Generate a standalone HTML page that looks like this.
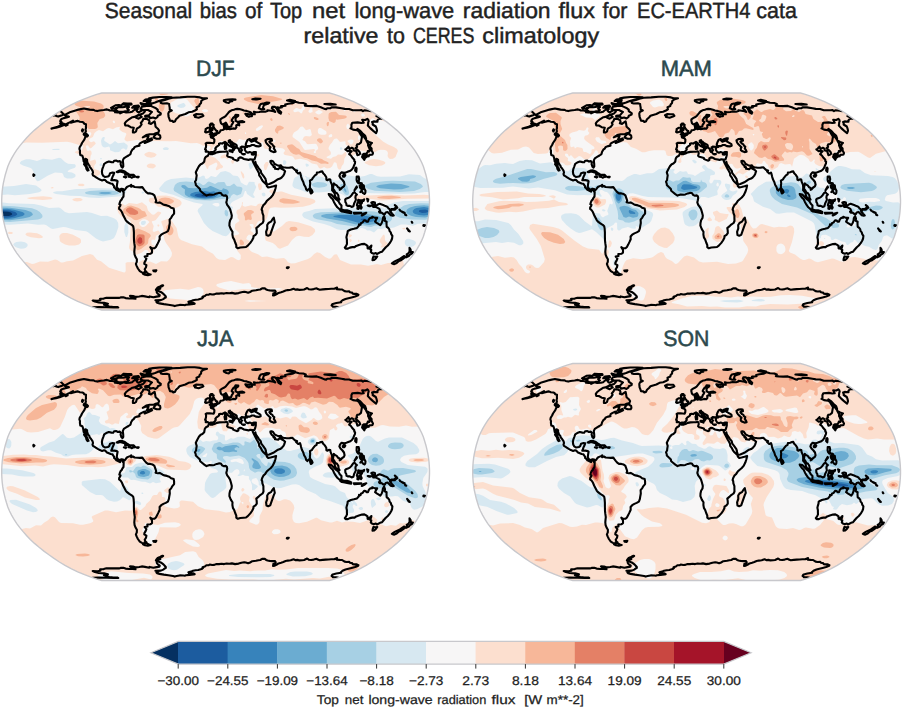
<!DOCTYPE html>
<html><head><meta charset="utf-8"><title>Seasonal bias</title>
<style>
html,body{margin:0;padding:0;background:#fff;}
body{width:902px;height:707px;overflow:hidden;position:relative;font-family:"Liberation Sans",sans-serif;}
svg{position:absolute;left:0;top:0;}
.t{font-family:"Liberation Sans",sans-serif;text-rendering:geometricPrecision;}
</style></head><body>
<svg width="902" height="707" viewBox="0 0 902 707">
<rect width="902" height="707" fill="#fff"/>
<defs>
<clipPath id="c0"><path d="M329.5,310L334.4,308.6L340.2,306.6L346.7,304.2L353.5,301.3L360.2,298.2L366.2,294.9L371.8,291.5L377.2,287.9L382.3,284.3L387.3,280.6L392.1,276.8L396.7,272.9L400.9,269L404.7,265L408.3,260.9L411.6,256.9L414.6,252.8L417.3,248.7L419.6,244.6L421.7,240.5L423.4,236.4L424.7,232.3L425.9,228.2L426.9,224.1L427.8,220L428.5,215.9L429,211.8L429.3,207.7L429.5,203.6L429.5,199.4L429.3,195.3L429,191.2L428.5,187.1L427.8,183L426.9,178.9L425.9,174.8L424.7,170.7L423.4,166.6L421.7,162.5L419.6,158.4L417.3,154.3L414.6,150.2L411.6,146.1L408.3,142.1L404.7,138L400.9,134L396.7,130.1L392.1,126.2L387.3,122.4L382.3,118.7L377.2,115.1L371.8,111.5L366.2,108.1L360.2,104.8L353.5,101.7L346.7,98.8L340.2,96.4L334.4,94.4L329.5,93L101.7,93L96.8,94.4L91,96.4L84.5,98.8L77.7,101.7L71,104.8L65,108.1L59.4,111.5L54,115.1L48.9,118.7L43.9,122.4L39.1,126.2L34.5,130.1L30.3,134L26.5,138L22.9,142.1L19.6,146.1L16.6,150.2L13.9,154.3L11.6,158.4L9.5,162.5L7.8,166.6L6.5,170.7L5.3,174.8L4.3,178.9L3.4,183L2.7,187.1L2.2,191.2L1.9,195.3L1.7,199.4L1.7,203.6L1.9,207.7L2.2,211.8L2.7,215.9L3.4,220L4.3,224.1L5.3,228.2L6.5,232.3L7.8,236.4L9.5,240.5L11.6,244.6L13.9,248.7L16.6,252.8L19.6,256.9L22.9,260.9L26.5,265L30.3,269L34.5,272.9L39.1,276.8L43.9,280.6L48.9,284.3L54,287.9L59.4,291.5L65,294.9L71,298.2L77.7,301.3L84.5,304.2L91,306.6L96.8,308.6L101.7,310Z"/></clipPath>
<clipPath id="c1"><path d="M800.5,310L805.4,308.6L811.2,306.6L817.7,304.2L824.5,301.3L831.2,298.2L837.2,294.9L842.8,291.5L848.2,287.9L853.3,284.3L858.3,280.6L863.1,276.8L867.7,272.9L871.9,269L875.7,265L879.3,260.9L882.6,256.9L885.6,252.8L888.3,248.7L890.6,244.6L892.7,240.5L894.4,236.4L895.7,232.3L896.9,228.2L897.9,224.1L898.8,220L899.5,215.9L900,211.8L900.3,207.7L900.5,203.6L900.5,199.4L900.3,195.3L900,191.2L899.5,187.1L898.8,183L897.9,178.9L896.9,174.8L895.7,170.7L894.4,166.6L892.7,162.5L890.6,158.4L888.3,154.3L885.6,150.2L882.6,146.1L879.3,142.1L875.7,138L871.9,134L867.7,130.1L863.1,126.2L858.3,122.4L853.3,118.7L848.2,115.1L842.8,111.5L837.2,108.1L831.2,104.8L824.5,101.7L817.7,98.8L811.2,96.4L805.4,94.4L800.5,93L572.7,93L567.8,94.4L562,96.4L555.5,98.8L548.7,101.7L542,104.8L536,108.1L530.4,111.5L525,115.1L519.9,118.7L514.9,122.4L510.1,126.2L505.5,130.1L501.3,134L497.5,138L493.9,142.1L490.6,146.1L487.6,150.2L484.9,154.3L482.6,158.4L480.5,162.5L478.8,166.6L477.5,170.7L476.3,174.8L475.3,178.9L474.4,183L473.7,187.1L473.2,191.2L472.9,195.3L472.7,199.4L472.7,203.6L472.9,207.7L473.2,211.8L473.7,215.9L474.4,220L475.3,224.1L476.3,228.2L477.5,232.3L478.8,236.4L480.5,240.5L482.6,244.6L484.9,248.7L487.6,252.8L490.6,256.9L493.9,260.9L497.5,265L501.3,269L505.5,272.9L510.1,276.8L514.9,280.6L519.9,284.3L525,287.9L530.4,291.5L536,294.9L542,298.2L548.7,301.3L555.5,304.2L562,306.6L567.8,308.6L572.7,310Z"/></clipPath>
<clipPath id="c2"><path d="M329.5,580.5L334.4,579.1L340.2,577.1L346.7,574.7L353.5,571.8L360.2,568.7L366.2,565.4L371.8,562L377.2,558.4L382.3,554.8L387.3,551.1L392.1,547.3L396.7,543.4L400.9,539.5L404.7,535.5L408.3,531.4L411.6,527.4L414.6,523.3L417.3,519.2L419.6,515.1L421.7,511L423.4,506.9L424.7,502.8L425.9,498.7L426.9,494.6L427.8,490.5L428.5,486.4L429,482.3L429.3,478.2L429.5,474.1L429.5,469.9L429.3,465.8L429,461.7L428.5,457.6L427.8,453.5L426.9,449.4L425.9,445.3L424.7,441.2L423.4,437.1L421.7,433L419.6,428.9L417.3,424.8L414.6,420.7L411.6,416.6L408.3,412.6L404.7,408.5L400.9,404.5L396.7,400.6L392.1,396.7L387.3,392.9L382.3,389.2L377.2,385.6L371.8,382L366.2,378.6L360.2,375.3L353.5,372.2L346.7,369.3L340.2,366.9L334.4,364.9L329.5,363.5L101.7,363.5L96.8,364.9L91,366.9L84.5,369.3L77.7,372.2L71,375.3L65,378.6L59.4,382L54,385.6L48.9,389.2L43.9,392.9L39.1,396.7L34.5,400.6L30.3,404.5L26.5,408.5L22.9,412.6L19.6,416.6L16.6,420.7L13.9,424.8L11.6,428.9L9.5,433L7.8,437.1L6.5,441.2L5.3,445.3L4.3,449.4L3.4,453.5L2.7,457.6L2.2,461.7L1.9,465.8L1.7,469.9L1.7,474.1L1.9,478.2L2.2,482.3L2.7,486.4L3.4,490.5L4.3,494.6L5.3,498.7L6.5,502.8L7.8,506.9L9.5,511L11.6,515.1L13.9,519.2L16.6,523.3L19.6,527.4L22.9,531.4L26.5,535.5L30.3,539.5L34.5,543.4L39.1,547.3L43.9,551.1L48.9,554.8L54,558.4L59.4,562L65,565.4L71,568.7L77.7,571.8L84.5,574.7L91,577.1L96.8,579.1L101.7,580.5Z"/></clipPath>
<clipPath id="c3"><path d="M800.5,580.5L805.4,579.1L811.2,577.1L817.7,574.7L824.5,571.8L831.2,568.7L837.2,565.4L842.8,562L848.2,558.4L853.3,554.8L858.3,551.1L863.1,547.3L867.7,543.4L871.9,539.5L875.7,535.5L879.3,531.4L882.6,527.4L885.6,523.3L888.3,519.2L890.6,515.1L892.7,511L894.4,506.9L895.7,502.8L896.9,498.7L897.9,494.6L898.8,490.5L899.5,486.4L900,482.3L900.3,478.2L900.5,474.1L900.5,469.9L900.3,465.8L900,461.7L899.5,457.6L898.8,453.5L897.9,449.4L896.9,445.3L895.7,441.2L894.4,437.1L892.7,433L890.6,428.9L888.3,424.8L885.6,420.7L882.6,416.6L879.3,412.6L875.7,408.5L871.9,404.5L867.7,400.6L863.1,396.7L858.3,392.9L853.3,389.2L848.2,385.6L842.8,382L837.2,378.6L831.2,375.3L824.5,372.2L817.7,369.3L811.2,366.9L805.4,364.9L800.5,363.5L572.7,363.5L567.8,364.9L562,366.9L555.5,369.3L548.7,372.2L542,375.3L536,378.6L530.4,382L525,385.6L519.9,389.2L514.9,392.9L510.1,396.7L505.5,400.6L501.3,404.5L497.5,408.5L493.9,412.6L490.6,416.6L487.6,420.7L484.9,424.8L482.6,428.9L480.5,433L478.8,437.1L477.5,441.2L476.3,445.3L475.3,449.4L474.4,453.5L473.7,457.6L473.2,461.7L472.9,465.8L472.7,469.9L472.7,474.1L472.9,478.2L473.2,482.3L473.7,486.4L474.4,490.5L475.3,494.6L476.3,498.7L477.5,502.8L478.8,506.9L480.5,511L482.6,515.1L484.9,519.2L487.6,523.3L490.6,527.4L493.9,531.4L497.5,535.5L501.3,539.5L505.5,543.4L510.1,547.3L514.9,551.1L519.9,554.8L525,558.4L530.4,562L536,565.4L542,568.7L548.7,571.8L555.5,574.7L562,577.1L567.8,579.1L572.7,580.5Z"/></clipPath>
</defs>
<g clip-path="url(#c0)">
<path d="M329.5,310L334.4,308.6L340.2,306.6L346.7,304.2L353.5,301.3L360.2,298.2L366.2,294.9L371.8,291.5L377.2,287.9L382.3,284.3L387.3,280.6L392.1,276.8L396.7,272.9L400.9,269L404.7,265L408.3,260.9L411.6,256.9L414.6,252.8L417.3,248.7L419.6,244.6L421.7,240.5L423.4,236.4L424.7,232.3L425.9,228.2L426.9,224.1L427.8,220L428.5,215.9L429,211.8L429.3,207.7L429.5,203.6L429.5,199.4L429.3,195.3L429,191.2L428.5,187.1L427.8,183L426.9,178.9L425.9,174.8L424.7,170.7L423.4,166.6L421.7,162.5L419.6,158.4L417.3,154.3L414.6,150.2L411.6,146.1L408.3,142.1L404.7,138L400.9,134L396.7,130.1L392.1,126.2L387.3,122.4L382.3,118.7L377.2,115.1L371.8,111.5L366.2,108.1L360.2,104.8L353.5,101.7L346.7,98.8L340.2,96.4L334.4,94.4L329.5,93L101.7,93L96.8,94.4L91,96.4L84.5,98.8L77.7,101.7L71,104.8L65,108.1L59.4,111.5L54,115.1L48.9,118.7L43.9,122.4L39.1,126.2L34.5,130.1L30.3,134L26.5,138L22.9,142.1L19.6,146.1L16.6,150.2L13.9,154.3L11.6,158.4L9.5,162.5L7.8,166.6L6.5,170.7L5.3,174.8L4.3,178.9L3.4,183L2.7,187.1L2.2,191.2L1.9,195.3L1.7,199.4L1.7,203.6L1.9,207.7L2.2,211.8L2.7,215.9L3.4,220L4.3,224.1L5.3,228.2L6.5,232.3L7.8,236.4L9.5,240.5L11.6,244.6L13.9,248.7L16.6,252.8L19.6,256.9L22.9,260.9L26.5,265L30.3,269L34.5,272.9L39.1,276.8L43.9,280.6L48.9,284.3L54,287.9L59.4,291.5L65,294.9L71,298.2L77.7,301.3L84.5,304.2L91,306.6L96.8,308.6L101.7,310Z" fill="#fcdfcf"/>
<path d="M382.9,92.0L387.5,92.0L387.0,95.0L386.0,95.7L385.0,95.4ZM179.3,97.0L181.0,96.9L187.0,99.6L194.0,107.7L194.1,109.0L193.0,112.0L190.0,114.9L187.0,116.6L185.0,116.6L181.0,114.2L176.0,113.3L170.0,110.2L169.2,109.0L169.4,106.0L171.0,102.6L177.0,99.3ZM302.7,105.0L304.0,105.2L305.1,109.0L303.0,110.4L302.0,113.1L301.0,113.6L299.0,111.7L298.0,111.5L295.0,112.2L294.0,112.0L293.3,111.0L293.6,110.0L296.0,108.0L297.0,107.9L299.0,109.1L301.0,108.9L302.3,107.0ZM310.0,109.0L311.0,106.6L312.2,107.0L312.6,112.0L310.0,113.0L308.6,112.0L308.4,111.0ZM202.2,110.0L204.0,109.2L206.0,109.2L207.8,110.0L208.1,111.0L207.0,112.0L204.0,112.3L201.8,111.0ZM318.5,110.0L320.0,110.2L323.0,112.0L320.0,114.2L318.0,114.4L315.6,113.0L315.2,112.0ZM343.6,110.0L344.0,109.1L345.0,109.2L345.6,110.0L345.2,111.0L344.0,111.2ZM353.4,110.0L355.1,110.0L355.5,111.0L355.0,112.0L354.0,112.3L353.3,111.0ZM361.5,114.0L363.0,113.3L364.1,114.0L365.1,116.0L363.0,116.8L362.0,116.5L361.1,115.0ZM371.1,119.0L373.0,118.1L376.0,120.2L379.0,119.0L380.3,120.0L385.0,121.4L401.0,125.2L407.0,128.9L411.0,132.8L415.0,133.6L418.2,135.0L423.9,141.0L428.2,144.0L429.9,146.0L429.9,147.0L429.0,148.3L422.4,153.0L420.6,155.0L421.9,157.0L426.0,161.0L429.0,162.2L432.0,162.4L432.0,195.4L424.0,194.8L405.0,195.4L389.0,194.6L368.0,195.6L358.0,195.3L355.0,194.7L354.0,195.1L353.3,197.0L354.0,199.0L355.0,199.5L371.0,199.0L382.0,200.4L407.0,198.8L432.0,198.4L432.0,251.0L425.9,253.0L423.0,254.7L420.0,258.7L416.3,262.0L415.0,267.2L413.2,269.0L408.0,268.5L405.0,267.1L404.0,265.3L403.1,261.0L402.0,259.9L401.0,260.0L399.0,262.5L396.0,263.7L393.0,262.7L388.0,263.0L381.0,265.1L377.0,264.1L368.0,265.7L361.0,264.6L351.0,264.6L340.0,260.1L337.0,254.6L336.0,254.2L334.0,254.8L331.0,258.3L329.0,258.7L325.1,257.0L320.0,253.0L317.0,252.3L314.1,254.0L311.0,257.3L308.0,258.9L295.0,263.3L291.0,263.4L288.0,262.2L286.0,259.4L284.0,258.1L276.0,258.8L267.0,256.5L262.0,257.1L258.0,254.3L252.0,251.9L249.7,250.0L248.6,248.0L249.6,243.0L249.4,241.0L246.2,239.0L247.0,236.4L249.0,234.6L252.0,235.8L253.0,235.6L253.7,234.0L253.0,232.6L250.7,231.0L250.4,230.0L251.7,228.0L251.4,227.0L249.6,225.0L249.9,224.0L252.5,224.0L253.7,225.0L253.4,228.0L255.0,228.5L255.9,228.0L256.5,224.0L258.0,221.4L263.0,220.0L265.0,220.4L266.0,219.8L267.4,217.0L269.0,209.7L270.0,208.2L271.0,207.7L275.0,207.3L281.0,207.8L291.0,207.6L303.0,206.7L310.0,205.0L314.3,203.0L315.3,202.0L315.4,201.0L314.6,200.0L312.0,198.7L291.0,194.7L282.0,191.5L280.0,191.4L276.0,192.3L275.0,191.8L274.0,189.4L273.0,189.2L270.4,190.0L269.4,191.0L269.4,192.0L272.5,194.0L272.6,195.0L267.0,199.9L266.4,203.0L265.0,204.6L264.0,204.8L260.0,203.4L258.0,204.1L256.0,206.3L251.0,205.2L245.0,206.7L243.1,206.0L242.4,205.0L243.0,202.4L242.0,202.0L241.8,205.0L240.0,208.4L239.0,209.6L238.0,209.4L237.0,210.2L236.6,211.0L236.4,213.0L237.6,215.0L237.5,218.0L239.2,220.0L239.4,221.0L235.2,224.0L234.7,229.0L239.2,233.0L239.1,234.0L237.0,235.1L234.0,235.5L232.9,237.0L232.5,239.0L235.1,246.0L237.9,248.0L237.1,250.0L237.4,251.0L240.8,255.0L240.7,259.0L239.0,260.2L237.0,259.8L233.0,257.3L231.0,256.9L225.0,260.1L219.0,259.5L216.4,258.0L213.0,253.7L207.0,250.4L202.0,246.6L192.0,244.2L181.0,240.0L179.0,238.0L178.2,236.0L176.6,228.0L171.2,220.0L169.0,218.6L161.5,221.0L161.3,222.0L163.7,229.0L163.1,233.0L164.5,240.0L166.0,243.0L170.3,249.0L172.0,253.0L171.6,256.0L169.0,259.7L167.0,261.5L161.0,261.3L156.0,264.1L150.0,261.4L147.0,262.1L144.0,259.9L143.0,259.9L139.1,262.0L138.4,263.0L138.9,265.0L138.0,266.5L136.0,266.0L135.4,263.0L134.0,262.0L127.0,262.2L125.6,263.0L125.7,271.0L125.0,272.2L124.0,272.5L109.0,267.7L101.0,261.3L97.0,259.8L93.1,255.0L90.0,254.1L82.0,256.1L73.0,260.6L67.0,261.2L63.0,262.6L61.0,262.5L57.2,260.0L55.0,259.6L48.0,261.8L40.0,261.4L34.0,263.8L32.0,264.0L27.0,262.1L19.0,262.4L14.0,261.6L12.1,260.0L10.0,254.5L8.0,253.3L0.0,256.4L0.0,155.3L5.0,153.7L10.5,153.0L10.4,152.0L6.0,151.3L0.0,149.3L0.0,145.4L1.0,145.0L6.0,144.0L16.0,144.4L26.0,142.6L42.0,142.8L67.0,141.8L71.0,142.5L79.0,145.0L82.0,144.8L83.5,146.0L82.0,150.2L81.0,150.8L78.0,150.6L74.6,152.0L75.7,153.0L82.0,155.7L85.6,159.0L87.0,162.6L89.0,164.0L93.5,170.0L91.6,174.0L93.0,176.8L95.0,177.1L99.0,175.0L100.0,174.0L100.1,172.0L99.0,170.5L94.2,169.0L94.1,166.0L96.1,163.0L96.0,160.9L95.0,159.5L90.1,161.0L90.6,156.0L91.6,154.0L91.5,152.0L91.0,150.9L90.0,150.3L88.0,150.9L87.0,150.4L85.7,146.0L87.0,145.2L88.0,145.6L90.0,148.2L91.0,148.2L95.5,144.0L95.7,143.0L94.0,141.2L91.0,142.3L89.2,141.0L89.1,140.0L90.0,138.4L92.9,137.0L94.5,133.0L96.9,131.0L99.0,130.0L103.0,131.3L107.0,128.4L109.0,128.1L113.0,129.2L116.0,127.6L120.0,126.7L119.3,129.0L119.8,130.0L122.5,132.0L125.7,133.0L126.4,134.0L124.4,139.0L125.0,140.3L127.0,141.5L138.0,139.8L143.0,142.3L153.0,141.1L170.0,141.3L176.0,140.9L191.0,143.3L197.0,142.9L200.0,143.9L203.0,145.8L207.0,145.4L209.6,146.0L210.6,147.0L210.7,148.0L209.0,150.0L210.0,150.8L212.0,150.3L212.6,148.0L214.0,146.2L217.0,145.9L218.0,145.2L218.6,142.0L220.0,141.0L222.0,141.1L225.0,142.6L228.0,141.9L230.4,144.0L232.0,144.8L234.0,144.2L237.0,141.8L239.0,139.1L240.0,138.9L243.0,139.9L248.0,139.5L251.0,140.6L252.0,140.5L254.0,138.5L255.0,138.6L259.0,143.3L260.0,143.6L262.0,142.1L263.0,142.8L263.9,148.0L265.0,148.8L269.0,149.3L273.0,147.6L277.0,147.5L283.0,148.4L284.9,150.0L284.9,151.0L283.5,153.0L283.8,154.0L285.0,155.1L292.0,156.2L293.2,157.0L295.0,159.8L300.0,158.7L307.0,160.2L312.0,163.4L317.0,164.4L319.0,167.9L320.0,168.6L321.0,168.6L324.0,167.0L327.0,168.5L330.0,168.0L332.0,166.5L334.0,162.4L335.0,162.2L336.5,163.0L337.6,168.0L339.0,169.7L340.9,169.0L341.8,166.0L343.4,164.0L344.1,162.0L344.2,159.0L346.5,155.0L346.1,152.0L345.0,152.1L342.0,154.7L338.0,154.6L336.0,156.3L333.0,157.1L331.0,158.8L327.0,158.0L326.5,157.0L330.2,155.0L330.9,154.0L330.8,152.0L328.6,149.0L328.5,148.0L329.8,145.0L332.0,142.6L334.0,139.2L335.0,138.7L337.0,138.6L340.0,142.0L345.0,141.3L345.6,142.0L345.4,144.0L349.1,148.0L349.9,151.0L349.1,153.0L349.2,154.0L351.0,156.2L352.0,156.4L353.3,155.0L357.0,153.5L360.0,150.6L366.0,151.5L367.5,154.0L369.0,154.4L369.9,154.0L370.1,152.0L371.0,151.1L375.0,152.3L378.0,150.2L381.0,149.7L385.0,149.9L387.0,150.9L388.0,153.0L387.5,156.0L388.6,158.0L390.0,158.9L393.0,158.7L395.5,157.0L397.9,151.0L397.0,149.0L393.9,147.0L388.0,144.6L383.0,141.5L373.2,133.0L374.2,130.0L371.3,126.0L369.8,121.0ZM358.0,239.7L358.0,241.9L359.0,241.8L359.6,241.0L359.3,240.0ZM384.0,234.6L383.0,235.1L379.7,240.0L379.9,242.0L381.6,244.0L381.9,245.0L380.7,247.0L381.0,247.6L385.5,247.0L386.9,246.0L387.9,244.0L387.8,243.0L386.0,241.8L385.0,240.3L384.8,236.0ZM405.0,227.7L402.4,228.0L402.5,229.0L404.0,229.4L405.3,229.0L405.5,228.0ZM260.0,222.4L259.7,224.0L261.0,224.0L261.0,222.6ZM289.0,220.9L286.1,222.0L282.0,225.9L274.0,231.4L273.0,231.4L271.0,229.9L268.0,229.7L267.0,230.1L266.0,231.4L264.9,236.0L265.1,239.0L266.0,240.8L272.8,243.0L275.4,245.0L278.0,248.1L280.0,248.7L288.0,245.5L292.0,240.0L296.0,236.5L299.0,235.7L304.0,236.7L309.0,236.9L312.5,235.0L314.9,232.0L315.2,231.0L314.7,229.0L311.0,226.2L298.0,222.2ZM9.0,231.8L7.6,233.0L9.0,234.1L11.9,234.0L13.0,233.0L12.0,231.9ZM32.0,197.0L26.8,198.0L29.2,199.0L43.0,199.9L51.0,199.2L52.9,198.0L50.1,197.0L43.0,196.3ZM52.0,186.9L50.5,188.0L52.0,188.5L53.7,188.0L53.0,187.1ZM61.0,233.7L59.3,236.0L59.9,241.0L61.0,242.3L65.0,244.5L69.0,245.6L75.0,245.6L79.0,244.4L81.0,242.5L81.0,240.0L80.0,238.6L73.0,234.8L67.0,233.1L63.0,233.1ZM76.0,197.9L72.6,199.0L72.5,200.0L74.3,201.0L77.0,201.4L80.9,201.0L82.6,200.0L82.2,199.0L80.1,198.0ZM79.0,183.8L77.6,185.0L79.2,186.0L83.0,186.2L84.8,185.0L83.0,183.8ZM129.0,152.9L130.0,153.9L130.6,153.0L130.0,152.3ZM142.0,202.3L137.0,204.0L129.0,203.1L125.0,205.4L122.0,203.4L120.0,204.6L118.0,205.0L117.0,207.0L117.3,210.0L118.5,213.0L121.0,216.0L123.0,217.4L129.0,219.5L131.0,222.0L129.9,242.0L129.0,247.0L129.4,249.0L131.0,250.6L134.0,251.9L136.0,254.9L142.0,252.5L145.0,250.0L147.0,250.0L148.1,251.0L149.6,255.0L150.0,255.1L153.0,253.6L154.6,248.0L154.0,245.4L152.0,244.7L151.6,244.0L151.3,241.0L151.7,240.0L153.0,239.5L155.0,240.0L156.0,235.8L159.7,234.0L160.3,233.0L159.0,231.0L158.0,230.6L154.0,232.1L152.6,231.0L153.7,226.0L151.8,222.0L152.0,221.2L155.0,220.6L156.0,219.7L161.3,213.0L160.4,212.0L158.0,211.5L154.0,214.7L152.0,214.5L148.0,210.6L146.7,206.0ZM149.0,151.8L145.7,153.0L144.5,154.0L144.3,155.0L147.0,157.0L151.0,157.8L154.5,157.0L156.6,155.0L156.3,154.0L154.0,152.7ZM158.0,195.8L153.0,197.7L150.0,198.0L149.0,199.0L148.8,201.0L150.7,203.0L155.0,204.1L158.0,206.7L160.0,206.9L163.0,206.4L168.0,208.4L174.0,208.3L177.0,207.4L180.0,205.9L181.5,204.0L181.5,202.0L179.8,200.0L173.2,197.0L166.0,195.4ZM204.0,156.8L203.8,158.0L204.4,160.0L203.0,163.0L205.3,165.0L207.0,169.1L208.0,168.8L208.9,166.0L216.0,162.6L217.0,163.0L217.5,165.0L215.6,169.0L216.2,170.0L217.0,170.2L220.0,168.6L222.0,168.2L223.0,167.0L222.9,166.0L220.6,164.0L219.6,162.0L215.0,157.8L210.0,156.1L205.0,156.2ZM225.0,154.0L221.0,155.9L220.5,157.0L220.7,158.0L222.0,158.5L225.0,157.7L228.0,159.6L228.6,159.0L228.1,158.0L226.0,154.4ZM233.0,158.9L231.1,161.0L231.6,163.0L233.0,164.0L235.2,160.0L234.0,159.0ZM241.0,171.0L240.7,172.0L242.3,177.0L243.0,178.3L244.0,178.4L244.4,177.0L243.8,174.0ZM257.0,154.6L257.0,156.0L258.0,156.7L259.5,155.0L258.0,154.1ZM266.0,161.9L263.8,165.0L264.2,169.0L265.0,170.2L266.2,170.0L268.7,164.0L268.0,162.1ZM349.0,234.5L348.4,236.0L349.0,237.3L350.0,237.5L351.6,236.0L352.0,235.0L350.0,234.2ZM370.0,159.7L364.9,162.0L364.7,163.0L369.0,165.2L376.0,166.2L382.0,165.5L384.7,164.0L385.4,163.0L385.0,162.0L383.2,161.0L378.0,159.4L374.0,159.1ZM27.0,232.8L25.4,234.0L25.8,235.0L27.2,236.0L31.0,237.3L39.0,238.3L41.8,238.0L43.2,237.0L40.8,235.0L37.0,233.3L30.0,232.6ZM158.0,224.2L157.4,225.0L157.5,226.0L158.0,226.6L159.0,226.5L159.4,225.0ZM149.0,163.8L147.1,165.0L146.7,166.0L147.2,167.0L148.8,168.0L153.0,168.4L155.4,167.0L155.8,166.0L155.4,165.0L154.0,164.1L151.0,163.6ZM259.0,183.3L258.2,184.0L258.0,186.0L259.0,189.7L260.0,190.2L261.5,189.0L262.2,186.0L261.0,183.5ZM350.0,238.7L349.3,240.0L350.0,241.9L351.0,242.1L351.9,240.0ZM112.7,121.0L114.0,120.4L115.1,122.0L114.7,123.0L114.0,123.3L113.0,122.6ZM346.5,125.0L348.0,123.6L349.9,126.0L349.3,128.0L348.0,129.2L347.0,128.9L346.3,127.0ZM259.8,126.0L262.0,125.2L263.2,126.0L261.1,129.0L258.0,130.8L256.7,131.0L255.8,130.0L256.0,128.8ZM300.3,127.0L302.0,126.4L303.0,126.7L306.0,130.2L310.0,129.0L310.8,130.0L311.9,135.0L310.0,136.4L306.0,136.1L304.0,136.7L302.3,140.0L305.0,141.2L307.0,143.9L308.0,144.3L315.0,143.7L316.3,144.0L318.0,147.0L318.2,149.0L315.6,151.0L316.0,152.0L315.6,153.0L314.2,153.0L313.6,152.0L315.2,150.0L314.0,148.9L305.0,149.9L304.0,149.3L299.4,142.0L292.6,137.0L292.6,135.0L294.0,132.5L298.0,130.0ZM319.3,128.0L321.0,128.1L325.8,131.0L326.5,132.0L326.4,134.0L325.0,134.8L321.0,134.7L319.0,134.0L318.1,133.0L317.7,131.0L318.2,129.0ZM88.6,132.0L90.0,132.1L91.2,133.0L91.3,134.0L90.0,136.2L88.0,135.9L87.0,134.3L87.0,133.0ZM212.4,132.0L213.0,131.2L214.0,131.8L214.0,133.2L213.0,133.3ZM245.0,134.0L245.0,132.3L246.0,132.4L246.2,134.0ZM329.2,135.0L331.0,134.1L332.0,134.6L332.3,136.0L331.6,137.0L329.0,137.6L328.5,136.0ZM358.0,139.2L358.0,135.6L361.1,136.0L361.8,137.0L361.0,138.9L359.0,140.1ZM273.9,140.0L275.0,139.7L275.7,141.0L275.0,142.2L274.0,142.5L273.2,142.0L273.2,141.0ZM348.8,140.0L351.0,139.5L353.4,140.0L353.4,142.0L352.2,144.0L351.0,144.6L350.0,144.0L347.3,141.0ZM141.4,220.0L143.0,219.2L145.0,219.2L147.2,220.0L149.5,222.0L145.8,226.0L144.0,226.9L142.0,227.0L139.8,225.0L139.1,223.0L139.3,222.0ZM143.8,264.0L145.0,264.0L145.8,265.0L145.1,266.0L144.0,265.9L143.0,265.0ZM224.3,282.0L231.0,281.1L243.0,283.8L249.0,283.1L251.0,284.7L251.2,287.0L255.0,287.8L269.0,288.6L279.0,288.0L282.9,289.0L278.0,289.9L269.0,289.3L254.0,289.6L243.0,288.9L230.0,290.8L219.0,287.4L216.6,286.0L216.3,285.0L217.2,284.0ZM189.0,289.7L198.0,287.1L201.0,287.6L203.0,289.0L203.8,292.0L202.9,295.0L201.1,297.0L193.0,300.6L170.0,298.4L164.8,296.0L163.7,295.0L162.7,293.0L163.7,291.0L166.0,290.0L180.0,288.7ZM0.0,294.0L2.0,294.5L3.0,296.0L2.2,298.0L0.0,299.1ZM244.3,301.0L249.0,300.3L266.6,301.0L250.0,301.7ZM170.4,312.0L172.1,311.0L173.2,312.0Z" fill="#f7f6f6" fill-rule="evenodd"/>
<path d="M183.0,103.0L184.0,103.1L185.5,105.0L185.6,106.0L184.0,107.5L180.7,108.0L178.0,107.0L177.2,106.0L177.9,105.0ZM103.3,137.0L104.5,137.0L104.8,138.0L104.1,140.0L104.6,141.0L110.0,144.5L112.0,143.6L115.0,141.1L118.0,143.3L124.0,142.6L127.4,145.0L127.8,146.0L127.1,149.0L126.0,150.0L124.0,148.4L123.0,148.4L121.6,149.0L120.3,151.0L119.0,151.9L115.0,152.3L110.0,150.2L110.0,148.0L109.0,146.4L105.0,147.4L103.0,146.9L101.6,145.0L101.0,141.0L101.9,138.0ZM163.4,148.0L165.0,147.2L167.0,147.2L168.5,148.0L168.9,149.0L167.8,150.0L164.0,150.0L162.7,149.0ZM339.8,148.0L341.0,147.1L342.2,148.0L342.4,149.0L341.0,150.1L340.0,149.3ZM53.0,149.0L58.0,148.7L60.1,149.0L58.8,150.0L51.9,150.0ZM52.0,159.8L59.0,157.7L61.0,158.3L65.0,161.9L68.0,163.7L75.0,164.3L75.9,166.0L75.0,167.7L70.0,169.4L67.7,171.0L67.9,172.0L72.0,172.6L74.8,174.0L75.6,175.0L75.3,177.0L72.0,178.6L67.0,178.6L64.0,177.0L63.0,174.0L62.0,173.1L55.0,172.6L48.0,175.4L39.0,180.9L37.0,181.2L35.0,178.3L33.6,172.0L32.0,169.0L30.6,168.0L23.0,165.6L20.3,164.0L19.7,163.0L21.3,161.0L26.0,159.2L30.0,159.3L37.0,160.9L43.0,158.8ZM100.3,158.0L101.9,158.0L101.6,159.0L101.0,159.5L100.1,159.0ZM283.1,161.0L284.0,160.1L286.1,161.0L286.4,163.0L285.0,165.1L284.0,165.1L283.0,164.0ZM249.3,163.0L252.0,162.4L254.5,164.0L254.4,165.0L252.0,168.2L250.0,169.6L248.6,165.0L248.5,164.0ZM99.8,164.0L101.0,163.1L101.8,164.0L102.1,165.0L101.5,166.0L100.0,166.0L99.5,165.0ZM305.5,164.0L306.0,163.4L308.0,164.0L308.8,165.0L308.7,166.0L307.0,166.8L306.0,166.4ZM296.7,168.0L298.0,168.1L299.0,172.6L301.0,173.3L303.8,176.0L303.2,177.0L303.3,178.0L306.0,180.1L306.3,178.0L304.5,176.0L306.0,175.9L307.3,177.0L311.0,178.1L315.0,175.8L322.0,177.1L327.0,179.1L331.0,178.7L334.0,180.5L337.0,180.5L339.0,180.2L342.0,177.1L346.0,175.6L349.0,175.5L358.4,177.0L364.8,176.0L370.0,173.9L372.0,174.1L377.0,176.3L381.0,176.7L400.0,176.6L409.0,174.2L420.0,174.9L424.0,178.1L426.0,178.8L432.0,176.9L432.0,191.9L425.0,192.1L414.0,193.6L403.0,193.8L372.0,193.3L354.0,192.0L352.5,193.0L350.0,197.6L348.0,199.5L346.2,197.0L343.0,194.8L337.0,192.3L333.0,192.7L329.0,191.4L319.0,192.4L306.0,192.2L300.0,189.7L294.2,188.0L292.5,186.0L292.5,184.0L293.9,179.0L295.0,177.5L297.7,176.0L298.4,175.0L297.9,173.0L296.0,171.5L295.4,170.0L295.5,169.0ZM225.5,171.0L230.0,172.7L233.0,175.6L237.5,176.0L239.3,178.0L241.0,182.6L245.0,185.1L247.0,185.4L249.0,181.7L254.5,182.0L254.7,184.0L256.3,187.0L253.2,194.0L253.3,195.0L254.9,197.0L254.0,197.9L252.0,197.4L247.0,194.1L246.0,191.0L245.0,191.1L243.0,196.5L233.0,201.4L231.1,203.0L230.2,205.0L230.7,206.0L233.0,207.0L231.9,210.0L232.0,219.0L231.6,221.0L228.8,224.0L228.6,225.0L230.9,229.0L231.2,231.0L228.0,235.0L226.0,236.2L223.0,235.7L212.5,231.0L208.0,227.5L203.9,223.0L197.5,211.0L198.2,209.0L202.6,205.0L202.4,204.0L194.0,202.5L185.0,199.6L173.0,194.7L162.4,192.0L160.4,191.0L159.1,189.0L159.4,188.0L164.6,182.0L167.0,180.5L171.0,179.1L186.0,177.4L195.0,178.4L200.0,177.0L203.0,175.5L204.6,176.0L205.0,178.0L206.0,179.1L208.0,178.4L211.0,176.1L215.0,177.1L216.0,176.9L220.6,172.0ZM215.0,202.9L212.3,204.0L213.1,205.0L216.0,206.6L218.0,206.6L219.0,205.9L219.5,205.0L219.0,203.5L218.0,202.9ZM14.0,185.9L26.0,184.0L36.0,185.6L40.8,189.0L41.5,190.0L41.3,191.0L39.0,192.3L30.0,194.0L15.0,195.3L8.0,194.5L0.0,195.1L0.0,186.7ZM90.5,188.0L113.0,188.4L123.0,191.0L125.0,190.2L126.0,190.8L126.4,192.0L126.0,193.1L124.0,193.9L121.0,196.3L99.0,198.1L89.0,197.5L80.0,195.9L70.0,195.8L56.0,193.9L53.3,193.0L53.4,192.0L57.0,191.3L62.0,191.2L76.0,189.1L83.0,189.0ZM141.5,192.0L143.0,191.4L144.6,192.0L144.1,193.0L143.0,193.5L142.0,193.5ZM148.1,193.0L149.0,191.1L150.0,191.4L150.6,193.0L149.0,193.8ZM262.2,193.0L264.0,192.5L265.0,193.2L265.6,195.0L265.1,196.0L264.0,196.6L262.5,196.0L261.6,194.0ZM402.9,201.0L432.0,201.1L432.0,222.0L425.0,223.4L418.0,223.7L413.0,225.7L406.0,224.4L401.0,224.6L394.0,227.5L387.0,228.5L385.0,228.0L381.0,229.1L378.0,228.8L374.0,232.4L370.0,230.5L367.0,230.6L365.3,229.0L362.0,227.9L360.0,228.2L357.0,230.4L355.0,229.3L353.0,229.1L350.2,231.0L349.0,231.1L346.0,229.7L341.0,229.9L337.0,229.3L330.1,226.0L324.0,224.0L313.0,221.6L304.4,218.0L303.2,217.0L302.1,215.0L302.9,213.0L304.4,212.0L310.0,210.8L315.0,208.9L335.0,208.2L339.0,209.5L343.0,208.4L353.0,207.7L358.0,207.9L373.0,201.7L377.4,203.0L378.3,204.0L379.0,206.4L383.0,207.8L385.0,209.2L385.6,208.0L385.6,206.0L386.6,205.0L389.0,204.6L394.0,202.4ZM0.0,203.0L3.0,202.5L9.0,203.3L34.0,204.1L41.0,205.4L49.0,208.1L59.0,207.5L61.0,208.4L65.0,212.0L69.0,213.3L87.0,212.0L92.0,213.0L101.0,215.9L107.0,215.8L114.0,218.2L116.5,220.0L118.2,223.0L118.4,227.0L116.0,234.3L114.0,238.1L111.0,239.8L103.0,241.4L100.0,240.5L96.0,238.4L88.0,232.3L86.0,231.3L75.4,230.0L66.0,227.2L63.0,227.1L53.0,229.0L51.0,228.6L46.0,225.0L44.0,224.4L38.0,224.8L28.0,223.6L10.0,224.8L0.0,224.5ZM142.1,221.0L145.0,220.8L146.1,222.0L145.2,224.0L144.0,225.0L142.0,225.1L141.0,224.0L141.1,222.0ZM271.9,221.0L273.0,221.3L273.0,222.7L272.0,223.0L271.3,222.0ZM124.4,226.0L126.0,222.3L127.0,222.7L128.3,227.0L128.3,233.0L127.0,237.0L126.0,236.9L125.5,236.0L124.3,232.0ZM406.6,239.0L409.0,238.7L414.0,240.4L415.9,242.0L415.8,244.0L413.8,246.0L411.0,247.3L407.0,246.3L405.5,245.0L404.7,243.0L405.0,240.7ZM16.4,242.0L21.0,241.4L25.0,242.2L27.5,244.0L27.6,246.0L26.0,247.7L24.0,248.5L21.0,248.7L18.0,248.1L15.5,247.0L13.3,245.0L13.5,244.0L14.4,243.0Z" fill="#d7e8f1" fill-rule="evenodd"/>
<path d="M386.0,181.0L393.0,180.8L415.0,181.5L420.8,184.0L422.8,186.0L422.7,187.0L419.8,189.0L414.0,190.9L400.0,191.9L375.0,190.7L368.4,189.0L364.8,187.0L364.7,186.0L365.6,185.0L371.0,182.7ZM179.9,182.0L186.0,181.5L192.0,182.1L196.0,183.2L199.0,182.4L203.0,185.3L205.0,184.6L207.6,182.0L209.0,181.4L215.0,184.1L218.0,182.2L224.0,182.0L225.0,182.7L225.9,185.0L227.0,186.0L230.0,185.9L234.0,183.5L237.0,186.5L240.0,186.7L242.0,187.6L242.5,189.0L241.0,194.0L237.0,195.5L234.0,194.1L233.0,194.3L231.0,196.0L230.3,198.0L229.0,198.7L224.0,198.7L210.0,200.4L197.0,200.1L185.0,197.5L174.1,191.0L173.5,189.0L174.9,185.0L177.2,183.0ZM317.5,182.0L324.0,182.5L327.0,184.0L327.4,185.0L326.7,186.0L324.5,187.0L319.0,187.8L314.0,187.0L311.5,185.0L312.1,184.0L313.7,183.0ZM341.0,184.0L345.0,184.3L347.4,186.0L349.0,192.0L348.8,194.0L348.0,195.1L347.0,195.2L345.0,194.2L341.5,190.0L340.0,186.0L340.1,185.0ZM89.7,191.0L102.0,190.3L111.0,190.4L115.1,191.0L118.0,192.0L119.1,193.0L118.1,194.0L114.0,194.9L101.0,195.8L89.0,194.6L86.3,194.0L84.9,193.0L85.6,192.0ZM409.4,204.0L421.0,203.2L432.0,203.7L432.0,218.5L425.0,219.7L412.0,219.4L400.0,217.8L395.8,216.0L395.1,215.0L395.0,213.0L397.2,210.0L404.0,205.4ZM0.0,206.0L3.0,205.7L14.0,206.3L32.0,208.3L36.8,210.0L39.8,212.0L42.3,215.0L42.5,217.0L41.0,218.5L38.0,219.5L10.0,221.9L0.0,221.7ZM225.5,210.0L227.0,210.3L228.0,212.0L228.2,215.0L227.0,216.5L225.8,216.0L224.6,214.0L224.7,211.0ZM364.0,211.0L374.0,211.4L380.0,212.7L392.0,216.7L392.1,219.0L390.8,221.0L389.3,222.0L385.0,224.2L381.0,225.5L375.0,225.6L371.0,226.9L367.0,226.6L363.0,225.6L355.0,226.4L337.0,223.9L331.0,221.8L317.0,219.2L313.9,218.0L312.7,216.0L313.1,215.0L315.0,213.6L321.0,212.2Z" fill="#a7d0e4" fill-rule="evenodd"/>
<path d="M379.0,185.1L391.0,183.6L401.0,184.1L408.6,186.0L409.8,187.0L402.0,189.2L394.0,189.5L380.0,188.3L376.4,187.0L376.7,186.0ZM182.5,185.0L185.0,185.2L188.0,187.7L189.0,187.9L195.0,188.2L199.0,187.7L201.0,188.4L207.0,187.7L210.0,185.9L211.0,186.0L220.0,190.0L222.0,190.0L223.0,188.2L227.0,189.4L228.5,191.0L228.9,193.0L227.0,195.6L224.0,195.9L214.0,198.7L205.0,199.4L195.0,198.6L188.6,197.0L185.3,195.0L184.7,193.0L185.0,189.5L182.0,187.6L181.1,186.0ZM344.0,188.0L345.0,188.2L346.2,190.0L346.5,192.0L346.0,192.4L343.8,190.0ZM101.6,192.0L109.0,191.9L112.0,193.0L109.0,194.0L105.0,194.2L101.2,194.0L98.5,193.0ZM415.2,206.0L424.0,205.2L432.0,206.1L432.0,216.2L425.0,217.4L416.0,216.9L411.0,215.8L407.6,214.0L406.3,212.0L406.7,210.0L407.5,209.0L410.0,207.5ZM0.0,220.1L0.0,207.4L1.0,207.4L10.0,207.7L25.5,210.0L31.1,212.0L32.8,214.0L32.7,215.0L29.6,217.0L23.0,218.6L10.0,220.2ZM326.3,214.0L343.0,213.2L367.0,213.9L378.2,216.0L380.2,217.0L381.1,218.0L381.2,219.0L379.6,222.0L377.0,223.7L369.0,225.0L363.0,224.1L356.0,224.4L342.0,221.0L327.0,218.5L322.0,217.0L320.9,216.0L322.0,215.0Z" fill="#6bacd1" fill-rule="evenodd"/>
<path d="M195.1,192.0L205.0,191.1L210.0,192.0L214.0,191.2L216.9,193.0L217.8,194.0L217.8,195.0L215.4,197.0L213.0,197.8L205.0,198.5L195.0,197.5L190.8,196.0L190.0,195.0L191.0,193.5ZM416.5,208.0L424.0,207.0L431.0,208.2L432.0,208.6L432.0,213.8L428.0,215.0L424.0,215.5L418.9,215.0L415.1,214.0L413.4,213.0L412.6,211.0L414.3,209.0ZM0.0,209.0L7.0,208.8L14.0,209.7L22.4,212.0L24.0,213.0L24.6,214.0L24.1,215.0L22.5,216.0L14.0,218.2L8.0,219.0L0.0,218.8ZM338.9,215.0L352.0,215.1L366.7,216.0L370.6,217.0L375.8,220.0L375.0,221.0L368.0,222.4L359.0,222.9L346.0,219.2L333.9,217.0L333.3,216.0Z" fill="#3783bb" fill-rule="evenodd"/>
<path d="M196.5,194.0L200.0,193.4L207.0,193.5L212.0,194.2L213.3,195.0L213.0,196.0L211.0,197.0L203.0,197.6L197.7,197.0L195.0,196.0L194.7,195.0ZM419.8,210.0L425.0,209.5L427.2,210.0L428.2,211.0L427.7,212.0L426.0,212.8L422.2,213.0L419.3,212.0L418.8,211.0ZM0.0,217.4L0.0,210.2L1.0,210.1L10.0,210.4L15.3,212.0L17.4,214.0L16.8,215.0L15.2,216.0L11.0,217.3L6.0,217.7ZM360.6,219.0L364.0,218.5L366.4,219.0L366.3,220.0L364.0,220.5L361.1,220.0Z" fill="#1c5c9f" fill-rule="evenodd"/>
<path d="M201.0,196.0L203.0,195.1L207.4,196.0L204.0,196.3ZM0.0,212.0L3.0,211.5L8.0,211.7L11.0,212.6L12.3,214.0L11.6,215.0L9.0,216.0L0.7,216.0L0.0,215.8Z" fill="#053061" fill-rule="evenodd"/>
<path d="M158.5,92.0L159.0,92.0L168.8,92.0L168.1,94.0L167.0,94.6L162.0,95.2L160.0,94.8ZM428.6,92.0L432.0,92.0L432.0,95.6L430.0,94.6ZM246.0,97.4L261.0,95.1L273.0,96.3L282.4,99.0L281.4,100.0L276.7,101.0L258.0,104.0L248.0,101.7L244.5,100.0L243.7,99.0L244.4,98.0ZM155.3,98.0L157.0,97.8L158.0,99.0L157.9,100.0L157.0,100.8L156.0,100.9L155.2,100.0L154.9,99.0ZM196.9,98.0L198.0,98.1L198.7,99.0L199.8,103.0L199.7,105.0L199.0,106.0L198.0,106.4L196.3,105.0L194.2,101.0L195.1,99.0ZM78.7,101.0L83.0,100.7L94.0,101.5L101.0,103.6L103.1,105.0L103.6,106.0L103.4,111.0L105.0,114.1L105.2,116.0L103.4,118.0L99.9,119.0L99.1,120.0L97.3,123.0L97.8,127.0L97.0,128.2L95.0,128.9L88.8,129.0L84.0,124.2L80.0,122.0L79.4,120.0L79.6,117.0L75.8,111.0L80.5,108.0L79.9,107.0L76.0,105.7L74.2,104.0L74.2,103.0L75.3,102.0ZM86.0,105.9L82.8,107.0L87.1,108.0L89.8,107.0L90.1,106.0ZM159.3,103.0L160.0,102.3L163.0,102.6L164.5,104.0L164.7,106.0L164.2,109.0L163.0,111.2L162.0,111.7L160.3,111.0L159.1,109.0L158.7,106.0ZM291.0,103.0L293.0,102.2L293.5,104.0L293.0,105.2L291.4,105.0L290.5,104.0ZM133.8,111.0L135.3,113.0L135.0,113.6L133.0,112.3ZM331.4,112.0L336.0,111.8L339.0,115.1L345.0,115.5L346.4,116.0L346.8,117.0L346.1,118.0L344.0,118.7L337.0,119.7L336.0,119.3L335.5,122.0L334.0,122.9L333.0,122.7L329.3,121.0L328.4,118.0L328.6,114.0L329.2,113.0ZM242.6,113.0L244.0,112.2L244.5,113.0L243.0,113.8ZM288.6,113.0L289.9,114.0L290.0,115.0L288.0,114.0ZM228.9,117.0L229.0,116.2L230.0,116.2L232.6,120.0L232.0,122.0L231.0,123.2L229.4,123.0L228.9,122.0L230.0,119.0ZM313.8,118.0L314.0,117.1L315.0,117.0L317.8,118.0L318.8,119.0L318.0,120.0L316.4,120.0L314.3,119.0ZM269.8,119.0L271.0,118.2L272.0,118.3L272.7,120.0L272.0,120.9L271.0,120.7ZM327.6,122.0L329.0,122.1L328.7,125.0L328.0,126.3L327.0,125.9L326.6,124.0L326.7,123.0ZM277.2,126.0L280.0,125.4L283.4,127.0L283.9,128.0L283.0,129.1L278.5,131.0L278.0,133.8L276.2,133.0L274.9,131.0L275.0,129.4ZM317.5,139.0L319.0,138.2L321.0,138.6L322.9,141.0L322.8,142.0L321.0,143.4L320.0,143.2L317.2,141.0L316.9,140.0ZM279.9,143.0L281.0,142.5L281.6,143.0L281.0,143.9ZM288.0,145.1L292.0,144.3L293.0,144.7L297.0,148.0L299.2,149.0L301.0,151.8L302.0,152.3L315.4,156.0L318.0,158.0L321.9,159.0L324.0,160.6L327.7,162.0L328.9,163.0L328.0,164.0L325.0,163.4L321.0,163.7L317.0,161.5L312.0,160.6L307.0,158.3L304.0,157.8L299.0,154.3L296.0,154.7L293.3,154.0L290.6,152.0L287.2,147.0L287.0,146.0ZM383.4,196.0L392.0,195.8L401.1,197.0L400.0,198.0L389.0,199.0L380.0,198.5L377.8,198.0L377.1,197.0ZM161.6,198.0L165.0,197.6L169.0,198.0L173.1,200.0L173.9,201.0L173.7,202.0L172.0,203.2L168.0,204.7L162.0,203.8L159.4,202.0L158.5,200.0L159.4,199.0ZM280.4,199.0L283.0,198.3L287.0,198.7L294.8,200.0L300.4,202.0L297.7,203.0L293.0,203.7L284.0,203.4L279.9,202.0L279.3,201.0L279.5,200.0ZM127.9,206.0L131.0,205.6L138.0,207.8L140.2,209.0L142.0,210.8L145.0,211.6L147.0,216.0L138.0,219.7L136.0,220.2L134.0,219.8L131.0,217.4L127.6,216.0L126.0,214.2L123.5,213.0L122.8,212.0L123.5,209.0ZM247.9,210.0L251.0,210.1L253.2,211.0L254.0,212.0L253.4,213.0L251.6,214.0L251.1,215.0L251.9,219.0L251.0,220.0L248.0,219.6L246.0,220.5L244.9,220.0L244.9,217.0L243.6,214.0L244.1,213.0ZM167.3,225.0L169.0,224.4L170.0,224.8L172.2,227.0L173.3,229.0L173.5,231.0L173.0,233.0L172.0,234.4L170.0,235.5L168.0,234.6L166.7,232.0L166.0,227.0ZM291.0,227.0L295.0,226.7L297.0,227.7L297.5,229.0L297.0,230.0L295.3,231.0L292.0,231.3L290.0,230.2L289.5,229.0L289.8,228.0ZM136.5,229.0L138.0,228.6L145.0,231.2L150.0,234.0L150.9,236.0L148.5,239.0L148.1,243.0L147.5,244.0L141.0,249.1L138.0,250.3L136.9,250.0L134.1,245.0L133.2,240.0L133.8,231.0ZM239.8,240.0L241.0,239.6L242.0,240.0L243.8,242.0L244.0,244.0L243.0,245.0L241.0,245.2L239.7,244.0Z" fill="#f7b799" fill-rule="evenodd"/>
<path d="M78.9,111.0L82.0,110.1L84.1,111.0L83.9,112.0L82.0,112.5L80.0,112.3ZM127.6,208.0L130.0,207.2L132.0,207.8L137.6,211.0L138.3,213.0L137.6,214.0L135.0,215.0L130.0,214.5L126.0,211.0L126.0,209.6ZM137.3,235.0L139.0,234.3L143.0,234.5L144.2,235.0L144.6,236.0L144.6,243.0L143.0,245.0L140.0,246.2L139.0,246.4L137.0,245.1L135.3,242.0L135.3,240.0Z" fill="#e48066" fill-rule="evenodd"/>
<path d="M138.6,238.0L140.0,237.1L142.0,238.2L142.4,242.0L141.0,243.8L139.0,243.7L137.4,242.0L137.3,240.0Z" fill="#c94741" fill-rule="evenodd"/>
<path d="M64.8,115.0L70.5,111.9L75.5,110.5L78.5,109.6L83.9,108.5L87.0,109.1L89.6,109.6L93.6,109.9L94.6,110.4L97.2,111.1L99.6,110.5L103.7,110.0L106.9,109.4L108.8,110.0L109.9,110.5L112.5,110.5L115.3,111.1L115.1,112.3L117.5,112.5L120.3,112.3L120.1,113.4L123.4,111.7L126.2,112.5L129.9,112.3L132.1,111.7L133.5,110.5L136.7,108.3L137.9,108.9L136.5,110.5L137.4,111.7L138.7,112.3L141.7,110.5L142.8,110.2L145.3,110.3L144.7,111.7L143.1,113.4L140.7,114.3L138.7,114.6L137.0,115.8L134.4,116.9L132.4,117.2L129.0,119.3L125.9,121.8L124.8,123.4L125.3,125.5L127.8,125.5L130.7,127.2L133.8,127.8L132.9,130.6L132.9,132.5L134.5,132.5L136.1,131.3L136.8,128.7L139.8,126.8L141.6,124.3L140.8,123.0L142.7,120.6L143.3,118.7L146.9,119.0L149.0,120.2L149.6,121.8L148.9,123.3L151.0,123.9L153.1,122.4L154.6,121.3L155.2,124.3L155.6,126.8L157.8,128.7L159.1,130.6L158.4,132.5L155.7,133.2L153.8,134.2L149.7,134.2L146.2,135.1L142.8,137.4L145.9,136.1L148.6,135.8L147.9,137.8L146.8,139.7L148.3,139.7L151.4,138.4L152.1,139.7L148.4,141.5L144.7,143.0L145.3,141.1L144.1,141.3L141.6,142.4L139.6,143.7L139.2,145.0L139.5,145.6L137.2,146.1L134.8,146.9L133.7,148.6L132.3,149.7L131.1,151.7L130.5,154.1L128.5,155.5L126.5,156.7L123.8,158.4L122.8,160.5L123.2,163.8L123.3,166.5L122.5,167.6L121.5,166.8L120.6,164.1L120.9,162.2L119.7,161.1L117.9,161.5L116.4,160.6L114.1,160.7L113.2,162.2L111.5,162.1L108.8,161.5L106.9,162.2L104.2,163.8L103.3,166.5L102.3,169.2L101.9,171.5L102.2,173.9L103.3,175.9L104.9,177.0L107.9,176.5L109.2,175.7L110.1,173.2L112.5,172.6L114.2,172.8L113.3,175.3L112.5,176.9L111.7,179.3L111.3,180.2L114.5,180.1L116.8,180.6L117.6,181.3L117.1,184.0L116.8,186.7L117.9,188.7L119.7,189.7L121.5,188.7L123.2,189.0L124.0,190.1L124.4,190.1L125.6,188.7L126.9,187.0L128.1,186.4L130.6,185.4L131.2,184.8L131.1,186.7L132.9,186.0L134.6,187.0L137.5,187.2L139.9,187.4L142.3,187.1L143.4,188.7L144.5,190.1L146.2,192.1L148.0,193.4L150.3,193.4L152.7,194.1L154.4,195.4L155.6,198.8L156.2,200.8L155.6,202.2L157.9,202.8L159.7,202.4L162.7,204.2L164.5,204.9L166.9,205.4L169.3,206.2L171.1,207.8L173.7,208.6L174.1,210.9L174.1,213.6L172.4,215.6L171.3,217.6L169.6,219.7L169.8,223.0L169.3,225.7L168.9,228.4L167.9,231.1L165.7,232.4L163.4,233.4L161.2,234.7L159.6,236.5L159.7,239.2L158.5,241.9L157.2,244.6L155.9,247.0L154.5,248.3L152.2,248.3L150.3,247.2L152.0,249.9L152.0,252.6L150.6,253.7L147.3,254.0L147.5,256.0L144.7,256.6L146.4,258.6L145.6,260.6L144.4,262.6L144.3,263.9L146.4,265.2L146.0,267.2L144.7,269.2L145.4,271.1L146.3,271.6L144.4,272.1L144.2,273.4L141.9,272.4L139.8,271.1L137.9,268.5L136.6,265.9L135.9,263.9L136.8,261.9L136.9,259.3L135.7,257.3L134.6,254.6L134.3,251.9L134.5,249.3L134.8,246.6L134.3,243.2L134.0,240.5L133.9,236.5L133.9,232.4L133.6,228.4L133.2,226.3L131.7,224.8L129.3,223.4L126.7,221.4L125.7,220.1L124.4,217.6L123.1,215.0L122.0,212.3L120.7,210.2L119.1,208.9L119.2,207.3L120.2,205.9L120.5,204.9L119.3,204.2L119.9,202.2L120.5,200.8L121.7,199.5L122.3,198.1L123.5,196.5L123.6,194.1L123.7,192.1L122.8,191.4L122.6,190.1L121.4,189.7L120.4,190.5L120.1,191.7L119.0,191.1L117.5,190.3L116.4,189.8L115.2,188.3L114.1,187.4L114.2,186.4L112.9,184.7L112.4,183.7L110.6,183.5L108.9,182.8L107.0,182.0L105.1,180.0L104.0,179.8L102.1,180.4L99.9,179.6L98.2,178.6L96.1,177.3L94.3,176.2L92.9,175.3L92.5,173.9L93.0,172.6L92.5,170.6L91.1,168.5L89.7,166.9L89.4,165.6L88.6,164.5L87.8,163.2L87.1,161.5L87.1,159.8L86.2,159.0L85.3,158.9L84.8,160.9L85.5,162.9L86.3,164.5L86.9,166.5L87.6,168.5L88.5,170.3L87.6,170.6L86.4,168.8L86.0,166.8L84.9,165.4L84.0,164.2L84.7,162.9L83.7,161.5L83.4,159.8L83.1,157.8L82.4,155.8L80.3,155.1L79.9,152.4L80.0,150.7L79.4,149.0L79.7,147.2L81.1,145.0L82.0,143.0L84.3,139.7L85.5,136.7L87.4,136.4L88.0,135.5L86.8,134.2L85.0,133.2L85.9,131.3L85.5,129.3L86.0,128.1L85.9,126.5L86.0,124.3L84.2,123.7L83.7,122.7L82.4,122.0L79.8,121.8L77.9,120.9L75.5,121.4L73.4,122.0L70.8,122.7L73.1,120.6L69.6,122.4L66.9,123.7L63.3,125.2L59.6,126.8L56.0,127.8L53.0,128.3L51.5,128.6L55.0,127.4L57.6,126.8L61.2,125.3L64.0,123.7L62.8,123.4L60.1,123.4L61.5,122.0L60.2,121.2L60.7,120.0L61.5,119.0L63.7,118.1L66.5,117.5L69.0,116.7L67.8,116.3L65.8,116.3L65.2,115.8L64.8,115.0ZM160.0,101.3L164.9,100.0L168.4,98.7L172.7,97.8L180.2,97.4L187.7,96.7L194.7,96.7L200.0,97.4L202.6,98.3L207.0,98.3L203.0,99.6L201.2,101.0L201.1,103.0L199.6,104.5L199.3,106.1L196.5,107.2L196.9,109.4L195.0,110.5L192.1,111.7L188.5,112.3L185.4,114.0L182.0,114.9L179.5,115.8L178.0,117.5L176.0,119.3L174.9,121.5L173.3,121.9L172.2,120.9L170.0,120.6L169.3,118.7L168.6,116.9L168.4,115.2L168.3,113.4L169.1,111.7L171.8,110.5L169.7,109.4L169.7,107.8L169.3,105.6L169.1,104.0L166.9,103.3L162.8,103.5L160.8,103.0L160.9,102.0L160.0,101.3ZM194.0,115.2L196.0,114.1L199.5,114.3L202.2,114.2L203.4,115.8L202.0,116.6L198.6,117.7L196.4,117.2L194.9,116.9L195.7,116.1L194.0,115.2ZM150.4,105.9L152.9,106.9L156.0,108.3L157.7,109.6L157.7,111.1L160.8,113.4L160.6,114.6L157.8,115.8L157.6,116.9L155.5,118.5L153.2,117.5L150.1,118.1L149.2,116.6L145.1,116.6L145.2,115.8L149.1,115.2L150.6,113.4L152.0,111.9L149.9,111.1L148.1,110.0L143.0,110.0L140.5,108.9L141.9,106.7L146.3,105.9L150.4,105.9ZM115.6,110.0L118.2,111.7L123.7,111.5L127.4,111.1L128.9,110.0L127.2,108.6L129.0,106.9L127.0,106.5L122.8,107.2L118.6,106.9L116.6,108.3L115.6,110.0ZM111.0,107.8L112.0,108.6L115.1,108.2L119.7,106.7L121.4,105.6L118.9,105.1L115.4,105.3L111.0,107.8ZM146.8,103.0L152.8,103.2L155.1,102.5L158.8,101.0L163.9,99.6L168.8,98.3L171.7,97.4L166.4,97.0L159.4,97.0L153.0,97.6L149.1,98.4L150.6,99.6L150.5,101.0L146.8,103.0ZM140.5,103.0L144.1,104.0L150.5,104.0L151.3,104.9L144.7,105.1L141.8,104.8L140.5,103.0ZM135.8,117.5L138.7,118.7L141.7,116.9L139.5,114.8L136.6,116.3L135.8,117.5ZM122.2,104.3L126.9,105.1L131.6,104.5L131.2,103.5L127.3,103.5L123.8,103.2L122.2,104.3ZM143.6,101.0L147.1,101.3L150.8,100.0L149.7,99.1L145.4,99.6L143.6,101.0ZM132.2,107.8L135.6,107.8L139.1,106.7L138.5,105.6L133.9,106.1L132.2,107.8ZM153.5,137.5L156.6,138.7L159.7,138.8L160.4,137.5L160.1,135.4L158.3,134.5L158.4,132.5L156.5,133.8L154.1,136.4L153.5,137.5ZM116.7,171.9L119.2,170.6L122.1,170.4L124.9,171.5L127.6,173.5L129.0,174.3L128.0,174.7L125.1,174.7L125.8,173.7L123.6,172.4L120.2,171.4L117.8,172.2L116.7,171.9ZM128.5,176.6L130.3,174.7L133.8,174.9L135.4,176.6L133.0,177.0L131.6,177.7L130.7,177.0L128.5,176.6ZM123.9,176.9L126.2,177.1L125.4,177.6L123.9,176.9ZM136.9,176.7L138.7,176.9L138.3,177.4L136.9,177.3L136.9,176.7ZM83.9,133.6L86.6,134.5L86.9,136.4L85.5,136.2L83.7,134.5L83.9,133.6ZM82.5,129.3L83.1,130.0L82.4,131.5L81.9,130.6L82.5,129.3ZM66.4,124.5L67.6,124.9L65.7,125.7L65.2,125.2L66.4,124.5ZM33.5,174.3L34.5,175.0L33.6,175.9L33.3,175.1L33.5,174.3ZM153.3,270.5L156.4,270.3L155.7,271.4L153.6,271.1L153.3,270.5ZM146.2,272.0L147.0,272.8L149.3,274.3L150.7,274.6L147.8,275.3L145.0,274.7L143.0,273.7L144.9,273.3L145.0,272.4L146.2,272.0ZM237.3,108.9L239.3,109.1L242.0,109.8L244.0,110.5L246.6,110.9L250.6,112.3L251.9,113.6L249.5,114.3L245.3,113.8L246.8,115.8L248.9,116.9L250.1,116.3L251.9,116.2L251.9,114.8L253.4,114.1L254.8,114.3L253.9,111.7L255.8,112.3L259.2,112.0L261.6,111.5L265.2,111.7L267.5,111.1L267.4,110.2L270.7,110.8L273.6,111.3L275.3,111.9L273.7,110.0L271.8,108.3L272.4,106.7L275.0,106.9L276.8,108.9L278.5,112.3L280.7,113.6L281.2,112.3L278.8,110.0L277.3,107.2L279.8,107.8L282.3,107.2L281.0,106.1L285.6,105.8L285.2,104.5L288.4,103.7L292.5,103.2L295.4,101.8L299.0,102.8L303.2,103.0L305.8,104.0L304.9,105.6L307.7,105.9L312.1,106.1L316.7,105.9L320.8,107.2L324.5,108.9L326.4,109.1L327.2,108.3L330.5,108.3L331.6,107.2L336.0,107.4L341.4,108.3L344.8,108.9L349.1,109.0L352.8,110.3L355.4,110.3L359.5,110.2L361.3,110.0L363.0,111.1L364.6,110.2L368.9,110.8L371.2,111.1M378.0,115.6L377.7,116.3L376.4,116.1L380.6,118.1L381.9,118.7L379.6,118.7L378.0,119.6L377.4,120.6L377.5,121.8L373.7,121.4L372.1,122.0L372.8,123.7L372.6,124.5L375.8,126.5L376.4,128.1L377.0,130.6L376.6,131.9L376.1,133.2L373.0,130.6L370.2,128.1L367.8,125.5L368.1,124.0L368.2,122.4L368.7,121.2L368.3,119.7L367.3,118.9L365.3,120.0L362.2,119.7L363.7,122.7L361.3,123.0L357.7,122.4L352.3,122.7L351.4,124.7L351.5,127.4L350.5,128.4L353.0,129.6L357.0,130.2L358.9,131.5L360.6,134.5L362.0,136.7L361.5,139.3L361.0,142.4L359.1,144.0L357.2,144.4L356.6,145.7L357.1,147.0L355.5,148.1L357.4,149.7L359.4,151.7L360.2,153.7L358.9,154.8L357.4,155.1L356.8,153.1L356.1,151.1L353.9,150.4L353.1,148.4L351.8,147.7L349.5,149.2L348.5,146.6L346.5,148.8L345.4,149.4L347.7,151.3L349.4,150.7L351.7,151.3L350.4,152.4L349.2,154.1L350.9,155.5L352.5,157.8L354.3,159.8L354.3,161.1L355.1,161.8L355.0,163.4L353.9,165.8L353.2,167.6L351.9,169.5L350.4,170.7L348.2,171.5L345.5,172.6L344.1,172.8L344.0,174.2L343.1,172.6L341.4,172.4L340.1,173.9L339.4,175.9L340.5,178.0L342.5,180.0L344.0,182.0L344.6,184.7L343.9,186.4L342.2,187.5L340.6,189.4L339.7,189.8L339.6,188.0L338.0,187.2L336.7,185.4L334.8,184.4L333.9,183.3L333.7,184.7L333.2,186.7L333.0,188.7L334.5,190.7L335.4,192.4L337.0,193.2L338.3,195.2L338.6,197.9L339.5,199.6L338.5,199.6L336.0,197.7L334.9,195.4L334.6,193.4L333.0,191.1L332.1,190.3L332.2,187.4L332.0,184.7L330.6,181.6L330.3,179.6L328.9,179.3L327.6,180.2L326.4,179.7L326.3,177.3L324.8,174.9L323.2,173.2L322.3,171.4L320.9,171.6L319.2,172.2L316.9,172.6L316.6,174.3L314.9,175.3L312.9,177.8L312.1,179.3L309.9,180.6L310.2,183.3L309.9,186.0L310.0,187.6L309.1,189.0L308.2,189.5L307.4,190.6L306.2,189.4L305.5,187.0L304.1,184.7L303.3,182.0L301.9,179.3L301.1,176.6L300.5,173.9L300.0,172.6L298.2,173.5L296.1,171.5L297.1,170.6L295.1,169.9L293.5,168.5L292.5,167.3L289.6,167.6L286.7,167.7L283.2,167.2L281.6,166.5L280.9,165.2L278.6,165.7L276.6,164.9L274.7,164.0L273.1,161.5L271.5,160.7L270.4,161.1L270.5,162.2L271.7,164.2L273.2,165.6L273.6,167.1L274.5,166.5L275.3,167.9L275.0,168.8L278.2,169.1L280.3,167.2L280.6,166.1L281.1,168.5L283.5,169.7L285.1,171.2L284.2,173.9L283.1,175.9L281.8,177.3L280.1,178.6L277.3,179.6L273.3,182.3L269.3,184.0L266.9,184.4L266.3,182.7L265.8,180.6L265.5,178.9L263.6,176.2L261.3,173.2L260.7,170.6L258.8,168.3L257.7,166.5L255.8,163.8L255.4,161.9L254.9,164.1L254.0,163.4L252.8,161.3L252.3,159.5L254.5,159.4L255.2,157.4L255.8,155.1L255.8,153.1L255.9,152.0L254.0,152.1L251.9,152.9L249.7,152.0L247.9,152.7L246.2,152.0L244.8,149.7L245.0,148.4L244.3,147.4L245.7,147.2L247.3,147.0L247.4,146.1L249.9,146.1L251.9,145.0L253.8,145.0L255.9,146.1L258.7,146.4L260.7,145.7L260.4,144.1L258.3,142.9L256.2,141.7L255.3,140.7L256.4,139.7L256.8,138.2L255.1,138.4L252.8,139.3L254.4,140.7L253.2,141.1L251.4,141.7L250.1,140.5L251.1,139.7L249.2,139.1L247.6,140.0L247.1,141.1L246.3,142.6L245.7,144.4L246.3,145.7L247.2,146.1L245.6,146.4L244.8,147.0L244.0,146.8L241.8,146.6L241.7,147.7L240.5,147.3L240.7,148.6L242.1,150.1L241.3,150.7L241.2,152.4L240.1,152.0L239.2,150.8L238.7,149.0L236.9,147.3L236.7,145.3L235.6,144.4L232.8,143.0L231.6,141.7L230.3,141.1L230.0,140.1L228.7,140.7L228.9,142.1L230.3,143.0L231.1,144.6L233.0,145.3L235.8,147.4L235.8,148.0L234.2,147.0L233.8,148.1L234.4,149.0L233.8,150.0L233.0,150.5L233.2,149.3L232.8,147.7L231.4,146.8L229.2,145.7L227.5,144.4L226.7,143.0L225.0,141.8L223.6,142.6L222.1,143.6L220.4,143.2L219.0,143.7L219.1,145.0L217.8,146.0L216.4,146.8L215.3,148.4L215.8,149.3L214.8,150.8L213.4,152.0L210.6,152.1L209.6,152.9L208.6,152.1L207.5,151.5L205.7,151.7L205.9,149.7L205.1,149.3L206.0,147.0L206.1,145.0L205.7,143.4L207.0,142.8L209.7,142.9L211.8,143.0L213.7,143.2L214.3,141.6L214.4,139.7L213.3,138.2L211.0,137.4L210.7,136.4L212.5,136.1L213.9,136.2L213.7,134.9L214.6,135.3L215.8,134.9L217.2,133.5L219.2,132.7L220.2,131.3L220.6,130.2L222.6,130.0L224.1,129.3L224.1,127.4L223.6,125.5L225.8,124.7L225.7,126.2L226.3,127.4L225.3,128.3L226.6,129.3L228.1,128.8L229.8,129.3L232.0,128.7L234.1,128.4L235.3,128.7L236.4,127.4L236.2,125.5L237.5,124.7L239.3,125.3L239.1,123.9L238.1,122.8L240.4,122.3L242.3,122.3L244.3,121.9L242.5,121.1L240.2,121.3L237.5,121.9L235.7,120.8L235.5,118.7L236.2,117.3L238.2,115.8L238.3,115.0L235.6,114.8L234.9,116.3L233.1,117.9L231.8,120.0L231.8,120.9L233.4,121.8L232.7,123.3L231.6,124.9L231.3,126.5L229.7,126.8L229.6,127.5L228.4,127.5L227.9,126.4L226.5,123.7L225.8,122.7L224.7,123.3L223.3,124.2L221.9,124.2L220.9,123.0L220.3,120.6L220.4,119.3L222.1,118.1L223.8,117.3L225.6,116.1L226.8,114.6L228.3,112.8L229.5,111.5L231.5,110.3L233.9,109.8L235.5,109.1L237.3,108.9M60.0,111.1L61.4,111.9L62.7,113.4L64.0,114.3L62.0,115.2L58.2,116.6L56.3,116.0L55.7,115.2L53.2,115.6M265.8,141.7L265.5,140.4L267.3,139.1L269.9,138.7L271.6,139.1L272.0,140.7L270.3,141.1L270.2,142.0L269.4,141.7L271.1,143.7L272.4,144.4L272.9,145.7L274.3,146.6L273.8,148.4L275.1,150.4L275.6,151.7L273.5,152.1L271.4,151.3L269.8,150.1L269.8,148.4L270.5,147.2L268.9,145.7L267.2,144.1L266.4,143.0L265.8,141.7ZM252.3,159.5L250.2,159.3L248.6,159.9L244.0,159.0L241.6,157.6L239.9,157.4L238.3,158.4L238.4,160.1L237.3,160.7L235.5,160.1L233.2,159.1L232.8,157.9L230.3,157.2L228.2,156.8L227.1,155.8L227.7,153.7L227.5,152.0L226.7,151.3L225.0,151.7L222.8,151.7L219.5,151.9L216.7,152.4L214.5,153.5L212.8,154.1L210.6,154.1L209.6,153.2L208.9,153.5L207.9,155.8L206.0,156.7L204.8,158.4L204.4,160.5L204.2,161.8L202.4,163.6L200.7,164.2L198.9,166.3L197.3,169.2L195.8,172.2L196.0,173.2L196.7,175.3L196.2,178.6L196.1,180.0L195.0,181.7L195.8,184.0L195.8,185.0L197.3,186.4L198.4,187.6L199.9,189.1L200.2,190.7L202.0,192.2L204.3,194.1L206.5,195.6L209.7,194.5L212.6,194.8L214.4,194.4L216.8,193.4L218.8,192.9L220.9,193.0L222.1,194.8L223.6,195.7L225.7,195.4L226.9,196.4L227.2,198.1L226.8,200.2L226.3,202.4L227.2,204.9L228.7,206.9L229.8,208.6L230.2,209.6L231.0,212.3L231.8,215.6L231.5,218.0L230.1,220.3L229.5,223.0L229.4,225.7L230.8,229.1L232.5,231.8L232.4,234.5L232.9,237.4L234.3,239.8L235.2,242.5L236.3,245.2L236.3,247.2L237.8,248.3L240.3,247.5L243.7,247.2L246.0,247.0L247.8,245.6L250.3,242.9L252.0,240.5L253.4,237.8L253.5,236.2L255.5,234.9L256.8,233.1L256.7,230.4L256.3,228.1L258.3,226.4L260.2,224.6L262.6,223.0L263.5,221.0L263.4,218.3L263.4,215.6L262.4,212.9L262.2,210.6L261.6,209.6L262.1,207.8L263.4,205.1L264.9,203.8L266.7,201.1L268.7,199.2L270.8,197.5L272.6,195.4L274.3,192.1L275.4,188.7L276.1,185.6L273.5,186.3L270.6,187.0L268.2,187.5L266.8,186.0L266.6,184.7L264.5,182.7L262.7,180.9L261.8,179.6L260.7,177.3L259.2,175.3L259.0,173.2L258.0,171.2L256.8,169.2L255.4,166.5L254.1,164.1L252.8,161.3L252.3,159.5ZM273.8,217.6L274.8,222.4L273.9,224.4L272.9,227.1L271.5,231.1L270.2,234.9L268.2,235.8L266.5,235.1L266.1,231.8L267.3,228.4L267.2,225.0L268.5,223.0L270.9,221.7L272.2,219.7L273.8,217.6ZM209.7,134.4L212.0,134.1L214.6,133.6L216.9,132.9L217.3,131.0L215.8,130.6L215.6,129.7L214.4,128.6L213.9,127.2L213.1,126.5L213.7,124.9L211.7,124.7L212.5,123.5L210.8,123.5L209.8,124.9L210.2,126.8L210.8,127.7L210.7,128.4L212.3,128.3L212.6,130.0L211.1,130.4L211.2,131.5L210.3,132.2L212.0,132.7L211.2,133.2L209.7,134.4ZM209.3,131.6L209.6,130.0L210.0,128.6L209.2,127.8L207.5,127.8L205.6,129.1L205.7,130.2L205.1,131.9L205.9,132.5L208.0,131.9L209.3,131.6ZM223.9,101.0L226.5,102.5L228.9,102.9L230.1,101.5L232.3,101.3L231.2,100.0L235.5,99.6L232.5,99.2L228.2,99.6L226.0,99.8L223.8,100.3L223.9,101.0ZM258.8,108.3L259.3,106.9L259.9,105.1L260.9,104.0L264.3,103.2L266.8,102.5L269.3,102.7L267.9,103.8L264.0,105.1L263.3,106.7L263.0,108.3L264.3,109.2L261.3,109.2L258.8,108.3ZM287.0,100.5L289.8,99.9L295.1,101.0L292.0,101.5L287.0,100.5ZM324.4,104.0L330.4,103.8L335.7,104.5L330.4,104.8L324.4,104.0ZM252.3,99.3L256.8,99.4L260.6,98.7L255.4,98.5L252.3,99.3ZM357.4,128.9L359.9,130.6L362.4,133.2L365.2,135.8L366.1,138.4L366.0,139.7L364.1,137.1L361.9,134.5L359.8,131.9L357.4,128.9ZM368.1,145.7L368.1,143.7L366.3,140.5L369.1,142.0L372.0,143.0L370.9,143.8L370.6,145.0L368.2,144.6L368.1,145.7ZM369.4,146.0L371.6,148.4L371.6,150.4L373.0,153.1L372.5,154.4L371.4,154.8L369.4,154.9L368.7,156.4L367.2,155.1L365.1,155.5L363.0,155.8L362.6,154.8L363.8,153.7L366.5,153.5L367.8,152.0L367.8,151.1L369.4,151.5L369.7,149.3L369.0,147.7L368.4,146.1L369.4,146.0ZM362.2,156.4L364.0,156.2L364.9,158.4L364.3,159.8L363.2,158.4L362.1,157.1L362.2,156.4ZM364.7,155.8L366.8,155.5L367.0,156.7L365.9,157.4L364.9,156.7L364.7,155.8ZM356.1,167.6L356.6,168.5L356.3,171.9L355.1,170.6L355.4,168.3L356.1,167.6ZM342.7,175.7L344.6,174.6L345.3,175.3L344.4,176.7L343.0,176.6L342.7,175.7ZM310.3,188.3L311.8,190.1L312.6,192.1L311.7,193.2L310.8,193.4L310.1,191.4L310.1,189.7L310.3,188.3ZM356.7,176.6L358.7,176.6L359.2,179.3L358.6,181.3L359.4,182.7L361.8,183.3L362.0,184.4L360.1,183.3L358.3,183.1L357.1,181.6L356.6,180.0L356.7,176.6ZM360.3,192.1L361.9,190.1L364.1,188.3L365.5,190.7L365.3,193.0L364.4,194.0L362.7,192.8L362.0,191.4L360.3,192.1ZM362.3,184.7L363.8,185.4L364.1,187.6L363.3,187.8L362.5,186.0L362.3,184.7ZM359.7,185.6L361.2,186.0L361.6,189.0L360.5,188.3L359.9,187.2L359.7,185.6ZM354.5,190.2L357.0,187.4L356.6,186.4L355.3,188.7L354.5,190.2ZM345.2,199.5L345.9,198.8L347.9,198.1L349.8,197.1L351.6,195.2L353.2,192.8L354.4,192.1L355.3,193.2L356.9,194.5L355.7,195.7L355.4,197.5L355.9,199.9L355.3,201.1L354.1,203.5L353.4,206.2L351.6,206.9L349.8,205.8L348.1,205.9L346.5,205.3L346.3,203.5L345.4,202.2L345.2,199.5ZM328.7,194.0L331.3,194.5L333.2,196.5L335.0,198.4L336.8,199.8L338.6,201.5L339.8,203.8L341.5,205.5L341.3,209.3L339.6,209.3L337.3,207.3L335.6,204.9L333.9,201.9L332.7,199.2L330.8,197.5L329.0,195.0L328.7,194.0ZM340.4,210.6L342.0,209.6L344.3,210.4L347.0,210.2L349.3,210.9L351.3,212.0L351.2,213.2L348.3,212.7L344.8,212.0L341.9,211.5L340.4,210.6ZM358.2,199.9L360.0,200.2L362.4,200.3L364.2,199.3L363.6,201.0L361.8,201.0L359.4,201.0L358.5,202.6L359.7,203.1L362.1,202.6L361.2,203.9L360.4,204.2L361.1,206.2L361.7,207.6L361.0,208.6L360.0,207.8L359.4,205.5L358.6,205.8L358.5,208.9L357.4,208.8L357.6,206.2L356.8,205.1L357.4,203.2L358.0,201.2L358.2,199.9ZM353.9,212.8L356.6,212.7L358.4,212.7L361.4,212.7L361.1,213.3L357.7,213.5L354.2,213.6L353.9,212.8ZM361.7,215.4L363.6,213.6L366.3,212.8L364.8,214.0L362.3,215.4L361.7,215.4ZM367.1,198.8L368.3,199.5L367.8,201.5L367.5,200.2L367.1,198.8ZM367.7,205.5L371.0,205.9L369.4,206.2L367.7,205.5ZM371.3,202.6L373.1,202.0L374.9,202.6L375.1,204.9L376.0,205.9L377.8,204.5L379.6,203.8L383.1,205.0L385.5,206.1L387.2,206.7L388.7,208.6L390.6,209.6L390.9,210.9L389.9,210.9L391.0,212.3L392.1,213.6L393.7,215.4L392.7,215.6L390.7,215.2L389.1,213.6L387.5,212.0L385.7,212.5L384.9,213.9L383.2,213.9L381.5,212.5L379.7,212.7L379.0,211.6L380.2,210.9L379.4,208.9L377.1,207.6L374.8,206.6L373.3,206.9L372.4,205.3L374.2,204.6L372.5,204.2L371.3,202.6ZM391.9,209.0L394.2,208.9L396.1,207.2L396.4,208.2L394.8,209.6L392.4,209.8L391.9,209.0ZM394.8,205.0L396.7,206.6L397.3,207.8L396.1,206.6L394.8,205.0ZM399.5,209.6L400.6,210.9L400.0,210.6L399.5,209.6ZM401.7,211.6L404.6,212.7L403.4,212.7L401.7,211.6ZM405.0,214.1L406.3,215.2L405.3,215.0L405.0,214.1ZM407.1,228.4L409.8,231.5L408.8,231.1L407.1,228.4ZM423.5,225.0L425.0,225.2L424.3,226.0L423.3,225.7L423.5,225.0ZM411.7,221.7L412.3,222.8L412.0,222.6L411.7,221.7ZM347.7,231.1L348.3,230.8L350.9,229.5L353.9,228.8L357.0,227.9L358.9,225.7L359.0,224.4L360.5,224.8L360.9,223.3L362.6,222.4L364.1,220.3L365.8,220.6L366.5,221.7L368.0,221.7L368.7,219.7L369.7,218.3L370.3,217.9L372.1,217.8L372.2,216.7L375.0,217.9L377.2,217.9L376.0,219.7L375.1,221.7L376.7,222.8L378.8,224.1L380.3,225.2L381.7,223.0L382.6,220.3L382.8,218.3L384.1,216.0L385.0,218.7L384.7,220.7L386.6,221.7L386.5,223.7L386.7,226.8L388.0,227.7L389.2,229.1L389.6,231.1L390.8,232.4L391.2,234.1L392.4,235.8L392.1,238.5L391.3,240.5L389.7,243.2L387.8,245.5L385.8,247.2L383.8,249.5L382.1,251.7L380.0,252.3L376.9,254.0L375.8,253.0L373.8,253.7L371.9,253.0L370.8,251.9L371.3,249.9L370.2,249.3L371.2,246.6L371.4,245.5L369.8,247.2L368.0,248.6L367.6,248.2L367.5,245.9L365.8,244.6L364.4,243.9L362.0,244.1L358.9,245.0L356.2,245.9L354.6,247.1L352.4,247.1L349.9,247.6L347.9,248.6L345.6,248.6L344.8,247.6L346.1,245.9L347.0,243.9L346.9,241.9L346.9,239.8L346.4,237.2L346.9,235.1L347.5,233.1L347.7,231.1ZM373.5,256.4L375.2,256.8L377.3,256.5L376.1,258.2L374.2,260.0L372.5,260.1L372.7,258.6L373.5,256.4ZM409.5,247.9L410.5,249.3L410.8,251.0L410.7,252.1L412.9,252.1L412.4,253.3L410.0,254.6L408.8,256.0L406.1,257.4L405.8,257.0L407.1,255.6L406.7,254.4L408.3,253.3L409.5,251.7L409.6,250.3L409.5,247.9ZM404.3,256.0L405.0,257.3L402.9,259.0L401.1,260.2L398.9,261.0L396.7,263.0L394.4,264.1L393.0,263.9L391.9,263.3L394.3,261.7L396.2,260.6L399.4,259.3L401.7,257.7L404.3,256.0ZM287.1,267.2L288.8,267.3L288.0,268.1L286.8,267.9L287.1,267.2ZM224.5,146.4L226.2,146.4L226.2,148.8L225.0,149.0L224.5,146.4ZM224.9,144.4L225.8,143.7L225.8,145.7L225.2,145.6L224.9,144.4ZM229.4,150.4L232.8,150.1L232.5,152.1L230.0,151.3L229.4,150.4ZM242.0,153.7L244.9,154.1L243.1,154.4L242.0,153.7ZM251.8,154.4L254.2,153.6L253.5,154.7L251.8,154.4ZM92.6,307.2L99.0,307.1L106.4,307.3L113.6,307.4L118.3,307.4L117.5,307.1L112.4,306.9L109.0,306.5L107.2,305.6L103.9,304.7L106.8,304.6L107.9,303.7L104.1,302.9L98.8,302.5L94.9,301.5L92.7,300.5L97.4,300.8L100.4,300.3L100.5,299.5L100.1,298.8L103.7,298.6L106.5,297.7L110.8,297.9L114.8,297.9L118.9,297.9L120.6,297.4L123.2,297.2L125.6,298.1L129.2,298.5L132.4,298.5L135.5,298.8L134.6,297.9L131.6,297.1L130.0,295.9L133.1,296.1L135.9,296.9L139.3,296.5L141.8,295.9L144.9,296.4L149.3,297.2L149.6,296.4L153.4,297.3L156.6,296.6L159.5,296.1L159.7,295.2L157.5,293.5L156.7,292.2L156.8,291.0L155.9,289.9L156.7,288.7L157.7,287.5L159.4,286.8L161.4,285.7L162.5,285.2L163.1,285.5L162.2,286.3L161.1,286.5L160.5,287.2L159.7,288.3L160.3,288.7L158.9,289.0L158.0,290.2L158.8,291.2L160.7,291.9L162.5,293.2L163.7,294.1L164.7,295.2L165.8,296.5L165.8,297.5L164.6,298.0L163.3,299.1L160.9,300.1L155.4,300.2L158.6,301.0L156.4,301.9L157.2,302.7L159.5,303.4L163.9,304.1L168.3,304.7L173.0,305.5L174.8,306.1L176.6,305.6L179.7,304.9L183.3,305.0L185.1,305.2L186.0,304.7L189.5,304.4L193.7,304.0L194.7,303.7L193.4,302.8L189.1,303.0L188.4,301.8L191.0,301.1L193.0,300.2L195.6,299.8L198.3,299.5L201.6,298.6L203.0,297.4L202.5,296.8L204.9,296.0L206.4,294.7L208.5,294.8L209.7,294.0L212.2,294.5L214.3,294.4L216.5,293.5L219.0,293.6L221.6,293.2L224.1,293.6L226.7,293.0L229.2,293.2L231.9,292.9L235.1,293.6L238.6,293.1L241.4,292.2L244.2,291.7L245.8,292.1L248.1,292.8L250.1,292.0L252.3,290.7L256.0,290.3L258.4,289.7L260.3,289.5L262.1,288.4L264.8,288.4L266.1,289.4L267.6,289.9L269.9,290.5L272.5,290.6L275.1,290.6L275.7,291.8L275.3,292.8L273.3,293.4L273.3,294.4L273.0,295.5L274.8,295.2L276.8,294.1L278.5,292.9L281.1,292.2L283.3,291.5L285.6,290.6L287.8,290.1L290.7,289.7L293.6,288.7L295.2,289.6L298.0,289.4L299.3,289.9L302.0,289.8L304.1,289.5L307.1,288.0L308.7,289.2L311.2,289.5L313.7,289.1L316.7,288.3L317.7,289.1L319.7,289.8L322.8,289.4L325.7,289.1L328.5,289.0L331.4,288.8L334.2,288.7L337.1,287.6L336.7,289.2L339.6,289.4L342.2,289.5L343.4,290.3L344.6,291.1L346.6,291.5L349.3,291.4L350.0,292.2L352.1,292.6L352.8,293.6L354.4,293.9L356.9,293.9L358.4,294.6L358.2,295.2L355.1,296.5L351.6,297.4L348.4,298.2L345.5,299.0L342.5,300.3L340.8,301.7L341.1,302.3L336.3,303.0L332.8,303.9L332.0,304.6L331.6,305.5L332.6,306.0L332.8,306.6L334.3,306.8L336.2,306.9L337.7,307.1L338.6,307.2" fill="none" stroke="#000" stroke-width="2.1" stroke-linejoin="round" stroke-linecap="round"/>
</g>
<path d="M329.5,310L334.4,308.6L340.2,306.6L346.7,304.2L353.5,301.3L360.2,298.2L366.2,294.9L371.8,291.5L377.2,287.9L382.3,284.3L387.3,280.6L392.1,276.8L396.7,272.9L400.9,269L404.7,265L408.3,260.9L411.6,256.9L414.6,252.8L417.3,248.7L419.6,244.6L421.7,240.5L423.4,236.4L424.7,232.3L425.9,228.2L426.9,224.1L427.8,220L428.5,215.9L429,211.8L429.3,207.7L429.5,203.6L429.5,199.4L429.3,195.3L429,191.2L428.5,187.1L427.8,183L426.9,178.9L425.9,174.8L424.7,170.7L423.4,166.6L421.7,162.5L419.6,158.4L417.3,154.3L414.6,150.2L411.6,146.1L408.3,142.1L404.7,138L400.9,134L396.7,130.1L392.1,126.2L387.3,122.4L382.3,118.7L377.2,115.1L371.8,111.5L366.2,108.1L360.2,104.8L353.5,101.7L346.7,98.8L340.2,96.4L334.4,94.4L329.5,93L101.7,93L96.8,94.4L91,96.4L84.5,98.8L77.7,101.7L71,104.8L65,108.1L59.4,111.5L54,115.1L48.9,118.7L43.9,122.4L39.1,126.2L34.5,130.1L30.3,134L26.5,138L22.9,142.1L19.6,146.1L16.6,150.2L13.9,154.3L11.6,158.4L9.5,162.5L7.8,166.6L6.5,170.7L5.3,174.8L4.3,178.9L3.4,183L2.7,187.1L2.2,191.2L1.9,195.3L1.7,199.4L1.7,203.6L1.9,207.7L2.2,211.8L2.7,215.9L3.4,220L4.3,224.1L5.3,228.2L6.5,232.3L7.8,236.4L9.5,240.5L11.6,244.6L13.9,248.7L16.6,252.8L19.6,256.9L22.9,260.9L26.5,265L30.3,269L34.5,272.9L39.1,276.8L43.9,280.6L48.9,284.3L54,287.9L59.4,291.5L65,294.9L71,298.2L77.7,301.3L84.5,304.2L91,306.6L96.8,308.6L101.7,310Z" fill="none" stroke="#c8c8cc" stroke-width="1.4"/>
<g clip-path="url(#c1)">
<path d="M800.5,310L805.4,308.6L811.2,306.6L817.7,304.2L824.5,301.3L831.2,298.2L837.2,294.9L842.8,291.5L848.2,287.9L853.3,284.3L858.3,280.6L863.1,276.8L867.7,272.9L871.9,269L875.7,265L879.3,260.9L882.6,256.9L885.6,252.8L888.3,248.7L890.6,244.6L892.7,240.5L894.4,236.4L895.7,232.3L896.9,228.2L897.9,224.1L898.8,220L899.5,215.9L900,211.8L900.3,207.7L900.5,203.6L900.5,199.4L900.3,195.3L900,191.2L899.5,187.1L898.8,183L897.9,178.9L896.9,174.8L895.7,170.7L894.4,166.6L892.7,162.5L890.6,158.4L888.3,154.3L885.6,150.2L882.6,146.1L879.3,142.1L875.7,138L871.9,134L867.7,130.1L863.1,126.2L858.3,122.4L853.3,118.7L848.2,115.1L842.8,111.5L837.2,108.1L831.2,104.8L824.5,101.7L817.7,98.8L811.2,96.4L805.4,94.4L800.5,93L572.7,93L567.8,94.4L562,96.4L555.5,98.8L548.7,101.7L542,104.8L536,108.1L530.4,111.5L525,115.1L519.9,118.7L514.9,122.4L510.1,126.2L505.5,130.1L501.3,134L497.5,138L493.9,142.1L490.6,146.1L487.6,150.2L484.9,154.3L482.6,158.4L480.5,162.5L478.8,166.6L477.5,170.7L476.3,174.8L475.3,178.9L474.4,183L473.7,187.1L473.2,191.2L472.9,195.3L472.7,199.4L472.7,203.6L472.9,207.7L473.2,211.8L473.7,215.9L474.4,220L475.3,224.1L476.3,228.2L477.5,232.3L478.8,236.4L480.5,240.5L482.6,244.6L484.9,248.7L487.6,252.8L490.6,256.9L493.9,260.9L497.5,265L501.3,269L505.5,272.9L510.1,276.8L514.9,280.6L519.9,284.3L525,287.9L530.4,291.5L536,294.9L542,298.2L548.7,301.3L555.5,304.2L562,306.6L567.8,308.6L572.7,310Z" fill="#fcdfcf"/>
<path d="M471.0,102.3L471.0,93.5L473.0,93.4L475.0,93.8L476.3,95.0L477.0,97.0L476.3,99.0L475.0,100.5ZM653.0,100.5L659.0,99.5L662.0,100.9L663.8,104.0L663.6,106.0L662.0,106.6L659.0,106.3L655.0,107.4L653.0,106.9L649.7,103.0L650.4,102.0ZM593.5,108.0L595.0,107.2L595.8,108.0L594.7,111.0L598.0,112.7L600.3,115.0L600.6,116.0L596.0,119.7L595.0,120.1L592.0,117.8L586.0,117.6L582.0,115.5L579.8,115.0L581.1,114.0L584.0,113.2L590.0,114.2L591.3,113.0ZM585.5,130.0L587.0,127.3L588.6,128.0L587.8,131.0L589.4,133.0L588.0,135.0L585.0,135.8L584.3,137.0L584.2,139.0L586.0,141.1L594.0,146.7L594.5,148.0L594.0,149.1L592.0,149.2L591.5,150.0L591.6,152.0L590.0,154.3L586.0,151.9L584.0,151.9L583.1,151.0L582.9,149.0L582.0,147.9L577.0,147.1L575.0,148.5L574.0,146.6L571.0,147.3L570.3,146.0L570.1,141.0L571.2,138.0L569.2,136.0L569.5,134.0L572.0,132.5L577.0,131.2L579.0,130.0L584.0,130.8ZM753.0,134.0L754.3,134.0L754.0,135.5L752.7,135.0ZM596.0,137.3L599.0,137.2L601.0,140.3L605.3,141.0L606.3,142.0L606.1,143.0L604.0,143.2L602.0,144.3L597.0,141.8L595.3,139.0ZM623.0,142.0L627.0,142.5L630.9,147.0L636.0,148.7L642.0,152.2L645.0,152.2L649.0,150.9L654.0,150.3L664.0,150.3L665.4,151.0L666.5,155.0L668.0,156.1L672.0,156.1L676.0,153.9L679.0,155.0L681.0,157.0L677.6,162.0L679.3,163.0L680.2,163.0L681.4,162.0L681.1,158.0L683.0,156.4L683.4,155.0L683.0,153.4L678.8,149.0L678.4,148.0L683.0,143.7L686.0,143.7L690.0,142.7L690.2,144.0L688.4,147.0L688.0,149.6L689.4,152.0L692.0,154.2L695.0,154.9L698.0,153.9L704.0,154.0L707.7,160.0L716.0,162.4L717.2,161.0L716.6,159.0L717.0,158.3L723.0,157.0L724.0,156.3L724.4,155.0L723.8,154.0L722.0,153.6L718.0,151.5L717.7,150.0L719.0,149.1L723.0,149.2L724.0,149.8L725.2,153.0L727.5,155.0L727.3,159.0L726.0,161.6L723.0,163.0L722.0,166.0L720.0,167.0L719.4,168.0L719.8,169.0L721.0,169.6L722.0,169.5L724.0,168.4L728.0,170.7L729.0,170.4L729.6,169.0L727.7,166.0L728.0,165.1L731.0,163.7L732.3,164.0L734.1,167.0L736.0,168.4L738.0,168.5L741.0,167.5L741.7,168.0L741.0,168.8L734.7,174.0L734.8,175.0L736.0,175.4L738.0,173.3L740.0,173.3L743.0,174.6L750.0,169.7L751.0,169.3L754.0,169.7L755.0,168.4L756.0,164.6L757.0,163.3L761.2,164.0L762.4,163.0L763.0,161.3L764.0,160.8L765.0,161.4L766.0,163.3L768.0,164.9L768.4,167.0L771.0,170.2L773.0,169.9L777.8,167.0L779.2,164.0L781.0,163.1L785.0,164.4L790.0,164.0L791.2,165.0L792.0,167.1L794.0,158.7L799.0,155.3L801.0,154.7L804.0,155.6L808.5,159.0L809.5,161.0L811.0,161.9L812.7,161.0L814.0,159.2L814.9,160.0L814.2,162.0L815.3,164.0L819.0,166.1L823.0,166.4L824.0,166.3L825.0,165.4L828.0,160.8L830.0,159.0L832.0,157.7L837.0,156.0L837.7,155.0L835.3,153.0L835.2,152.0L837.0,150.8L838.0,150.9L839.0,153.7L841.0,154.5L842.0,154.4L844.0,152.2L846.0,153.1L850.0,151.9L858.0,151.8L860.0,152.5L868.0,157.5L870.0,158.0L876.0,153.7L887.0,150.8L903.0,152.3L903.0,262.2L897.0,262.5L891.0,260.4L876.0,260.4L873.0,258.2L869.0,259.0L866.9,260.0L864.0,258.8L855.0,257.1L849.0,257.6L845.5,261.0L843.0,261.7L840.0,261.3L834.0,258.7L832.0,258.4L818.0,262.2L815.0,261.6L811.0,259.1L809.0,258.5L805.0,260.0L803.0,260.1L800.0,258.4L795.0,254.4L790.0,252.5L788.8,251.0L792.0,242.0L794.2,232.0L794.0,228.3L792.4,226.0L790.0,225.5L786.0,227.2L779.0,226.8L774.0,227.6L762.0,224.0L760.0,224.6L756.0,228.2L753.0,228.4L751.0,226.2L747.8,220.0L743.5,217.0L741.4,209.0L739.3,205.0L738.0,204.0L733.0,203.0L731.8,204.0L732.8,206.0L732.5,207.0L727.0,206.9L726.5,208.0L729.0,212.1L731.4,214.0L735.0,221.1L737.0,222.6L739.0,223.1L740.8,225.0L741.3,230.0L742.6,233.0L743.3,241.0L747.5,247.0L748.2,250.0L747.5,253.0L743.0,260.6L742.0,261.5L736.0,263.6L728.0,264.0L717.0,261.7L703.0,262.4L699.0,261.4L694.0,257.6L687.0,255.4L684.0,256.6L678.0,263.0L676.0,264.1L675.0,263.8L671.9,261.0L667.0,258.8L665.4,257.0L663.4,253.0L661.0,252.1L658.0,253.2L653.0,257.0L651.0,257.8L642.0,259.3L633.0,258.3L626.7,260.0L625.0,261.8L623.0,265.9L620.5,274.0L619.0,275.6L617.0,276.0L614.9,275.0L615.0,271.0L610.8,267.0L606.6,258.0L606.4,257.0L608.0,255.0L608.9,252.0L608.0,249.1L606.0,250.9L603.6,252.0L603.0,253.4L602.0,253.8L599.0,249.8L588.0,248.6L583.0,246.4L574.0,240.3L562.0,230.5L559.0,228.8L553.0,227.1L533.0,223.8L530.0,225.0L529.3,228.0L530.2,230.0L536.8,239.0L540.8,246.0L544.8,259.0L544.1,262.0L539.0,267.7L537.0,268.1L535.0,267.5L533.0,265.4L531.0,264.4L528.0,264.6L526.1,266.0L526.0,268.0L527.0,269.4L529.8,271.0L530.0,272.0L529.0,273.3L527.0,273.3L525.0,272.0L521.9,267.0L519.0,263.9L516.6,260.0L514.0,257.6L511.0,257.1L505.0,257.8L498.0,255.9L491.0,257.0L489.0,256.3L486.0,254.2L484.0,254.5L479.0,258.1L474.6,260.0L474.0,264.0L473.0,265.4L471.0,266.2L471.0,210.9L476.1,211.0L478.6,210.0L478.8,209.0L476.0,207.8L471.0,208.7L471.0,148.3L476.0,150.2L483.0,148.9L486.0,149.0L488.0,149.9L491.7,153.0L494.0,153.4L502.0,152.7L511.0,149.7L518.0,149.4L523.0,147.0L526.0,146.4L529.0,147.6L533.7,153.0L538.0,154.0L546.0,153.6L547.8,153.0L550.0,148.4L551.0,147.2L552.0,146.9L553.3,149.0L553.3,154.0L557.0,160.5L559.0,162.4L562.0,162.6L564.0,163.4L565.2,165.0L567.0,165.6L570.3,165.0L571.7,163.0L571.0,161.9L567.8,161.0L568.0,158.0L565.2,156.0L565.0,153.9L566.0,153.6L567.8,154.0L569.0,156.7L571.0,154.9L574.0,158.3L575.0,158.7L579.0,156.1L581.0,156.5L584.0,159.0L587.0,159.5L588.4,159.0L592.4,155.0L594.1,153.0L595.0,150.9L596.0,150.3L597.5,151.0L598.1,153.0L599.0,153.9L601.0,154.2L602.0,153.6L603.4,151.0L603.6,148.0L607.0,144.5L609.0,145.2L616.0,142.3L618.0,142.1L621.0,142.8ZM630.0,196.5L629.0,197.4L629.2,199.0L631.3,201.0L636.0,203.9L647.0,208.3L660.0,210.4L677.0,209.6L684.6,207.0L687.1,205.0L687.0,204.0L685.6,203.0L679.0,201.1L663.0,200.5L651.0,200.8L647.0,200.1L636.0,196.6L632.0,196.1ZM709.0,217.4L707.5,219.0L707.3,220.0L709.0,221.3L711.2,221.0L712.2,220.0L710.0,217.3ZM717.0,210.5L712.9,212.0L713.2,214.0L715.1,217.0L714.6,220.0L717.0,220.9L719.0,222.4L726.6,219.0L728.5,215.0L728.4,214.0L726.0,214.1L720.0,212.9ZM739.0,180.3L737.0,182.0L734.0,182.4L733.0,183.6L732.8,186.0L734.0,187.8L736.0,187.5L737.2,186.0L739.2,182.0ZM746.0,175.6L745.2,176.0L745.3,177.0L746.0,178.0L747.4,178.0L748.2,177.0L747.4,176.0ZM821.0,240.9L816.0,242.9L816.0,244.6L819.0,244.5L822.0,246.4L823.0,245.9L824.0,244.0L823.9,243.0L823.0,241.8ZM876.5,171.0L873.6,171.0L875.0,171.5ZM497.0,192.0L481.2,194.0L479.1,195.0L481.0,196.2L492.0,197.3L503.0,199.4L518.0,198.3L524.0,197.1L542.0,197.1L546.3,196.0L544.5,195.0L539.2,194.0L528.0,193.5L517.0,191.6ZM553.0,195.2L548.5,196.0L554.0,198.8L555.8,197.0L555.3,196.0ZM595.0,196.7L592.9,198.0L591.9,201.0L593.6,205.0L595.0,206.5L597.0,207.5L599.0,207.6L605.0,204.5L606.1,202.0L606.0,199.7L605.0,199.1L601.0,199.3L598.0,197.0ZM609.0,240.8L608.1,246.0L608.1,247.0L609.0,247.9L611.0,246.3L611.9,243.0L611.0,240.9L610.0,240.2ZM661.0,228.0L657.8,230.0L654.2,234.0L652.6,237.0L652.6,239.0L654.2,242.0L659.0,245.7L664.0,247.8L667.0,247.9L673.0,242.9L674.5,240.0L674.6,237.0L672.5,233.0L669.0,229.1L665.0,227.6ZM708.0,227.8L705.2,230.0L705.9,233.0L703.8,238.0L705.0,239.3L707.0,238.9L708.8,237.0L709.1,236.0L708.3,232.0L708.8,228.0ZM716.0,226.8L715.2,228.0L714.2,233.0L712.2,236.0L712.6,239.0L717.0,241.9L723.0,241.0L724.0,240.0L724.7,238.0L724.5,234.0L723.4,231.0L719.0,226.3L718.0,226.0ZM554.0,199.4L549.0,200.7L536.0,201.8L526.0,201.9L518.0,201.1L504.0,200.8L499.0,201.2L487.4,204.0L484.7,208.0L485.0,209.0L487.0,210.4L496.0,212.6L499.0,212.8L509.0,211.8L516.0,212.3L523.0,211.5L536.0,208.8L548.0,207.9L560.0,205.7L566.0,205.3L567.4,205.0L567.9,204.0L566.0,202.9L559.0,201.9ZM748.0,144.7L751.0,142.2L752.0,142.4L753.8,145.0L753.7,148.0L752.0,150.3L751.0,150.4L750.0,149.7L748.6,147.0ZM778.8,244.0L781.0,243.6L783.0,244.3L784.7,246.0L785.3,248.0L785.5,250.0L784.7,252.0L783.0,253.5L781.0,254.3L778.0,253.6L776.4,251.0L776.4,247.0L777.5,245.0ZM637.8,286.0L640.0,286.3L643.6,288.0L645.0,289.2L645.9,291.0L645.9,293.0L644.5,298.0L643.3,300.0L642.0,300.6L640.0,300.4L634.0,297.9L631.7,296.0L630.6,294.0L630.5,292.0L632.1,289.0L635.0,286.7ZM691.7,296.0L708.0,295.7L716.0,296.8L723.0,296.7L731.0,297.6L738.0,296.4L745.0,297.2L752.0,296.6L762.0,297.0L771.0,296.8L781.0,295.3L790.0,295.1L802.0,295.7L819.7,299.0L819.2,300.0L816.1,301.0L804.0,303.4L788.0,304.5L770.0,303.9L761.0,305.0L756.0,306.4L747.0,306.3L739.0,307.5L725.0,307.5L717.0,306.6L710.0,306.8L702.0,306.1L687.0,306.4L679.0,304.2L671.7,303.0L671.8,302.0L674.5,301.0L683.2,298.0ZM471.0,310.0L473.0,310.5L474.4,312.0L471.0,312.0Z" fill="#f7f6f6" fill-rule="evenodd"/>
<path d="M525.5,160.0L532.0,160.2L540.0,163.4L551.0,162.2L552.5,163.0L555.2,166.0L561.0,170.0L563.0,170.9L566.0,170.7L568.0,171.6L570.7,169.0L574.0,167.8L584.0,168.0L586.1,169.0L587.9,171.0L588.2,177.0L590.0,179.5L592.0,180.0L598.0,179.6L610.0,181.1L617.0,180.4L622.0,180.9L624.0,180.0L627.2,177.0L634.0,174.1L636.0,174.0L640.0,174.9L647.0,173.3L652.0,173.2L654.0,172.5L659.0,168.9L665.0,168.6L667.0,167.9L668.0,167.9L671.0,169.6L673.0,168.9L674.4,169.0L674.7,170.0L673.2,172.0L675.0,173.8L676.0,173.9L680.0,171.1L683.0,171.8L686.0,171.3L687.0,171.8L688.0,174.1L693.0,174.7L695.0,175.9L701.0,172.1L704.8,171.0L704.7,170.0L702.4,168.0L702.0,167.0L702.2,166.0L704.0,164.7L705.0,165.1L708.0,168.2L710.6,169.0L714.9,172.0L715.0,174.0L714.0,174.9L711.0,175.3L710.1,176.0L710.3,178.0L709.2,181.0L709.9,183.0L711.0,183.4L712.2,183.0L714.0,179.8L720.0,179.9L721.1,181.0L721.4,183.0L720.0,185.5L719.2,186.0L718.8,188.0L717.2,191.0L717.7,194.0L717.4,195.0L708.4,198.0L705.0,196.9L701.0,197.1L698.7,200.0L698.0,202.6L695.0,200.5L682.0,198.2L673.0,197.4L648.0,196.9L642.7,196.0L633.0,193.3L629.0,193.5L626.6,196.0L626.4,199.0L627.9,201.0L631.0,203.3L632.9,206.0L638.0,206.7L651.4,212.0L652.7,213.0L653.2,215.0L651.2,221.0L649.5,223.0L642.0,227.7L640.0,227.9L636.0,225.9L635.6,226.0L636.0,228.1L635.0,228.8L632.0,228.5L628.0,226.9L622.0,228.4L620.0,230.2L619.0,230.4L618.0,230.2L617.2,229.0L617.1,223.0L616.0,222.5L615.0,222.7L613.3,225.0L607.0,228.3L606.3,230.0L605.9,238.0L605.0,239.5L604.0,239.4L596.0,232.0L592.0,229.2L581.0,232.8L579.0,232.9L576.0,231.9L571.0,228.8L566.5,225.0L561.9,220.0L560.9,217.0L561.7,215.0L565.0,213.4L571.0,213.3L576.0,213.9L579.0,215.6L585.0,221.6L591.0,225.7L592.0,225.7L593.0,214.0L594.0,213.0L600.0,213.6L601.0,216.0L603.0,217.5L605.1,216.0L608.0,215.1L608.5,214.0L607.2,211.0L609.7,204.0L610.0,203.7L612.0,204.6L613.0,203.0L610.9,197.0L609.0,193.9L607.0,192.1L605.0,191.7L602.0,190.0L600.6,190.0L599.5,191.0L599.9,193.0L601.7,196.0L601.0,197.1L598.0,195.1L594.0,194.3L589.0,195.2L584.0,194.9L578.0,195.2L567.0,194.4L555.0,190.3L538.0,187.4L529.0,188.6L513.0,186.4L503.0,187.8L480.0,187.9L475.0,187.1L471.0,185.5L471.0,181.6L475.7,178.0L475.8,177.0L474.3,174.0L475.0,172.0L477.0,169.9L483.0,165.7L485.0,164.9L490.0,165.3L496.0,163.8L505.0,163.0L513.0,164.1L519.6,161.0ZM574.3,175.0L571.0,175.4L570.0,177.0L570.7,179.0L572.0,180.1L576.0,180.3L584.0,183.1L585.2,183.0L586.2,182.0L584.2,179.0L582.0,177.4L580.0,177.3L576.0,178.9L575.1,178.0ZM717.0,183.0L716.2,185.0L717.0,186.2L718.0,186.4L718.8,186.0L718.8,184.0L718.0,182.6ZM692.3,160.0L694.0,159.7L696.2,161.0L696.7,162.0L696.3,163.0L695.0,163.4L694.0,162.9L692.3,161.0ZM838.3,166.0L841.0,166.0L845.9,167.0L852.0,169.3L860.0,169.6L864.8,173.0L871.0,175.3L888.0,175.9L892.6,177.0L895.0,178.3L897.0,181.0L898.8,185.0L899.0,188.0L898.1,191.0L897.0,192.5L895.0,193.8L887.0,195.3L885.5,197.0L884.8,200.0L886.0,201.1L893.0,202.6L898.0,202.3L899.0,202.7L903.0,206.8L903.0,232.8L900.0,234.4L897.0,237.5L895.0,238.6L892.0,238.4L887.0,235.2L884.1,236.0L883.1,237.0L881.8,241.0L878.7,245.0L877.4,249.0L876.0,249.9L873.0,249.2L869.0,246.7L866.0,246.3L862.7,245.0L861.6,244.0L861.0,242.2L860.0,242.0L858.0,243.2L855.0,239.8L854.0,240.0L853.0,242.0L851.0,242.6L848.0,245.1L847.0,245.0L845.2,242.0L842.0,241.4L836.0,238.7L835.0,238.7L833.0,240.1L831.6,240.0L830.9,239.0L830.5,237.0L826.0,234.8L822.0,235.1L821.1,236.0L820.9,238.0L819.0,238.7L817.8,238.0L816.5,236.0L814.6,225.0L813.6,223.0L812.0,221.6L794.0,212.6L787.0,212.6L779.0,213.8L776.0,213.4L770.2,209.0L763.0,206.8L754.8,202.0L753.9,201.0L752.8,197.0L750.7,194.0L758.0,186.4L766.0,181.7L773.0,181.2L776.0,181.8L781.0,178.7L786.0,176.5L793.0,176.3L796.0,175.1L798.0,175.7L801.0,177.7L803.0,176.6L806.0,173.7L807.0,173.6L811.5,176.0L813.0,179.7L816.0,182.0L816.8,185.0L818.0,186.7L820.0,187.8L824.2,188.0L826.4,194.0L823.7,197.0L823.2,198.0L823.7,199.0L825.0,199.8L828.0,198.4L832.0,200.1L835.0,200.6L836.5,202.0L838.0,205.7L840.0,206.1L841.9,204.0L844.0,203.0L844.4,201.0L846.0,199.6L845.9,198.0L844.0,196.9L842.8,199.0L842.0,199.4L840.0,199.8L838.0,199.0L837.3,196.0L835.9,194.0L828.1,188.0L828.4,184.0L828.0,182.8L824.0,181.1L823.0,179.0L824.0,177.2L827.0,175.4L831.0,171.0L836.0,167.0ZM849.0,202.7L846.9,204.0L849.0,205.8L850.0,205.6L850.9,204.0L850.5,203.0ZM854.0,222.2L851.0,224.2L848.0,224.3L847.2,225.0L846.4,227.0L848.0,227.6L849.0,227.4L852.0,225.5L855.0,226.1L855.0,223.0ZM867.0,198.0L860.0,198.8L858.8,200.0L858.8,201.0L860.0,202.1L863.0,202.6L869.0,201.8L874.5,202.0L880.0,201.0L880.0,200.0L878.7,199.0L876.0,198.0ZM843.0,216.0L842.4,217.0L844.0,218.1L844.8,217.0L844.0,215.9ZM815.6,169.0L816.0,168.0L818.9,170.0L817.0,170.5L816.0,170.1ZM724.9,184.0L726.0,183.4L730.0,184.6L730.4,186.0L729.6,189.0L729.7,190.0L731.0,191.1L733.0,191.4L737.0,190.3L737.6,191.0L736.0,193.5L733.0,195.5L731.0,198.4L729.0,199.7L726.0,199.9L724.0,199.3L722.4,198.0L721.1,196.0L722.7,194.0L727.1,191.0L727.1,190.0L725.0,186.1ZM697.8,206.0L699.0,203.3L700.0,203.7L702.2,206.0L702.1,207.0L700.7,209.0L701.5,217.0L699.1,222.0L696.0,225.0L693.0,226.3L689.0,226.5L686.0,225.2L684.7,224.0L684.0,222.0L682.5,214.0L682.9,212.0L685.3,210.0L691.0,207.2L694.0,206.4L697.0,206.4ZM602.9,209.0L605.3,210.0L605.4,211.0L604.0,211.5L602.4,211.0L602.0,210.0ZM478.0,221.3L485.0,219.6L496.0,219.9L508.4,223.0L510.8,225.0L514.0,229.6L518.5,234.0L523.1,241.0L523.4,243.0L523.0,243.9L521.0,245.2L519.0,245.3L514.0,242.8L508.0,241.9L502.0,243.1L496.0,242.1L483.0,243.3L471.0,240.8L471.0,221.1ZM610.8,228.0L612.0,227.4L613.0,228.2L613.4,229.0L613.0,230.4L612.0,231.0L611.0,230.0ZM824.0,238.0L825.0,237.9L825.3,239.0L824.4,239.0ZM837.8,246.0L840.0,243.2L841.0,243.6L841.1,245.0L840.8,246.0L839.0,247.3L838.0,247.0ZM613.9,260.0L616.0,259.7L616.5,261.0L616.2,264.0L615.0,265.9L614.0,265.6L613.3,264.0L613.4,261.0ZM758.6,299.0L762.0,299.1L764.9,300.0L764.4,301.0L761.0,301.6L751.4,301.0L752.6,300.0ZM724.0,300.2L739.0,299.8L743.8,301.0L741.0,302.1L737.0,302.4L725.0,301.9L719.7,301.0Z" fill="#d7e8f1" fill-rule="evenodd"/>
<path d="M527.2,169.0L531.0,169.0L546.0,172.3L554.1,172.0L556.7,173.0L557.3,174.0L557.0,175.0L555.0,176.1L544.0,178.7L534.0,182.2L529.0,183.2L523.0,183.5L513.0,182.9L500.0,183.7L494.9,183.0L493.0,182.0L493.0,181.0L493.9,180.0L496.0,178.8L505.0,176.5ZM683.0,177.0L687.0,177.8L690.0,177.4L690.6,178.0L691.4,181.0L693.0,182.0L700.0,182.2L700.5,182.0L701.0,179.7L701.5,180.0L701.5,181.0L702.8,182.0L705.0,182.5L706.0,183.3L707.0,185.0L706.9,187.0L700.8,192.0L696.0,194.2L692.0,193.8L684.0,194.8L680.0,193.9L677.0,194.0L674.8,193.0L672.0,190.3L669.0,190.3L666.7,189.0L666.0,187.0L666.7,185.0L666.0,182.0L666.1,181.0L667.0,180.0L670.0,180.3L673.0,181.7L674.0,181.6L676.0,180.4L679.0,180.4ZM808.1,181.0L810.0,180.6L810.9,182.0L810.8,183.0L808.0,184.4L806.2,184.0L805.7,183.0L806.0,182.4ZM779.0,183.9L791.0,182.2L795.0,182.7L798.0,184.1L802.5,190.0L806.0,191.5L808.4,194.0L808.5,198.0L806.7,200.0L807.0,200.8L809.0,201.3L809.3,202.0L808.3,206.0L809.0,206.9L812.0,206.8L814.0,210.4L816.3,213.0L820.0,215.4L826.0,218.1L830.3,221.0L832.0,223.0L837.0,222.9L838.0,223.3L839.1,225.0L838.7,227.0L838.0,227.5L833.0,227.9L830.0,225.9L826.0,226.7L813.0,214.4L797.0,207.4L782.0,204.0L775.0,199.7L772.2,197.0L770.9,195.0L769.7,191.0L770.0,189.0L772.0,186.9ZM845.0,183.9L869.0,182.8L872.0,183.4L876.0,186.0L876.8,187.0L876.8,188.0L874.3,190.0L871.9,191.0L861.0,192.2L847.0,190.8L841.9,189.0L840.6,188.0L840.3,187.0L841.8,185.0ZM597.9,185.0L600.2,186.0L599.8,187.0L598.4,188.0L596.0,188.3L593.9,187.0ZM568.3,186.0L572.0,185.7L579.0,186.3L583.0,186.9L585.0,187.8L588.0,185.8L592.7,187.0L593.0,188.0L592.6,189.0L591.0,190.1L586.0,189.9L577.0,190.9L570.0,190.7L567.0,190.1L565.3,189.0L565.1,188.0L565.9,187.0ZM602.9,187.0L604.0,186.3L605.5,187.0L605.0,187.9L604.0,188.0ZM615.9,189.0L619.0,188.3L621.0,189.0L623.0,190.6L624.7,194.0L624.3,200.0L631.5,207.0L633.0,207.9L637.0,208.2L643.4,212.0L644.1,213.0L644.0,214.0L642.0,217.8L634.0,221.5L629.0,222.7L625.0,222.3L623.0,220.4L619.0,219.8L618.0,219.1L618.2,216.0L617.6,211.0L612.4,194.0L613.3,191.0ZM724.6,196.0L726.0,194.3L728.0,194.4L729.3,196.0L729.0,197.0L728.0,197.6L726.0,197.6L724.9,197.0ZM867.0,207.7L876.0,205.4L880.0,205.7L882.7,207.0L882.6,208.0L881.0,209.3L878.0,210.2L870.0,209.7L865.5,212.0L863.0,212.6L858.0,211.5L857.0,210.0L857.4,209.0L859.0,208.0ZM851.6,209.0L853.0,208.5L854.3,209.0L854.9,210.0L854.6,211.0L852.9,212.0L851.0,211.5L850.8,210.0ZM691.3,210.0L693.0,209.5L695.0,209.8L696.6,211.0L697.4,213.0L697.4,215.0L696.4,218.0L694.0,220.3L692.0,220.2L690.4,219.0L688.4,215.0L688.9,212.0ZM596.8,218.0L598.0,217.4L599.0,218.0L601.4,221.0L603.4,228.0L603.0,229.6L602.0,230.6L600.0,229.4L597.9,226.0L596.5,220.0ZM892.6,219.0L894.0,219.3L894.4,220.0L895.3,224.0L894.6,228.0L893.0,229.5L892.0,229.2L891.2,228.0L890.7,226.0L891.4,221.0ZM481.6,228.0L487.0,227.1L494.0,227.9L498.6,230.0L499.5,232.0L497.1,235.0L493.5,237.0L489.0,238.1L485.0,238.0L478.0,235.4L475.3,233.0L475.6,231.0L476.7,230.0ZM824.5,230.0L825.0,229.2L825.8,230.0L825.5,231.0L824.7,231.0ZM854.6,234.0L856.0,233.9L856.8,235.0L856.0,235.5Z" fill="#a7d0e4" fill-rule="evenodd"/>
<path d="M520.7,177.0L533.0,175.2L536.0,176.0L535.7,177.0L534.0,178.0L530.2,179.0L529.4,181.0L527.0,181.7L522.0,181.4L517.9,179.0L518.2,178.0ZM683.3,181.0L686.0,180.7L693.0,184.0L698.0,184.7L700.1,186.0L700.5,188.0L699.0,190.1L696.0,191.2L684.0,192.3L678.0,191.1L677.2,190.0L677.2,185.0ZM783.0,186.0L789.0,185.5L792.0,186.3L794.0,187.6L795.3,190.0L795.6,193.0L796.5,196.0L796.2,198.0L793.0,199.7L788.0,199.9L782.0,198.3L778.0,195.8L775.8,193.0L775.9,190.0L777.3,188.0L778.8,187.0ZM848.1,187.0L853.0,186.9L855.2,188.0L852.7,189.0L849.0,189.1L846.6,188.0ZM617.9,191.0L621.0,191.8L622.3,193.0L623.1,195.0L621.6,201.0L619.0,203.5L618.0,203.2L616.0,201.0L614.2,195.0L615.0,192.4ZM620.0,206.7L624.0,205.7L628.0,206.4L632.0,209.0L636.0,210.1L638.5,213.0L638.1,216.0L637.0,217.1L633.0,217.7L629.0,216.6L626.0,217.7L623.5,217.0L619.3,208.0Z" fill="#6bacd1" fill-rule="evenodd"/>
<path d="M682.4,185.0L684.0,184.2L690.0,184.6L697.0,186.8L697.2,188.0L694.0,189.1L684.0,190.1L681.7,189.0L681.0,188.0ZM782.6,190.0L787.0,189.1L789.0,190.0L789.3,191.0L788.0,193.3L787.0,193.7L782.7,192.0L782.1,191.0ZM616.9,193.0L619.5,193.0L621.2,195.0L621.0,198.0L620.1,200.0L619.0,200.9L617.0,200.2L616.0,198.0L615.8,195.0ZM787.2,195.0L788.0,194.3L790.7,196.0L790.0,196.9L788.9,197.0L787.1,196.0ZM629.7,210.0L634.3,212.0L635.3,213.0L635.1,214.0L630.0,213.8L628.7,212.0L629.0,210.3Z" fill="#3783bb" fill-rule="evenodd"/>
<path d="M634.3,92.0L641.6,92.0L641.3,95.0L639.0,95.7L638.0,95.3L635.0,93.3ZM664.3,98.0L665.0,97.3L666.8,98.0L667.4,99.0L667.0,100.7L666.0,101.1L665.0,100.3ZM724.9,99.0L732.0,98.4L742.0,100.1L745.0,101.1L745.8,102.0L745.0,103.3L740.0,105.3L732.7,107.0L732.8,108.0L734.0,108.9L735.1,112.0L736.0,112.9L738.0,112.5L740.0,115.5L744.0,119.0L746.2,124.0L753.1,128.0L753.6,129.0L753.2,130.0L746.0,128.3L744.0,128.4L742.0,130.5L739.0,131.1L737.3,134.0L736.0,135.2L735.0,134.9L734.4,131.0L732.0,128.8L731.0,129.2L729.0,132.4L725.0,133.7L723.0,137.2L721.0,137.8L719.0,136.7L715.0,130.9L711.0,132.5L708.0,133.1L706.0,131.8L702.9,131.0L699.7,126.0L699.5,122.0L697.4,119.0L698.6,116.0L700.0,115.0L701.0,115.3L701.4,116.0L700.6,118.0L701.0,118.7L702.0,118.9L705.0,115.0L707.0,114.4L707.9,115.0L707.4,118.0L707.8,119.0L709.0,119.1L712.3,115.0L712.2,114.0L710.8,112.0L711.0,109.7L712.0,109.2L715.0,110.0L718.3,110.0L717.6,108.0L718.1,106.0L716.7,103.0L716.9,102.0L720.0,100.1ZM724.0,105.9L723.3,107.0L726.0,108.5L730.2,108.0L731.3,107.0L728.0,105.9ZM775.6,105.0L776.0,104.5L777.0,105.0L781.0,107.5L783.0,107.5L783.7,108.0L782.8,109.0L786.0,111.3L791.0,111.0L793.0,108.9L794.0,108.8L795.0,110.6L799.0,112.1L802.0,110.1L804.0,110.4L805.6,114.0L812.0,115.5L813.4,119.0L818.0,121.9L823.0,121.8L824.0,121.2L823.6,119.0L821.6,117.0L823.5,116.0L825.0,116.1L828.6,122.0L830.1,129.0L829.6,131.0L827.0,133.7L827.1,135.0L830.0,136.6L831.0,133.2L832.0,132.9L833.0,133.5L836.0,136.4L836.3,139.0L835.6,141.0L834.5,142.0L832.0,142.9L826.0,141.8L821.0,143.2L820.0,144.0L819.0,146.6L818.0,147.2L817.0,146.8L816.0,144.0L812.6,142.0L810.0,138.8L809.0,138.8L808.7,140.0L809.4,142.0L809.5,149.0L812.5,154.0L809.0,155.7L807.0,155.4L804.0,152.2L802.0,151.3L797.0,152.2L793.0,151.4L792.0,152.4L790.0,152.0L787.0,152.8L785.0,151.3L781.8,155.0L781.7,156.0L784.1,159.0L784.0,160.4L783.0,160.8L775.0,161.8L771.0,159.4L768.0,159.0L765.0,156.4L762.0,158.1L759.0,157.5L753.9,153.0L755.0,150.0L756.7,148.0L758.4,143.0L761.0,140.9L764.0,142.3L768.9,142.0L770.6,139.0L770.7,138.0L770.0,137.3L769.0,137.4L767.0,138.9L766.0,138.9L763.0,137.6L761.8,134.0L763.2,132.0L761.0,131.7L760.0,130.9L759.0,126.4L758.0,126.0L755.0,127.0L754.0,126.7L754.2,124.0L756.4,121.0L752.3,119.0L753.8,115.0L752.5,113.0L757.0,109.3L761.0,112.0L762.0,112.1L764.0,110.6L770.0,109.1L773.0,110.0L774.0,109.8L775.6,108.0ZM787.0,142.9L785.3,144.0L784.9,145.0L786.0,147.7L787.0,149.0L791.0,150.3L792.0,150.0L793.2,147.0L792.7,145.0L791.0,143.3ZM794.0,114.8L792.1,116.0L792.0,117.0L794.0,116.9L794.6,116.0ZM803.0,145.8L802.0,146.8L802.0,147.5L803.0,147.2ZM763.0,114.4L762.0,115.2L761.0,118.7L759.2,120.0L759.2,121.0L762.0,122.7L765.0,120.8L766.4,117.0L766.0,115.7ZM689.7,112.0L691.0,111.0L693.0,111.3L697.0,113.4L697.7,115.0L696.0,116.7L693.0,116.6L690.0,114.9L689.3,113.0ZM749.0,112.0L751.6,113.0L750.5,118.0L748.0,120.2L746.0,116.0L743.6,114.0L743.7,113.0L745.0,112.3ZM550.0,113.0L556.0,112.7L561.5,117.0L561.8,118.0L560.5,121.0L560.5,124.0L562.2,129.0L559.4,134.0L560.4,136.0L565.0,139.9L566.1,143.0L567.4,145.0L567.5,149.0L566.0,150.8L564.0,150.7L563.1,150.0L563.0,146.5L562.0,145.7L560.0,145.4L558.4,146.0L557.9,147.0L558.9,150.0L558.4,152.0L557.0,152.5L555.6,151.0L554.7,142.0L556.3,138.0L555.4,135.0L556.0,132.0L555.0,127.0L553.1,123.0L553.9,121.0L546.3,117.0L546.1,116.0L548.0,114.0ZM614.0,127.3L626.1,126.0L628.8,128.0L629.3,129.0L628.0,130.1L626.0,133.4L620.0,134.5L615.0,133.0L614.6,136.0L611.0,136.7L610.8,139.0L610.0,140.1L606.4,138.0L604.5,135.0L605.0,133.0L608.0,131.7L610.0,129.8ZM870.7,135.0L872.0,134.7L872.9,136.0L872.0,136.9L871.0,136.5ZM733.0,152.5L739.0,151.7L741.0,153.0L741.2,156.0L740.0,157.5L739.0,157.8L736.0,156.8L732.0,156.7L730.7,156.0L731.4,154.0ZM819.9,155.0L821.0,155.0L822.0,155.9L823.7,159.0L823.0,160.4L821.0,161.6L820.0,161.0L819.8,160.0L819.5,156.0ZM772.7,164.0L774.0,165.0L774.0,166.0L773.1,168.0L772.0,168.4L770.9,168.0L770.3,166.0L771.0,164.8ZM595.2,198.0L597.0,197.8L598.0,198.3L601.1,202.0L601.2,203.0L599.3,205.0L598.0,205.4L596.0,205.1L593.9,203.0L593.4,200.0ZM632.3,198.0L635.0,197.7L638.0,198.4L649.0,202.7L672.2,203.0L678.0,203.9L679.3,205.0L678.3,206.0L675.0,207.0L665.0,208.0L658.0,208.2L651.0,207.6L648.0,207.0L643.0,204.5L635.0,201.5L632.6,200.0L631.8,199.0ZM509.5,204.0L519.0,203.4L523.1,204.0L524.0,205.0L519.0,206.5L512.0,206.4L509.0,208.0L502.0,209.1L498.0,209.2L493.3,208.0L493.6,207.0L496.0,206.2L506.0,205.0ZM734.9,211.0L737.0,208.7L738.6,210.0L739.7,214.0L739.0,217.0L738.0,218.0L737.0,218.1L735.0,216.3L734.5,214.0ZM765.6,231.0L767.0,231.3L767.6,232.0L767.0,232.9L766.0,233.3L765.0,232.9L764.5,232.0ZM542.4,232.0L550.0,232.3L558.0,234.8L563.8,239.0L565.3,242.0L564.0,243.4L560.0,244.1L554.0,242.8L548.0,240.6L544.1,238.0L541.6,235.0L541.1,233.0ZM753.0,233.6L756.0,233.0L757.9,234.0L758.7,236.0L758.0,237.2L757.0,237.9L755.0,238.1L752.8,237.0L752.1,235.0ZM714.8,236.0L718.0,233.2L720.0,233.5L721.8,236.0L721.8,238.0L721.0,238.6L718.0,239.3L715.8,239.0L714.7,238.0L714.5,237.0ZM528.9,267.0L530.0,266.4L531.1,267.0L530.0,267.7ZM509.7,269.0L512.0,268.3L513.6,269.0L514.1,270.0L513.0,271.5L511.0,271.7L509.6,271.0L509.2,270.0ZM799.8,306.0L808.0,305.6L811.0,306.0L812.5,307.0L811.8,308.0L810.0,308.7L801.0,308.9L799.0,308.3L797.9,307.0Z" fill="#f7b799" fill-rule="evenodd"/>
<path d="M774.7,117.0L776.0,117.0L777.6,119.0L776.0,119.6L775.0,119.3L774.4,118.0ZM714.7,118.0L716.5,118.0L717.6,120.0L716.8,124.0L716.0,125.2L714.7,125.0L714.6,122.0L713.3,120.0ZM777.3,126.0L778.0,125.0L779.0,125.7L779.0,127.5L778.0,127.4ZM785.6,131.0L787.0,130.4L787.9,131.0L787.0,135.9L786.0,135.3L785.2,133.0ZM781.1,137.0L786.0,137.6L786.4,139.0L785.7,140.0L784.0,140.3L781.1,138.0ZM562.0,142.0L563.0,141.8L563.7,143.0L563.0,143.4L562.0,143.0ZM763.1,145.0L766.0,144.4L767.8,146.0L767.6,148.0L765.0,150.5L764.0,150.6L762.3,148.0L762.1,146.0ZM771.4,156.0L774.0,154.2L775.0,154.4L779.0,157.7L779.4,159.0L779.0,159.7L776.0,160.3L773.1,159.0L771.3,157.0ZM595.8,199.0L597.1,199.0L598.6,201.0L598.4,203.0L597.0,203.8L596.0,203.7L594.5,202.0L594.6,200.0ZM651.8,205.0L660.0,204.5L663.3,205.0L663.4,206.0L656.0,206.7L651.6,206.0ZM754.3,234.0L756.0,233.9L757.0,234.6L757.0,236.4L756.0,237.0L754.0,236.5L753.4,235.0ZM717.2,236.0L719.0,235.6L719.4,237.0L718.0,237.5L717.0,237.1Z" fill="#e48066" fill-rule="evenodd"/>
<path d="M764.0,147.0L765.0,146.0L766.1,147.0L765.0,148.1ZM773.6,157.0L775.0,156.6L776.7,158.0L776.0,158.8L775.0,158.5L774.0,158.0ZM754.7,235.0L756.0,234.9L756.0,236.0L754.9,236.0Z" fill="#c94741" fill-rule="evenodd"/>
<path d="M535.8,115.0L541.5,111.9L546.5,110.5L549.5,109.6L554.9,108.5L558.0,109.1L560.6,109.6L564.6,109.9L565.6,110.4L568.2,111.1L570.6,110.5L574.7,110.0L577.9,109.4L579.8,110.0L580.9,110.5L583.5,110.5L586.3,111.1L586.1,112.3L588.5,112.5L591.3,112.3L591.1,113.4L594.4,111.7L597.2,112.5L600.9,112.3L603.1,111.7L604.5,110.5L607.7,108.3L608.9,108.9L607.5,110.5L608.4,111.7L609.7,112.3L612.7,110.5L613.8,110.2L616.3,110.3L615.7,111.7L614.1,113.4L611.7,114.3L609.7,114.6L608.0,115.8L605.4,116.9L603.4,117.2L600.0,119.3L596.9,121.8L595.8,123.4L596.3,125.5L598.8,125.5L601.7,127.2L604.8,127.8L603.9,130.6L603.9,132.5L605.5,132.5L607.1,131.3L607.8,128.7L610.8,126.8L612.6,124.3L611.8,123.0L613.7,120.6L614.3,118.7L617.9,119.0L620.0,120.2L620.6,121.8L619.9,123.3L622.0,123.9L624.1,122.4L625.6,121.3L626.2,124.3L626.6,126.8L628.8,128.7L630.1,130.6L629.4,132.5L626.7,133.2L624.8,134.2L620.7,134.2L617.2,135.1L613.8,137.4L616.9,136.1L619.6,135.8L618.9,137.8L617.8,139.7L619.3,139.7L622.4,138.4L623.1,139.7L619.4,141.5L615.7,143.0L616.3,141.1L615.1,141.3L612.6,142.4L610.6,143.7L610.2,145.0L610.5,145.6L608.2,146.1L605.8,146.9L604.7,148.6L603.3,149.7L602.1,151.7L601.5,154.1L599.5,155.5L597.5,156.7L594.8,158.4L593.8,160.5L594.2,163.8L594.3,166.5L593.5,167.6L592.5,166.8L591.6,164.1L591.9,162.2L590.7,161.1L588.9,161.5L587.4,160.6L585.1,160.7L584.2,162.2L582.5,162.1L579.8,161.5L577.9,162.2L575.2,163.8L574.3,166.5L573.3,169.2L572.9,171.5L573.2,173.9L574.3,175.9L575.9,177.0L578.9,176.5L580.2,175.7L581.1,173.2L583.5,172.6L585.2,172.8L584.3,175.3L583.5,176.9L582.7,179.3L582.3,180.2L585.5,180.1L587.8,180.6L588.6,181.3L588.1,184.0L587.8,186.7L588.9,188.7L590.7,189.7L592.5,188.7L594.2,189.0L595.0,190.1L595.4,190.1L596.6,188.7L597.9,187.0L599.1,186.4L601.6,185.4L602.2,184.8L602.1,186.7L603.9,186.0L605.6,187.0L608.5,187.2L610.9,187.4L613.3,187.1L614.4,188.7L615.5,190.1L617.2,192.1L619.0,193.4L621.3,193.4L623.7,194.1L625.4,195.4L626.6,198.8L627.2,200.8L626.6,202.2L628.9,202.8L630.7,202.4L633.7,204.2L635.5,204.9L637.9,205.4L640.3,206.2L642.1,207.8L644.7,208.6L645.1,210.9L645.1,213.6L643.4,215.6L642.3,217.6L640.6,219.7L640.8,223.0L640.3,225.7L639.9,228.4L638.9,231.1L636.7,232.4L634.4,233.4L632.2,234.7L630.6,236.5L630.7,239.2L629.5,241.9L628.2,244.6L626.9,247.0L625.5,248.3L623.2,248.3L621.3,247.2L623.0,249.9L623.0,252.6L621.6,253.7L618.3,254.0L618.5,256.0L615.7,256.6L617.4,258.6L616.6,260.6L615.4,262.6L615.3,263.9L617.4,265.2L617.0,267.2L615.7,269.2L616.4,271.1L617.3,271.6L615.4,272.1L615.2,273.4L612.9,272.4L610.8,271.1L608.9,268.5L607.6,265.9L606.9,263.9L607.8,261.9L607.9,259.3L606.7,257.3L605.6,254.6L605.3,251.9L605.5,249.3L605.8,246.6L605.3,243.2L605.0,240.5L604.9,236.5L604.9,232.4L604.6,228.4L604.2,226.3L602.7,224.8L600.3,223.4L597.7,221.4L596.7,220.1L595.4,217.6L594.1,215.0L593.0,212.3L591.7,210.2L590.1,208.9L590.2,207.3L591.2,205.9L591.5,204.9L590.3,204.2L590.9,202.2L591.5,200.8L592.7,199.5L593.3,198.1L594.5,196.5L594.6,194.1L594.7,192.1L593.8,191.4L593.6,190.1L592.4,189.7L591.4,190.5L591.1,191.7L590.0,191.1L588.5,190.3L587.4,189.8L586.2,188.3L585.1,187.4L585.2,186.4L583.9,184.7L583.4,183.7L581.6,183.5L579.9,182.8L578.0,182.0L576.1,180.0L575.0,179.8L573.1,180.4L570.9,179.6L569.2,178.6L567.1,177.3L565.3,176.2L563.9,175.3L563.5,173.9L564.0,172.6L563.5,170.6L562.1,168.5L560.7,166.9L560.4,165.6L559.6,164.5L558.8,163.2L558.1,161.5L558.1,159.8L557.2,159.0L556.3,158.9L555.8,160.9L556.5,162.9L557.3,164.5L557.9,166.5L558.6,168.5L559.5,170.3L558.6,170.6L557.4,168.8L557.0,166.8L555.9,165.4L555.0,164.2L555.7,162.9L554.7,161.5L554.4,159.8L554.1,157.8L553.4,155.8L551.3,155.1L550.9,152.4L551.0,150.7L550.4,149.0L550.7,147.2L552.1,145.0L553.0,143.0L555.3,139.7L556.5,136.7L558.4,136.4L559.0,135.5L557.8,134.2L556.0,133.2L556.9,131.3L556.5,129.3L557.0,128.1L556.9,126.5L557.0,124.3L555.2,123.7L554.7,122.7L553.4,122.0L550.8,121.8L548.9,120.9L546.5,121.4L544.4,122.0L541.8,122.7L544.1,120.6L540.6,122.4L537.9,123.7L534.3,125.2L530.6,126.8L527.0,127.8L524.0,128.3L522.5,128.6L526.0,127.4L528.6,126.8L532.2,125.3L535.0,123.7L533.8,123.4L531.1,123.4L532.5,122.0L531.2,121.2L531.7,120.0L532.5,119.0L534.7,118.1L537.5,117.5L540.0,116.7L538.8,116.3L536.8,116.3L536.2,115.8L535.8,115.0ZM631.0,101.3L635.9,100.0L639.4,98.7L643.7,97.8L651.2,97.4L658.7,96.7L665.7,96.7L671.0,97.4L673.6,98.3L678.0,98.3L674.0,99.6L672.2,101.0L672.1,103.0L670.6,104.5L670.3,106.1L667.5,107.2L667.9,109.4L666.0,110.5L663.1,111.7L659.5,112.3L656.4,114.0L653.0,114.9L650.5,115.8L649.0,117.5L647.0,119.3L645.9,121.5L644.3,121.9L643.2,120.9L641.0,120.6L640.3,118.7L639.6,116.9L639.4,115.2L639.3,113.4L640.1,111.7L642.8,110.5L640.7,109.4L640.7,107.8L640.3,105.6L640.1,104.0L637.9,103.3L633.8,103.5L631.8,103.0L631.9,102.0L631.0,101.3ZM665.0,115.2L667.0,114.1L670.5,114.3L673.2,114.2L674.4,115.8L673.0,116.6L669.6,117.7L667.4,117.2L665.9,116.9L666.7,116.1L665.0,115.2ZM621.4,105.9L623.9,106.9L627.0,108.3L628.7,109.6L628.7,111.1L631.8,113.4L631.6,114.6L628.8,115.8L628.6,116.9L626.5,118.5L624.2,117.5L621.1,118.1L620.2,116.6L616.1,116.6L616.2,115.8L620.1,115.2L621.6,113.4L623.0,111.9L620.9,111.1L619.1,110.0L614.0,110.0L611.5,108.9L612.9,106.7L617.3,105.9L621.4,105.9ZM586.6,110.0L589.2,111.7L594.7,111.5L598.4,111.1L599.9,110.0L598.2,108.6L600.0,106.9L598.0,106.5L593.8,107.2L589.6,106.9L587.6,108.3L586.6,110.0ZM582.0,107.8L583.0,108.6L586.1,108.2L590.7,106.7L592.4,105.6L589.9,105.1L586.4,105.3L582.0,107.8ZM617.8,103.0L623.8,103.2L626.1,102.5L629.8,101.0L634.9,99.6L639.8,98.3L642.7,97.4L637.4,97.0L630.4,97.0L624.0,97.6L620.1,98.4L621.6,99.6L621.5,101.0L617.8,103.0ZM611.5,103.0L615.1,104.0L621.5,104.0L622.3,104.9L615.7,105.1L612.8,104.8L611.5,103.0ZM606.8,117.5L609.7,118.7L612.7,116.9L610.5,114.8L607.6,116.3L606.8,117.5ZM593.2,104.3L597.9,105.1L602.6,104.5L602.2,103.5L598.3,103.5L594.8,103.2L593.2,104.3ZM614.6,101.0L618.1,101.3L621.8,100.0L620.7,99.1L616.4,99.6L614.6,101.0ZM603.2,107.8L606.6,107.8L610.1,106.7L609.5,105.6L604.9,106.1L603.2,107.8ZM624.5,137.5L627.6,138.7L630.7,138.8L631.4,137.5L631.1,135.4L629.3,134.5L629.4,132.5L627.5,133.8L625.1,136.4L624.5,137.5ZM587.7,171.9L590.2,170.6L593.1,170.4L595.9,171.5L598.6,173.5L600.0,174.3L599.0,174.7L596.1,174.7L596.8,173.7L594.6,172.4L591.2,171.4L588.8,172.2L587.7,171.9ZM599.5,176.6L601.3,174.7L604.8,174.9L606.4,176.6L604.0,177.0L602.6,177.7L601.7,177.0L599.5,176.6ZM594.9,176.9L597.2,177.1L596.4,177.6L594.9,176.9ZM607.9,176.7L609.7,176.9L609.3,177.4L607.9,177.3L607.9,176.7ZM554.9,133.6L557.6,134.5L557.9,136.4L556.5,136.2L554.7,134.5L554.9,133.6ZM553.5,129.3L554.1,130.0L553.4,131.5L552.9,130.6L553.5,129.3ZM537.4,124.5L538.6,124.9L536.7,125.7L536.2,125.2L537.4,124.5ZM504.5,174.3L505.5,175.0L504.6,175.9L504.3,175.1L504.5,174.3ZM624.3,270.5L627.4,270.3L626.7,271.4L624.6,271.1L624.3,270.5ZM617.2,272.0L618.0,272.8L620.3,274.3L621.7,274.6L618.8,275.3L616.0,274.7L614.0,273.7L615.9,273.3L616.0,272.4L617.2,272.0ZM708.3,108.9L710.3,109.1L713.0,109.8L715.0,110.5L717.6,110.9L721.6,112.3L722.9,113.6L720.5,114.3L716.3,113.8L717.8,115.8L719.9,116.9L721.1,116.3L722.9,116.2L722.9,114.8L724.4,114.1L725.8,114.3L724.9,111.7L726.8,112.3L730.2,112.0L732.6,111.5L736.2,111.7L738.5,111.1L738.4,110.2L741.7,110.8L744.6,111.3L746.3,111.9L744.7,110.0L742.8,108.3L743.4,106.7L746.0,106.9L747.8,108.9L749.5,112.3L751.7,113.6L752.2,112.3L749.8,110.0L748.3,107.2L750.8,107.8L753.3,107.2L752.0,106.1L756.6,105.8L756.2,104.5L759.4,103.7L763.5,103.2L766.4,101.8L770.0,102.8L774.2,103.0L776.8,104.0L775.9,105.6L778.7,105.9L783.1,106.1L787.7,105.9L791.8,107.2L795.5,108.9L797.4,109.1L798.2,108.3L801.5,108.3L802.6,107.2L807.0,107.4L812.4,108.3L815.8,108.9L820.1,109.0L823.8,110.3L826.4,110.3L830.5,110.2L832.3,110.0L834.0,111.1L835.6,110.2L839.9,110.8L842.2,111.1M849.0,115.6L848.7,116.3L847.4,116.1L851.6,118.1L852.9,118.7L850.6,118.7L849.0,119.6L848.4,120.6L848.5,121.8L844.7,121.4L843.1,122.0L843.8,123.7L843.6,124.5L846.8,126.5L847.4,128.1L848.0,130.6L847.6,131.9L847.1,133.2L844.0,130.6L841.2,128.1L838.8,125.5L839.1,124.0L839.2,122.4L839.7,121.2L839.3,119.7L838.3,118.9L836.3,120.0L833.2,119.7L834.7,122.7L832.3,123.0L828.7,122.4L823.3,122.7L822.4,124.7L822.5,127.4L821.5,128.4L824.0,129.6L828.0,130.2L829.9,131.5L831.6,134.5L833.0,136.7L832.5,139.3L832.0,142.4L830.1,144.0L828.2,144.4L827.6,145.7L828.1,147.0L826.5,148.1L828.4,149.7L830.4,151.7L831.2,153.7L829.9,154.8L828.4,155.1L827.8,153.1L827.1,151.1L824.9,150.4L824.1,148.4L822.8,147.7L820.5,149.2L819.5,146.6L817.5,148.8L816.4,149.4L818.7,151.3L820.4,150.7L822.7,151.3L821.4,152.4L820.2,154.1L821.9,155.5L823.5,157.8L825.3,159.8L825.3,161.1L826.1,161.8L826.0,163.4L824.9,165.8L824.2,167.6L822.9,169.5L821.4,170.7L819.2,171.5L816.5,172.6L815.1,172.8L815.0,174.2L814.1,172.6L812.4,172.4L811.1,173.9L810.4,175.9L811.5,178.0L813.5,180.0L815.0,182.0L815.6,184.7L814.9,186.4L813.2,187.5L811.6,189.4L810.7,189.8L810.6,188.0L809.0,187.2L807.7,185.4L805.8,184.4L804.9,183.3L804.7,184.7L804.2,186.7L804.0,188.7L805.5,190.7L806.4,192.4L808.0,193.2L809.3,195.2L809.6,197.9L810.5,199.6L809.5,199.6L807.0,197.7L805.9,195.4L805.6,193.4L804.0,191.1L803.1,190.3L803.2,187.4L803.0,184.7L801.6,181.6L801.3,179.6L799.9,179.3L798.6,180.2L797.4,179.7L797.3,177.3L795.8,174.9L794.2,173.2L793.3,171.4L791.9,171.6L790.2,172.2L787.9,172.6L787.6,174.3L785.9,175.3L783.9,177.8L783.1,179.3L780.9,180.6L781.2,183.3L780.9,186.0L781.0,187.6L780.1,189.0L779.2,189.5L778.4,190.6L777.2,189.4L776.5,187.0L775.1,184.7L774.3,182.0L772.9,179.3L772.1,176.6L771.5,173.9L771.0,172.6L769.2,173.5L767.1,171.5L768.1,170.6L766.1,169.9L764.5,168.5L763.5,167.3L760.6,167.6L757.7,167.7L754.2,167.2L752.6,166.5L751.9,165.2L749.6,165.7L747.6,164.9L745.7,164.0L744.1,161.5L742.5,160.7L741.4,161.1L741.5,162.2L742.7,164.2L744.2,165.6L744.6,167.1L745.5,166.5L746.3,167.9L746.0,168.8L749.2,169.1L751.3,167.2L751.6,166.1L752.1,168.5L754.5,169.7L756.1,171.2L755.2,173.9L754.1,175.9L752.8,177.3L751.1,178.6L748.3,179.6L744.3,182.3L740.3,184.0L737.9,184.4L737.3,182.7L736.8,180.6L736.5,178.9L734.6,176.2L732.3,173.2L731.7,170.6L729.8,168.3L728.7,166.5L726.8,163.8L726.4,161.9L725.9,164.1L725.0,163.4L723.8,161.3L723.3,159.5L725.5,159.4L726.2,157.4L726.8,155.1L726.8,153.1L726.9,152.0L725.0,152.1L722.9,152.9L720.7,152.0L718.9,152.7L717.2,152.0L715.8,149.7L716.0,148.4L715.3,147.4L716.7,147.2L718.3,147.0L718.4,146.1L720.9,146.1L722.9,145.0L724.8,145.0L726.9,146.1L729.7,146.4L731.7,145.7L731.4,144.1L729.3,142.9L727.2,141.7L726.3,140.7L727.4,139.7L727.8,138.2L726.1,138.4L723.8,139.3L725.4,140.7L724.2,141.1L722.4,141.7L721.1,140.5L722.1,139.7L720.2,139.1L718.6,140.0L718.1,141.1L717.3,142.6L716.7,144.4L717.3,145.7L718.2,146.1L716.6,146.4L715.8,147.0L715.0,146.8L712.8,146.6L712.7,147.7L711.5,147.3L711.7,148.6L713.1,150.1L712.3,150.7L712.2,152.4L711.1,152.0L710.2,150.8L709.7,149.0L707.9,147.3L707.7,145.3L706.6,144.4L703.8,143.0L702.6,141.7L701.3,141.1L701.0,140.1L699.7,140.7L699.9,142.1L701.3,143.0L702.1,144.6L704.0,145.3L706.8,147.4L706.8,148.0L705.2,147.0L704.8,148.1L705.4,149.0L704.8,150.0L704.0,150.5L704.2,149.3L703.8,147.7L702.4,146.8L700.2,145.7L698.5,144.4L697.7,143.0L696.0,141.8L694.6,142.6L693.1,143.6L691.4,143.2L690.0,143.7L690.1,145.0L688.8,146.0L687.4,146.8L686.3,148.4L686.8,149.3L685.8,150.8L684.4,152.0L681.6,152.1L680.6,152.9L679.6,152.1L678.5,151.5L676.7,151.7L676.9,149.7L676.1,149.3L677.0,147.0L677.1,145.0L676.7,143.4L678.0,142.8L680.7,142.9L682.8,143.0L684.7,143.2L685.3,141.6L685.4,139.7L684.3,138.2L682.0,137.4L681.7,136.4L683.5,136.1L684.9,136.2L684.7,134.9L685.6,135.3L686.8,134.9L688.2,133.5L690.2,132.7L691.2,131.3L691.6,130.2L693.6,130.0L695.1,129.3L695.1,127.4L694.6,125.5L696.8,124.7L696.7,126.2L697.3,127.4L696.3,128.3L697.6,129.3L699.1,128.8L700.8,129.3L703.0,128.7L705.1,128.4L706.3,128.7L707.4,127.4L707.2,125.5L708.5,124.7L710.3,125.3L710.1,123.9L709.1,122.8L711.4,122.3L713.3,122.3L715.3,121.9L713.5,121.1L711.2,121.3L708.5,121.9L706.7,120.8L706.5,118.7L707.2,117.3L709.2,115.8L709.3,115.0L706.6,114.8L705.9,116.3L704.1,117.9L702.8,120.0L702.8,120.9L704.4,121.8L703.7,123.3L702.6,124.9L702.3,126.5L700.7,126.8L700.6,127.5L699.4,127.5L698.9,126.4L697.5,123.7L696.8,122.7L695.7,123.3L694.3,124.2L692.9,124.2L691.9,123.0L691.3,120.6L691.4,119.3L693.1,118.1L694.8,117.3L696.6,116.1L697.8,114.6L699.3,112.8L700.5,111.5L702.5,110.3L704.9,109.8L706.5,109.1L708.3,108.9M531.0,111.1L532.4,111.9L533.7,113.4L535.0,114.3L533.0,115.2L529.2,116.6L527.3,116.0L526.7,115.2L524.2,115.6M736.8,141.7L736.5,140.4L738.3,139.1L740.9,138.7L742.6,139.1L743.0,140.7L741.3,141.1L741.2,142.0L740.4,141.7L742.1,143.7L743.4,144.4L743.9,145.7L745.3,146.6L744.8,148.4L746.1,150.4L746.6,151.7L744.5,152.1L742.4,151.3L740.8,150.1L740.8,148.4L741.5,147.2L739.9,145.7L738.2,144.1L737.4,143.0L736.8,141.7ZM723.3,159.5L721.2,159.3L719.6,159.9L715.0,159.0L712.6,157.6L710.9,157.4L709.3,158.4L709.4,160.1L708.3,160.7L706.5,160.1L704.2,159.1L703.8,157.9L701.3,157.2L699.2,156.8L698.1,155.8L698.7,153.7L698.5,152.0L697.7,151.3L696.0,151.7L693.8,151.7L690.5,151.9L687.7,152.4L685.5,153.5L683.8,154.1L681.6,154.1L680.6,153.2L679.9,153.5L678.9,155.8L677.0,156.7L675.8,158.4L675.4,160.5L675.2,161.8L673.4,163.6L671.7,164.2L669.9,166.3L668.3,169.2L666.8,172.2L667.0,173.2L667.7,175.3L667.2,178.6L667.1,180.0L666.0,181.7L666.8,184.0L666.8,185.0L668.3,186.4L669.4,187.6L670.9,189.1L671.2,190.7L673.0,192.2L675.3,194.1L677.5,195.6L680.7,194.5L683.6,194.8L685.4,194.4L687.8,193.4L689.8,192.9L691.9,193.0L693.1,194.8L694.6,195.7L696.7,195.4L697.9,196.4L698.2,198.1L697.8,200.2L697.3,202.4L698.2,204.9L699.7,206.9L700.8,208.6L701.2,209.6L702.0,212.3L702.8,215.6L702.5,218.0L701.1,220.3L700.5,223.0L700.4,225.7L701.8,229.1L703.5,231.8L703.4,234.5L703.9,237.4L705.3,239.8L706.2,242.5L707.3,245.2L707.3,247.2L708.8,248.3L711.3,247.5L714.7,247.2L717.0,247.0L718.8,245.6L721.3,242.9L723.0,240.5L724.4,237.8L724.5,236.2L726.5,234.9L727.8,233.1L727.7,230.4L727.3,228.1L729.3,226.4L731.2,224.6L733.6,223.0L734.5,221.0L734.4,218.3L734.4,215.6L733.4,212.9L733.2,210.6L732.6,209.6L733.1,207.8L734.4,205.1L735.9,203.8L737.7,201.1L739.7,199.2L741.8,197.5L743.6,195.4L745.3,192.1L746.4,188.7L747.1,185.6L744.5,186.3L741.6,187.0L739.2,187.5L737.8,186.0L737.6,184.7L735.5,182.7L733.7,180.9L732.8,179.6L731.7,177.3L730.2,175.3L730.0,173.2L729.0,171.2L727.8,169.2L726.4,166.5L725.1,164.1L723.8,161.3L723.3,159.5ZM744.8,217.6L745.8,222.4L744.9,224.4L743.9,227.1L742.5,231.1L741.2,234.9L739.2,235.8L737.5,235.1L737.1,231.8L738.3,228.4L738.2,225.0L739.5,223.0L741.9,221.7L743.2,219.7L744.8,217.6ZM680.7,134.4L683.0,134.1L685.6,133.6L687.9,132.9L688.3,131.0L686.8,130.6L686.6,129.7L685.4,128.6L684.9,127.2L684.1,126.5L684.7,124.9L682.7,124.7L683.5,123.5L681.8,123.5L680.8,124.9L681.2,126.8L681.8,127.7L681.7,128.4L683.3,128.3L683.6,130.0L682.1,130.4L682.2,131.5L681.3,132.2L683.0,132.7L682.2,133.2L680.7,134.4ZM680.3,131.6L680.6,130.0L681.0,128.6L680.2,127.8L678.5,127.8L676.6,129.1L676.7,130.2L676.1,131.9L676.9,132.5L679.0,131.9L680.3,131.6ZM694.9,101.0L697.5,102.5L699.9,102.9L701.1,101.5L703.3,101.3L702.2,100.0L706.5,99.6L703.5,99.2L699.2,99.6L697.0,99.8L694.8,100.3L694.9,101.0ZM729.8,108.3L730.3,106.9L730.9,105.1L731.9,104.0L735.3,103.2L737.8,102.5L740.3,102.7L738.9,103.8L735.0,105.1L734.3,106.7L734.0,108.3L735.3,109.2L732.3,109.2L729.8,108.3ZM758.0,100.5L760.8,99.9L766.1,101.0L763.0,101.5L758.0,100.5ZM795.4,104.0L801.4,103.8L806.7,104.5L801.4,104.8L795.4,104.0ZM723.3,99.3L727.8,99.4L731.6,98.7L726.4,98.5L723.3,99.3ZM828.4,128.9L830.9,130.6L833.4,133.2L836.2,135.8L837.1,138.4L837.0,139.7L835.1,137.1L832.9,134.5L830.8,131.9L828.4,128.9ZM839.1,145.7L839.1,143.7L837.3,140.5L840.1,142.0L843.0,143.0L841.9,143.8L841.6,145.0L839.2,144.6L839.1,145.7ZM840.4,146.0L842.6,148.4L842.6,150.4L844.0,153.1L843.5,154.4L842.4,154.8L840.4,154.9L839.7,156.4L838.2,155.1L836.1,155.5L834.0,155.8L833.6,154.8L834.8,153.7L837.5,153.5L838.8,152.0L838.8,151.1L840.4,151.5L840.7,149.3L840.0,147.7L839.4,146.1L840.4,146.0ZM833.2,156.4L835.0,156.2L835.9,158.4L835.3,159.8L834.2,158.4L833.1,157.1L833.2,156.4ZM835.7,155.8L837.8,155.5L838.0,156.7L836.9,157.4L835.9,156.7L835.7,155.8ZM827.1,167.6L827.6,168.5L827.3,171.9L826.1,170.6L826.4,168.3L827.1,167.6ZM813.7,175.7L815.6,174.6L816.3,175.3L815.4,176.7L814.0,176.6L813.7,175.7ZM781.3,188.3L782.8,190.1L783.6,192.1L782.7,193.2L781.8,193.4L781.1,191.4L781.1,189.7L781.3,188.3ZM827.7,176.6L829.7,176.6L830.2,179.3L829.6,181.3L830.4,182.7L832.8,183.3L833.0,184.4L831.1,183.3L829.3,183.1L828.1,181.6L827.6,180.0L827.7,176.6ZM831.3,192.1L832.9,190.1L835.1,188.3L836.5,190.7L836.3,193.0L835.4,194.0L833.7,192.8L833.0,191.4L831.3,192.1ZM833.3,184.7L834.8,185.4L835.1,187.6L834.3,187.8L833.5,186.0L833.3,184.7ZM830.7,185.6L832.2,186.0L832.6,189.0L831.5,188.3L830.9,187.2L830.7,185.6ZM825.5,190.2L828.0,187.4L827.6,186.4L826.3,188.7L825.5,190.2ZM816.2,199.5L816.9,198.8L818.9,198.1L820.8,197.1L822.6,195.2L824.2,192.8L825.4,192.1L826.3,193.2L827.9,194.5L826.7,195.7L826.4,197.5L826.9,199.9L826.3,201.1L825.1,203.5L824.4,206.2L822.6,206.9L820.8,205.8L819.1,205.9L817.5,205.3L817.3,203.5L816.4,202.2L816.2,199.5ZM799.7,194.0L802.3,194.5L804.2,196.5L806.0,198.4L807.8,199.8L809.6,201.5L810.8,203.8L812.5,205.5L812.3,209.3L810.6,209.3L808.3,207.3L806.6,204.9L804.9,201.9L803.7,199.2L801.8,197.5L800.0,195.0L799.7,194.0ZM811.4,210.6L813.0,209.6L815.3,210.4L818.0,210.2L820.3,210.9L822.3,212.0L822.2,213.2L819.3,212.7L815.8,212.0L812.9,211.5L811.4,210.6ZM829.2,199.9L831.0,200.2L833.4,200.3L835.2,199.3L834.6,201.0L832.8,201.0L830.4,201.0L829.5,202.6L830.7,203.1L833.1,202.6L832.2,203.9L831.4,204.2L832.1,206.2L832.7,207.6L832.0,208.6L831.0,207.8L830.4,205.5L829.6,205.8L829.5,208.9L828.4,208.8L828.6,206.2L827.8,205.1L828.4,203.2L829.0,201.2L829.2,199.9ZM824.9,212.8L827.6,212.7L829.4,212.7L832.4,212.7L832.1,213.3L828.7,213.5L825.2,213.6L824.9,212.8ZM832.7,215.4L834.6,213.6L837.3,212.8L835.8,214.0L833.3,215.4L832.7,215.4ZM838.1,198.8L839.3,199.5L838.8,201.5L838.5,200.2L838.1,198.8ZM838.7,205.5L842.0,205.9L840.4,206.2L838.7,205.5ZM842.3,202.6L844.1,202.0L845.9,202.6L846.1,204.9L847.0,205.9L848.8,204.5L850.6,203.8L854.1,205.0L856.5,206.1L858.2,206.7L859.7,208.6L861.6,209.6L861.9,210.9L860.9,210.9L862.0,212.3L863.1,213.6L864.7,215.4L863.7,215.6L861.7,215.2L860.1,213.6L858.5,212.0L856.7,212.5L855.9,213.9L854.2,213.9L852.5,212.5L850.7,212.7L850.0,211.6L851.2,210.9L850.4,208.9L848.1,207.6L845.8,206.6L844.3,206.9L843.4,205.3L845.2,204.6L843.5,204.2L842.3,202.6ZM862.9,209.0L865.2,208.9L867.1,207.2L867.4,208.2L865.8,209.6L863.4,209.8L862.9,209.0ZM865.8,205.0L867.7,206.6L868.3,207.8L867.1,206.6L865.8,205.0ZM870.5,209.6L871.6,210.9L871.0,210.6L870.5,209.6ZM872.7,211.6L875.6,212.7L874.4,212.7L872.7,211.6ZM876.0,214.1L877.3,215.2L876.3,215.0L876.0,214.1ZM878.1,228.4L880.8,231.5L879.8,231.1L878.1,228.4ZM894.5,225.0L896.0,225.2L895.3,226.0L894.3,225.7L894.5,225.0ZM882.7,221.7L883.3,222.8L883.0,222.6L882.7,221.7ZM818.7,231.1L819.3,230.8L821.9,229.5L824.9,228.8L828.0,227.9L829.9,225.7L830.0,224.4L831.5,224.8L831.9,223.3L833.6,222.4L835.1,220.3L836.8,220.6L837.5,221.7L839.0,221.7L839.7,219.7L840.7,218.3L841.3,217.9L843.1,217.8L843.2,216.7L846.0,217.9L848.2,217.9L847.0,219.7L846.1,221.7L847.7,222.8L849.8,224.1L851.3,225.2L852.7,223.0L853.6,220.3L853.8,218.3L855.1,216.0L856.0,218.7L855.7,220.7L857.6,221.7L857.5,223.7L857.7,226.8L859.0,227.7L860.2,229.1L860.6,231.1L861.8,232.4L862.2,234.1L863.4,235.8L863.1,238.5L862.3,240.5L860.7,243.2L858.8,245.5L856.8,247.2L854.8,249.5L853.1,251.7L851.0,252.3L847.9,254.0L846.8,253.0L844.8,253.7L842.9,253.0L841.8,251.9L842.3,249.9L841.2,249.3L842.2,246.6L842.4,245.5L840.8,247.2L839.0,248.6L838.6,248.2L838.5,245.9L836.8,244.6L835.4,243.9L833.0,244.1L829.9,245.0L827.2,245.9L825.6,247.1L823.4,247.1L820.9,247.6L818.9,248.6L816.6,248.6L815.8,247.6L817.1,245.9L818.0,243.9L817.9,241.9L817.9,239.8L817.4,237.2L817.9,235.1L818.5,233.1L818.7,231.1ZM844.5,256.4L846.2,256.8L848.3,256.5L847.1,258.2L845.2,260.0L843.5,260.1L843.7,258.6L844.5,256.4ZM880.5,247.9L881.5,249.3L881.8,251.0L881.7,252.1L883.9,252.1L883.4,253.3L881.0,254.6L879.8,256.0L877.1,257.4L876.8,257.0L878.1,255.6L877.7,254.4L879.3,253.3L880.5,251.7L880.6,250.3L880.5,247.9ZM875.3,256.0L876.0,257.3L873.9,259.0L872.1,260.2L869.9,261.0L867.7,263.0L865.4,264.1L864.0,263.9L862.9,263.3L865.3,261.7L867.2,260.6L870.4,259.3L872.7,257.7L875.3,256.0ZM758.1,267.2L759.8,267.3L759.0,268.1L757.8,267.9L758.1,267.2ZM695.5,146.4L697.2,146.4L697.2,148.8L696.0,149.0L695.5,146.4ZM695.9,144.4L696.8,143.7L696.8,145.7L696.2,145.6L695.9,144.4ZM700.4,150.4L703.8,150.1L703.5,152.1L701.0,151.3L700.4,150.4ZM713.0,153.7L715.9,154.1L714.1,154.4L713.0,153.7ZM722.8,154.4L725.2,153.6L724.5,154.7L722.8,154.4ZM563.6,307.2L570.0,307.1L577.4,307.3L584.6,307.4L589.3,307.4L588.5,307.1L583.4,306.9L580.0,306.5L578.2,305.6L574.9,304.7L577.8,304.6L578.9,303.7L575.1,302.9L569.8,302.5L565.9,301.5L563.7,300.5L568.4,300.8L571.4,300.3L571.5,299.5L571.1,298.8L574.7,298.6L577.5,297.7L581.8,297.9L585.8,297.9L589.9,297.9L591.6,297.4L594.2,297.2L596.6,298.1L600.2,298.5L603.4,298.5L606.5,298.8L605.6,297.9L602.6,297.1L601.0,295.9L604.1,296.1L606.9,296.9L610.3,296.5L612.8,295.9L615.9,296.4L620.3,297.2L620.6,296.4L624.4,297.3L627.6,296.6L630.5,296.1L630.7,295.2L628.5,293.5L627.7,292.2L627.8,291.0L626.9,289.9L627.7,288.7L628.7,287.5L630.4,286.8L632.4,285.7L633.5,285.2L634.1,285.5L633.2,286.3L632.1,286.5L631.5,287.2L630.7,288.3L631.3,288.7L629.9,289.0L629.0,290.2L629.8,291.2L631.7,291.9L633.5,293.2L634.7,294.1L635.7,295.2L636.8,296.5L636.8,297.5L635.6,298.0L634.3,299.1L631.9,300.1L626.4,300.2L629.6,301.0L627.4,301.9L628.2,302.7L630.5,303.4L634.9,304.1L639.3,304.7L644.0,305.5L645.8,306.1L647.6,305.6L650.7,304.9L654.3,305.0L656.1,305.2L657.0,304.7L660.5,304.4L664.7,304.0L665.7,303.7L664.4,302.8L660.1,303.0L659.4,301.8L662.0,301.1L664.0,300.2L666.6,299.8L669.3,299.5L672.6,298.6L674.0,297.4L673.5,296.8L675.9,296.0L677.4,294.7L679.5,294.8L680.7,294.0L683.2,294.5L685.3,294.4L687.5,293.5L690.0,293.6L692.6,293.2L695.1,293.6L697.7,293.0L700.2,293.2L702.9,292.9L706.1,293.6L709.6,293.1L712.4,292.2L715.2,291.7L716.8,292.1L719.1,292.8L721.1,292.0L723.3,290.7L727.0,290.3L729.4,289.7L731.3,289.5L733.1,288.4L735.8,288.4L737.1,289.4L738.6,289.9L740.9,290.5L743.5,290.6L746.1,290.6L746.7,291.8L746.3,292.8L744.3,293.4L744.3,294.4L744.0,295.5L745.8,295.2L747.8,294.1L749.5,292.9L752.1,292.2L754.3,291.5L756.6,290.6L758.8,290.1L761.7,289.7L764.6,288.7L766.2,289.6L769.0,289.4L770.3,289.9L773.0,289.8L775.1,289.5L778.1,288.0L779.7,289.2L782.2,289.5L784.7,289.1L787.7,288.3L788.7,289.1L790.7,289.8L793.8,289.4L796.7,289.1L799.5,289.0L802.4,288.8L805.2,288.7L808.1,287.6L807.7,289.2L810.6,289.4L813.2,289.5L814.4,290.3L815.6,291.1L817.6,291.5L820.3,291.4L821.0,292.2L823.1,292.6L823.8,293.6L825.4,293.9L827.9,293.9L829.4,294.6L829.2,295.2L826.1,296.5L822.6,297.4L819.4,298.2L816.5,299.0L813.5,300.3L811.8,301.7L812.1,302.3L807.3,303.0L803.8,303.9L803.0,304.6L802.6,305.5L803.6,306.0L803.8,306.6L805.3,306.8L807.2,306.9L808.7,307.1L809.6,307.2" fill="none" stroke="#000" stroke-width="2.1" stroke-linejoin="round" stroke-linecap="round"/>
</g>
<path d="M800.5,310L805.4,308.6L811.2,306.6L817.7,304.2L824.5,301.3L831.2,298.2L837.2,294.9L842.8,291.5L848.2,287.9L853.3,284.3L858.3,280.6L863.1,276.8L867.7,272.9L871.9,269L875.7,265L879.3,260.9L882.6,256.9L885.6,252.8L888.3,248.7L890.6,244.6L892.7,240.5L894.4,236.4L895.7,232.3L896.9,228.2L897.9,224.1L898.8,220L899.5,215.9L900,211.8L900.3,207.7L900.5,203.6L900.5,199.4L900.3,195.3L900,191.2L899.5,187.1L898.8,183L897.9,178.9L896.9,174.8L895.7,170.7L894.4,166.6L892.7,162.5L890.6,158.4L888.3,154.3L885.6,150.2L882.6,146.1L879.3,142.1L875.7,138L871.9,134L867.7,130.1L863.1,126.2L858.3,122.4L853.3,118.7L848.2,115.1L842.8,111.5L837.2,108.1L831.2,104.8L824.5,101.7L817.7,98.8L811.2,96.4L805.4,94.4L800.5,93L572.7,93L567.8,94.4L562,96.4L555.5,98.8L548.7,101.7L542,104.8L536,108.1L530.4,111.5L525,115.1L519.9,118.7L514.9,122.4L510.1,126.2L505.5,130.1L501.3,134L497.5,138L493.9,142.1L490.6,146.1L487.6,150.2L484.9,154.3L482.6,158.4L480.5,162.5L478.8,166.6L477.5,170.7L476.3,174.8L475.3,178.9L474.4,183L473.7,187.1L473.2,191.2L472.9,195.3L472.7,199.4L472.7,203.6L472.9,207.7L473.2,211.8L473.7,215.9L474.4,220L475.3,224.1L476.3,228.2L477.5,232.3L478.8,236.4L480.5,240.5L482.6,244.6L484.9,248.7L487.6,252.8L490.6,256.9L493.9,260.9L497.5,265L501.3,269L505.5,272.9L510.1,276.8L514.9,280.6L519.9,284.3L525,287.9L530.4,291.5L536,294.9L542,298.2L548.7,301.3L555.5,304.2L562,306.6L567.8,308.6L572.7,310Z" fill="none" stroke="#c8c8cc" stroke-width="1.4"/>
<g clip-path="url(#c2)">
<path d="M329.5,580.5L334.4,579.1L340.2,577.1L346.7,574.7L353.5,571.8L360.2,568.7L366.2,565.4L371.8,562L377.2,558.4L382.3,554.8L387.3,551.1L392.1,547.3L396.7,543.4L400.9,539.5L404.7,535.5L408.3,531.4L411.6,527.4L414.6,523.3L417.3,519.2L419.6,515.1L421.7,511L423.4,506.9L424.7,502.8L425.9,498.7L426.9,494.6L427.8,490.5L428.5,486.4L429,482.3L429.3,478.2L429.5,474.1L429.5,469.9L429.3,465.8L429,461.7L428.5,457.6L427.8,453.5L426.9,449.4L425.9,445.3L424.7,441.2L423.4,437.1L421.7,433L419.6,428.9L417.3,424.8L414.6,420.7L411.6,416.6L408.3,412.6L404.7,408.5L400.9,404.5L396.7,400.6L392.1,396.7L387.3,392.9L382.3,389.2L377.2,385.6L371.8,382L366.2,378.6L360.2,375.3L353.5,372.2L346.7,369.3L340.2,366.9L334.4,364.9L329.5,363.5L101.7,363.5L96.8,364.9L91,366.9L84.5,369.3L77.7,372.2L71,375.3L65,378.6L59.4,382L54,385.6L48.9,389.2L43.9,392.9L39.1,396.7L34.5,400.6L30.3,404.5L26.5,408.5L22.9,412.6L19.6,416.6L16.6,420.7L13.9,424.8L11.6,428.9L9.5,433L7.8,437.1L6.5,441.2L5.3,445.3L4.3,449.4L3.4,453.5L2.7,457.6L2.2,461.7L1.9,465.8L1.7,469.9L1.7,474.1L1.9,478.2L2.2,482.3L2.7,486.4L3.4,490.5L4.3,494.6L5.3,498.7L6.5,502.8L7.8,506.9L9.5,511L11.6,515.1L13.9,519.2L16.6,523.3L19.6,527.4L22.9,531.4L26.5,535.5L30.3,539.5L34.5,543.4L39.1,547.3L43.9,551.1L48.9,554.8L54,558.4L59.4,562L65,565.4L71,568.7L77.7,571.8L84.5,574.7L91,577.1L96.8,579.1L101.7,580.5Z" fill="#fcdfcf"/>
<path d="M198.2,398.0L201.0,397.4L203.0,397.9L204.1,399.0L205.0,401.0L204.8,403.0L200.3,409.0L198.8,412.0L197.3,422.0L198.0,428.0L199.0,429.1L202.0,430.1L203.0,430.2L206.0,428.0L211.8,428.0L215.0,427.3L216.6,426.0L217.9,423.0L220.0,422.3L221.4,423.0L221.5,426.0L222.5,430.0L223.0,430.9L224.0,431.3L227.0,431.2L229.0,427.5L234.0,427.8L236.0,427.1L235.2,426.0L228.0,422.5L226.0,423.7L225.1,423.0L224.9,422.0L230.1,418.0L236.0,416.7L238.0,413.7L239.0,413.4L242.0,416.4L243.0,416.4L245.0,414.6L246.0,414.4L248.0,415.3L248.6,415.0L249.3,412.0L250.9,410.0L255.0,407.7L257.0,405.0L258.0,404.5L264.0,408.5L267.0,407.8L270.0,408.0L272.0,406.3L273.0,406.2L274.2,408.0L276.0,408.2L280.0,406.3L285.0,405.8L292.0,406.4L296.0,408.1L303.0,406.2L305.0,406.2L307.0,406.9L311.0,409.4L312.9,409.0L315.0,407.3L317.0,407.7L319.0,411.8L321.7,415.0L322.4,418.0L321.0,419.5L318.0,420.4L316.0,419.8L314.0,418.1L313.0,418.2L311.4,420.0L306.0,423.2L299.0,419.3L296.5,417.0L295.0,416.6L292.0,416.7L291.0,418.4L290.0,419.0L288.0,417.6L286.0,417.0L280.0,418.4L277.0,417.4L271.0,419.3L265.0,416.2L260.0,417.8L255.0,415.9L252.0,415.6L249.1,416.0L249.2,417.0L251.9,421.0L249.1,423.0L247.8,425.0L248.1,427.0L250.0,429.4L256.0,428.7L258.0,430.0L259.0,432.0L260.0,432.4L264.0,428.7L266.0,427.8L272.0,427.8L276.0,428.9L279.0,428.8L280.1,429.0L282.0,431.0L284.0,431.5L285.0,432.3L286.0,434.0L286.0,436.0L286.7,437.0L288.0,437.5L292.0,436.5L294.0,436.7L297.0,434.6L298.0,434.6L305.0,438.3L314.0,435.3L317.0,436.8L319.0,439.8L325.0,441.3L327.7,440.0L329.0,438.3L329.5,432.0L330.1,430.0L334.0,428.1L334.7,430.0L336.0,430.5L337.0,429.8L337.5,428.0L335.8,426.0L336.3,425.0L338.0,423.8L340.0,423.6L342.0,422.4L344.3,426.0L346.0,426.6L350.0,424.7L356.0,424.0L366.0,427.2L371.0,427.8L375.0,427.7L381.0,425.2L383.0,425.0L390.0,426.5L399.0,426.7L406.0,425.5L412.0,426.7L421.0,426.4L432.0,427.9L432.0,523.1L428.0,523.0L422.0,520.9L415.0,521.0L411.0,519.4L409.5,520.0L408.0,523.0L406.0,522.7L403.0,523.5L400.0,522.9L396.0,525.8L391.0,525.0L386.0,526.2L377.5,523.0L377.0,522.0L377.4,520.0L377.0,519.4L374.0,516.9L372.0,516.3L369.6,518.0L368.0,520.3L360.0,523.1L353.0,521.7L346.0,521.5L342.0,522.4L337.0,520.8L332.0,522.4L330.0,522.4L321.0,520.2L317.0,517.7L316.0,517.7L307.0,521.8L299.0,523.2L296.0,523.1L293.9,522.0L292.5,519.0L292.4,515.0L294.4,508.0L293.7,505.0L292.0,502.4L290.0,500.6L286.0,499.3L284.0,499.3L280.0,500.9L278.0,500.9L276.0,499.4L272.6,495.0L271.0,494.3L268.0,495.8L266.0,496.1L265.2,497.0L262.9,505.0L262.6,510.0L259.6,516.0L259.5,522.0L258.0,524.2L256.0,524.8L249.4,522.0L249.6,520.0L253.9,516.0L253.8,509.0L249.0,501.0L249.7,497.0L248.0,495.2L245.0,493.6L243.0,493.2L240.3,497.0L240.0,499.0L240.9,502.0L239.8,503.0L238.0,508.1L237.0,509.4L234.0,510.0L230.0,512.0L226.0,512.5L219.0,510.8L205.0,509.2L198.0,506.2L193.0,501.8L183.0,500.4L181.0,500.6L179.4,502.0L179.9,506.0L179.4,507.0L177.6,508.0L174.0,508.4L166.6,507.0L164.5,506.0L163.9,505.0L165.5,501.0L165.2,498.0L164.0,497.1L162.0,496.9L161.7,493.0L161.2,492.0L160.0,491.4L158.8,492.0L157.0,494.9L154.0,495.0L152.4,496.0L150.0,500.6L146.2,504.0L145.4,506.0L141.0,509.9L140.0,510.1L139.0,509.4L137.3,507.0L136.0,506.4L133.7,508.0L132.0,510.6L131.0,510.7L125.0,510.4L116.0,512.2L108.0,510.4L105.0,510.6L92.4,516.0L91.6,517.0L93.4,521.0L92.7,522.0L90.0,523.3L83.0,524.7L80.0,524.8L73.0,523.2L61.0,523.1L59.0,522.0L55.0,517.3L53.0,516.6L51.0,517.2L48.0,520.2L44.0,522.7L41.0,525.5L36.0,525.2L30.0,528.4L26.0,527.9L21.0,529.3L19.0,528.4L17.0,525.6L15.0,524.0L12.6,520.0L11.0,518.8L8.0,518.3L4.0,519.7L0.0,519.0L0.0,463.8L22.0,466.2L35.0,465.5L43.0,466.5L50.0,464.7L54.0,464.2L67.0,465.1L81.0,467.1L91.0,466.8L98.0,467.2L105.0,466.7L116.0,464.2L120.0,463.2L120.6,462.0L120.2,461.0L119.0,460.3L114.0,459.3L104.0,457.6L95.0,457.0L66.0,458.5L51.0,456.4L43.0,456.1L36.0,455.0L30.0,455.1L24.0,454.5L13.0,454.7L0.0,456.3L0.0,431.6L7.0,430.1L20.0,428.8L22.0,429.2L27.0,432.0L31.0,432.5L38.0,431.9L50.0,428.2L53.0,430.1L55.0,430.1L58.0,428.9L60.1,427.0L64.8,417.0L67.2,410.0L69.0,407.5L72.0,405.3L74.0,404.8L75.0,405.2L80.0,412.7L81.0,412.6L83.0,410.4L86.0,410.4L89.0,408.0L92.0,409.0L94.0,408.7L95.3,408.0L95.7,405.0L97.0,404.1L99.0,404.7L102.0,407.2L103.0,407.3L105.0,404.5L107.0,403.4L108.6,405.0L109.3,409.0L109.0,410.3L106.5,412.0L108.5,418.0L108.0,419.5L104.9,421.0L105.0,422.2L106.0,423.4L109.0,423.2L112.0,424.7L113.0,424.6L115.0,423.2L118.8,424.0L120.5,417.0L125.4,413.0L127.0,412.7L128.1,414.0L128.1,415.0L126.3,416.0L126.1,417.0L127.0,418.3L130.8,418.0L131.9,417.0L132.0,415.7L134.0,415.1L138.8,421.0L141.3,426.0L140.8,430.0L142.1,433.0L148.0,436.9L154.0,438.6L157.0,438.8L159.0,438.0L172.0,428.6L174.0,427.6L178.0,426.7L180.0,425.1L189.8,414.0L192.5,408.0L194.3,401.0L196.0,399.1ZM242.0,488.3L241.2,490.0L242.0,491.4L243.0,491.4L244.4,490.0L244.3,489.0L243.0,488.0ZM247.0,432.8L246.3,434.0L247.0,434.6L248.0,434.5L248.0,433.6ZM254.0,495.8L252.7,497.0L252.8,498.0L254.5,500.0L255.1,502.0L256.0,502.7L256.2,498.0L255.0,496.3ZM316.0,448.5L314.3,450.0L314.0,452.0L314.5,454.0L316.0,455.5L317.0,455.4L318.0,454.3L318.5,452.0L318.0,449.9L317.0,448.7ZM329.0,453.7L326.8,456.0L325.6,461.0L326.5,465.0L329.0,467.6L332.0,468.5L337.0,468.0L341.0,466.4L347.0,464.9L349.2,463.0L349.0,461.0L347.0,459.6L339.5,459.0L338.0,457.8L336.0,457.2L333.0,453.6ZM382.0,517.6L381.3,519.0L382.0,520.6L383.0,520.1L383.4,519.0L383.0,517.6ZM386.0,502.3L384.3,504.0L384.2,506.0L385.0,507.1L387.0,507.3L389.1,506.0L389.4,504.0L388.0,502.1ZM414.0,458.0L410.0,458.8L408.6,460.0L409.4,461.0L411.0,461.7L417.0,462.5L426.0,461.8L428.9,461.0L430.0,460.0L428.0,458.6L424.0,457.8ZM7.0,486.8L6.4,488.0L6.8,489.0L9.0,491.1L17.0,493.8L25.0,497.5L36.0,500.1L39.3,500.0L40.0,499.0L37.8,497.0L25.0,490.6L13.0,486.3L10.0,486.1ZM128.0,455.8L125.4,458.0L124.8,460.0L125.0,463.0L127.7,465.0L131.0,465.7L135.7,461.0L135.9,459.0L134.9,458.0L131.0,456.3ZM146.0,455.9L142.6,457.0L141.7,459.0L142.3,460.0L149.0,463.8L157.0,465.3L167.0,469.4L186.0,470.2L188.0,469.7L190.0,468.5L191.5,466.0L190.3,464.0L188.0,462.7L185.0,461.7L178.9,461.0L174.0,458.4L169.0,456.7L157.0,455.1ZM427.0,483.6L426.0,484.3L426.0,485.7L427.0,486.4L428.0,486.3L428.7,485.0L428.2,484.0ZM125.0,480.8L124.9,482.0L126.0,483.0L127.0,483.3L128.0,482.8L128.1,481.0L127.0,480.2ZM168.0,487.3L164.3,490.0L164.1,491.0L167.0,493.0L169.0,493.1L169.9,491.0L169.7,489.0L169.0,487.8ZM173.0,483.7L172.0,484.0L172.0,485.0L173.3,485.0ZM215.0,404.7L219.0,403.1L220.0,403.9L219.9,405.0L218.0,407.4L217.0,407.7L216.0,407.3L215.1,406.0ZM136.0,412.0L138.0,408.5L141.0,409.3L145.0,408.1L146.8,409.0L147.1,410.0L146.0,411.7L145.0,412.2L140.0,413.3L137.0,413.4ZM246.0,411.4L246.0,408.5L247.2,409.0ZM323.8,411.0L325.0,410.5L326.0,411.4L326.0,412.7L325.0,413.6L323.9,413.0ZM330.0,414.0L331.0,413.5L335.5,414.0L339.1,417.0L334.0,419.6L332.0,419.6L328.2,418.0L327.9,417.0ZM253.5,421.0L256.0,420.3L256.5,421.0L256.0,423.0L255.0,423.2L253.3,422.0ZM241.3,502.0L243.1,502.0L243.5,503.0L243.0,504.4ZM144.7,523.0L158.0,524.9L165.0,522.8L175.0,522.3L178.7,523.0L180.4,524.0L180.8,525.0L179.0,526.6L176.0,527.6L160.0,527.2L159.4,528.0L158.6,532.0L154.0,541.4L153.0,543.1L151.0,544.3L149.0,543.6L147.0,541.6L145.0,534.6L142.2,531.0L142.5,529.0L144.7,526.0ZM195.6,530.0L199.0,529.2L201.0,529.6L203.2,531.0L204.5,534.0L203.2,537.0L199.0,539.6L196.0,539.9L194.0,539.5L192.4,537.0L192.3,534.0L193.2,532.0ZM273.2,530.0L275.0,529.3L278.0,529.3L280.0,530.2L280.7,532.0L280.0,533.0L278.0,534.0L274.0,534.2L272.2,533.0L271.8,532.0ZM430.6,539.0L432.0,537.8L432.0,542.5L430.7,542.0L430.2,541.0ZM183.1,540.0L186.0,539.2L194.0,540.2L198.8,544.0L200.2,546.0L198.0,546.9L193.0,546.4L187.0,543.6L183.6,541.0ZM185.2,552.0L193.0,551.3L196.0,552.3L198.7,557.0L202.4,560.0L203.7,562.0L204.2,565.0L202.7,568.0L198.0,571.7L193.0,572.8L184.0,576.4L166.7,576.0L162.3,575.0L160.0,573.1L155.4,564.0L155.3,562.0L156.1,560.0L158.0,559.3L163.0,558.9L180.0,555.2ZM297.9,568.0L328.0,567.9L337.0,568.4L340.0,569.2L342.0,570.4L344.6,574.0L344.7,575.0L343.0,576.6L339.0,578.6L333.0,577.0L329.0,576.8L320.0,578.4L313.0,578.1L294.0,579.6L286.0,578.7L275.0,579.8L269.0,581.1L254.0,579.5L230.0,579.6L217.0,578.7L207.0,577.0L205.3,576.0L205.2,575.0L208.0,573.4L226.0,570.1L234.0,570.9L240.0,570.6L250.0,571.2L258.0,570.4L265.0,570.4L272.0,569.2L277.0,569.8L286.0,569.4ZM99.0,574.6L111.0,571.2L129.0,573.0L143.0,573.4L150.0,574.6L152.1,576.0L152.5,577.0L152.3,578.0L151.0,579.4L144.0,577.8L128.0,580.8L121.0,580.1L109.0,581.8L107.0,581.4L99.6,578.0L97.5,576.0Z" fill="#f7f6f6" fill-rule="evenodd"/>
<path d="M281.3,409.0L286.0,407.6L290.0,408.6L292.2,410.0L292.8,411.0L292.7,412.0L288.0,414.2L284.0,413.6L280.2,411.0ZM254.1,411.0L257.0,410.6L257.6,411.0L257.6,412.0L256.3,413.0L255.0,413.1L253.7,412.0ZM88.8,412.0L90.0,412.3L92.0,414.8L95.0,414.9L100.2,417.0L98.7,421.0L101.0,424.0L108.3,427.0L110.0,428.5L112.0,428.0L114.0,428.2L115.6,429.0L115.9,430.0L115.3,431.0L113.0,432.8L109.0,433.5L105.4,436.0L103.0,440.3L101.5,438.0L101.8,437.0L103.7,435.0L103.6,434.0L103.0,432.9L102.0,432.6L100.0,434.6L99.0,434.9L97.0,433.9L94.0,434.8L90.0,435.2L88.3,436.0L88.1,438.0L88.7,440.0L92.2,444.0L94.9,446.0L94.9,447.0L91.6,451.0L89.0,453.0L86.0,454.3L76.0,454.5L72.0,455.1L68.0,456.4L65.0,456.5L63.3,456.0L61.0,454.3L56.0,452.7L51.0,450.3L48.0,450.2L43.0,451.5L41.3,451.0L40.3,450.0L40.2,448.0L41.0,447.0L49.0,442.6L54.0,441.1L62.0,434.3L63.0,434.1L64.0,434.7L67.0,437.8L70.0,438.3L74.0,437.4L81.0,433.0L84.0,429.1L85.3,426.0L84.3,424.0L84.7,421.0L83.6,419.0L83.8,418.0L86.0,416.5L87.0,413.5ZM302.0,413.0L303.0,412.4L304.8,413.0L306.9,417.0L306.2,418.0L303.0,418.4L300.7,417.0L300.9,415.0ZM126.0,422.0L128.0,422.0L128.7,423.0L127.0,425.3L126.0,425.1L125.5,424.0ZM216.5,432.0L218.0,431.6L220.0,433.7L224.4,435.0L225.0,436.0L224.9,440.0L226.0,440.8L231.0,438.1L233.0,438.8L234.0,438.6L238.0,436.8L244.0,436.7L250.0,439.0L254.0,435.8L255.0,435.9L257.0,438.8L259.0,439.4L263.0,437.8L269.0,437.6L272.0,438.8L276.4,442.0L282.0,447.5L287.0,450.7L290.0,450.9L299.0,448.7L302.0,446.6L311.0,449.1L314.0,456.6L316.0,458.5L317.0,458.5L319.0,457.3L322.0,452.6L323.0,452.6L324.1,455.0L323.0,462.3L321.0,464.3L315.0,466.8L309.4,470.0L308.7,472.0L310.0,477.0L313.2,479.0L325.0,484.0L333.0,485.5L335.0,486.3L340.0,490.9L345.0,492.9L346.6,497.0L350.0,500.7L354.4,501.0L357.0,503.7L357.3,506.0L356.0,505.9L354.0,504.3L353.0,505.1L352.6,507.0L354.2,510.0L353.9,512.0L353.0,512.7L348.0,513.2L345.9,511.0L343.0,505.8L329.9,501.0L321.0,498.3L315.7,494.0L307.0,490.3L299.0,484.9L296.0,484.2L292.0,484.4L281.0,488.0L278.0,488.3L272.3,487.0L266.0,483.6L263.0,482.9L262.0,486.7L258.8,485.0L258.6,482.0L257.0,478.8L256.0,478.0L252.5,479.0L251.4,481.0L252.5,483.0L257.8,486.0L257.6,487.0L254.3,490.0L252.0,490.2L252.0,485.2L250.5,481.0L248.9,479.0L249.0,476.7L248.3,476.0L245.0,475.7L243.0,474.7L239.7,476.0L237.9,476.0L237.7,475.0L239.2,474.0L239.5,472.0L238.9,470.0L237.0,468.9L234.8,470.0L232.0,472.7L229.0,472.8L227.0,472.2L226.0,472.7L225.4,479.0L226.5,486.0L226.0,488.0L224.0,489.9L220.0,492.4L215.0,497.0L213.0,497.9L211.0,497.4L205.7,492.0L204.6,490.0L205.0,483.0L206.3,480.0L210.0,474.0L212.0,473.0L217.0,472.5L217.8,472.0L217.9,471.0L216.0,469.3L211.2,468.0L210.3,467.0L210.2,465.0L212.1,462.0L211.0,460.7L208.0,462.6L204.0,461.7L202.3,463.0L202.0,464.5L198.6,461.0L189.8,457.0L187.3,454.0L186.3,451.0L186.3,449.0L187.5,447.0L190.0,445.3L197.1,443.0L198.3,442.0L199.0,440.2L200.0,439.6L203.0,441.9L206.1,441.0L210.0,441.5L213.0,440.4L217.0,440.2L218.1,439.0L218.2,438.0L218.0,436.8L215.8,435.0L215.9,433.0ZM234.0,459.0L230.8,460.0L230.5,461.0L231.0,461.9L232.0,462.3L236.0,461.6L243.0,464.2L244.0,463.0L242.7,460.0L241.3,459.0L239.0,458.3L236.0,459.1ZM244.0,469.8L243.7,471.0L244.0,471.4L245.1,470.0L245.0,469.5ZM352.0,501.6L351.8,503.0L353.0,503.3L353.2,503.0ZM207.0,453.0L202.5,456.0L202.7,457.0L206.0,457.0L207.3,454.0ZM350.0,436.0L351.0,435.5L353.0,435.8L353.6,437.0L353.1,438.0L352.0,438.8L350.0,438.1L349.6,437.0ZM366.8,436.0L369.0,435.8L371.0,436.5L376.0,441.0L378.0,441.7L385.0,438.5L389.0,437.4L402.0,437.6L413.5,443.0L417.0,446.0L419.4,450.0L419.1,452.0L418.0,453.3L416.0,454.2L409.0,454.7L404.0,455.8L401.0,457.7L400.0,460.0L401.4,462.0L407.7,465.0L425.0,466.7L427.0,467.9L427.7,469.0L427.4,472.0L423.3,478.0L422.4,483.0L422.6,486.0L425.5,492.0L426.1,502.0L425.5,504.0L424.0,505.8L417.0,509.3L414.0,509.7L411.7,508.0L409.5,503.0L403.0,500.8L398.0,496.3L395.0,495.9L392.0,496.6L389.0,496.6L387.0,497.6L386.0,497.2L383.0,495.3L381.0,492.3L378.0,491.3L367.8,486.0L366.9,484.0L366.3,479.0L364.4,476.0L363.1,472.0L362.0,471.0L358.0,469.4L357.0,469.6L355.0,471.8L354.0,471.9L351.9,470.0L351.5,468.0L352.5,465.0L352.4,461.0L351.0,458.8L347.6,456.0L348.3,455.0L353.0,453.4L358.0,449.2L362.7,439.0L364.7,437.0ZM311.0,438.0L314.0,437.5L316.0,439.0L316.9,442.0L316.0,443.7L314.0,444.7L311.0,444.9L310.0,444.7L308.1,443.0L307.7,442.0L308.4,440.0ZM7.0,439.0L9.0,439.0L10.0,439.6L11.4,442.0L11.2,446.0L10.0,448.0L9.0,448.5L7.0,448.0L6.0,446.9L5.0,444.0L5.2,441.0ZM109.2,441.0L112.0,440.9L114.0,441.8L116.4,444.0L117.6,446.0L117.9,448.0L117.3,450.0L113.0,455.3L111.1,455.0L109.6,454.0L106.0,448.7L104.0,448.4L100.0,449.6L98.2,449.0L97.8,448.0L99.4,445.0L103.0,442.3L104.0,442.3L105.0,443.0ZM135.0,464.3L141.0,462.5L144.0,462.9L153.0,468.3L157.0,468.1L161.4,470.0L164.0,472.0L165.2,475.0L165.0,476.0L163.0,475.4L160.0,477.6L159.6,479.0L161.0,482.0L160.0,482.6L156.0,483.3L153.0,482.1L150.0,483.5L145.0,481.8L142.0,481.8L134.0,479.8L131.0,480.0L128.0,477.5L123.0,477.6L120.0,475.8L119.4,474.0L120.0,473.1L123.0,473.5L125.0,472.3L126.0,468.0L127.0,467.0L132.0,467.0ZM202.6,465.0L206.0,465.7L206.5,466.0L206.3,467.0L204.9,467.0ZM0.0,469.0L1.0,468.5L7.0,468.5L22.0,470.3L33.4,473.0L35.1,474.0L35.6,475.0L35.0,476.0L33.0,476.5L24.0,476.6L19.0,476.1L12.0,474.6L0.0,473.9ZM324.9,473.0L328.0,472.3L336.0,472.2L337.6,473.0L340.5,476.0L339.0,477.2L337.0,477.0L332.0,477.8L326.0,477.6L324.0,476.8L323.0,476.0L322.7,475.0ZM99.9,479.0L105.0,479.2L110.0,481.7L120.0,491.2L122.0,485.5L123.0,484.9L125.0,485.6L127.4,488.0L130.0,492.6L132.4,495.0L130.2,500.0L129.0,500.3L123.0,497.0L120.2,500.0L117.0,501.6L114.0,501.7L109.0,500.4L106.4,499.0L103.0,495.6L101.0,495.0L96.0,495.0L90.0,492.0L81.8,485.0L81.7,482.0L82.8,481.0ZM141.2,493.0L142.0,492.5L143.0,492.8L143.4,494.0L142.0,494.1ZM376.5,498.0L379.0,497.3L380.6,498.0L380.7,499.0L379.7,500.0L378.0,500.3L376.3,499.0ZM372.5,499.0L374.0,499.2L376.0,504.0L375.8,505.0L372.0,508.1L371.0,505.1L370.8,502.0L371.3,500.0ZM10.4,500.0L16.0,499.8L30.0,504.6L36.1,508.0L37.7,510.0L37.5,511.0L35.8,512.0L33.0,512.3L27.0,510.5L12.1,504.0L9.8,502.0L9.4,501.0ZM135.4,501.0L137.0,500.8L140.0,502.0L141.1,503.0L141.0,504.5L140.0,505.2L136.0,503.4L133.0,503.8L132.8,503.0ZM360.4,507.0L362.0,507.1L362.9,508.0L363.1,509.0L362.0,510.0L360.3,510.0L358.9,509.0L358.6,508.0ZM386.6,510.0L388.2,511.0L388.0,512.2L387.0,513.1L386.0,513.0L385.1,512.0L385.1,511.0ZM171.2,562.0L176.0,561.1L179.0,561.5L183.3,563.0L184.4,564.0L184.3,565.0L177.0,569.8L174.0,570.2L171.0,569.8L168.0,568.1L167.2,566.0L168.0,563.8ZM290.5,572.0L295.0,571.4L307.0,571.5L311.0,572.3L312.4,573.0L312.8,574.0L311.0,575.1L305.0,576.2L293.0,576.5L286.8,575.0L286.2,574.0ZM229.3,575.0L239.0,574.1L258.0,574.0L270.0,574.1L274.4,575.0L274.0,576.0L270.5,577.0L260.0,577.3L238.0,577.1L228.9,576.0Z" fill="#d7e8f1" fill-rule="evenodd"/>
<path d="M284.5,410.0L286.0,409.3L287.0,409.6L287.8,410.0L288.0,411.0L287.0,411.7L286.0,411.7L284.7,411.0ZM311.4,439.0L313.0,438.6L314.3,439.0L315.5,441.0L315.0,442.3L313.0,443.4L310.8,443.0L309.7,441.0ZM250.0,442.8L254.0,439.7L255.0,440.5L256.5,443.0L257.4,446.0L257.0,448.4L258.0,448.3L260.0,446.2L261.0,446.0L262.9,447.0L266.3,451.0L266.6,453.0L266.0,455.0L262.0,458.5L260.8,458.0L260.0,453.9L258.0,454.1L256.5,455.0L256.3,456.0L258.0,457.9L260.0,459.1L261.5,462.0L265.0,465.5L266.0,466.1L267.0,465.8L268.0,462.5L269.0,462.3L271.0,463.8L272.0,463.4L272.7,460.0L275.0,459.0L277.0,461.5L285.0,462.0L290.0,463.3L294.0,465.7L296.3,469.0L297.1,473.0L295.9,476.0L293.0,478.0L284.0,480.5L280.0,480.7L274.0,479.7L270.0,477.6L266.0,474.3L263.0,473.2L261.0,471.7L258.0,471.5L255.0,472.7L250.3,470.0L249.2,468.0L248.5,463.0L247.3,461.0L244.7,458.0L239.0,455.5L230.0,456.7L227.0,456.0L224.0,456.3L223.0,457.0L222.9,458.0L225.7,461.0L226.0,462.0L225.4,463.0L221.0,461.2L217.5,459.0L217.0,458.0L216.7,454.0L213.4,452.0L211.7,449.0L214.0,443.8L219.0,442.1L220.2,442.0L222.8,444.0L224.0,444.2L227.3,444.0L233.0,442.5L238.0,442.5L240.0,443.2L243.0,445.8L244.5,445.0L244.4,442.0L245.0,441.3ZM391.1,443.0L395.0,442.4L401.0,442.8L403.2,444.0L403.8,446.0L402.2,448.0L400.0,448.8L395.0,449.3L392.0,449.1L389.3,448.0L388.1,447.0L387.9,446.0L389.3,444.0ZM110.8,444.0L112.0,444.2L114.0,447.0L113.6,450.0L112.0,451.3L110.0,450.2L109.0,448.0L109.0,446.0ZM199.8,446.0L202.0,446.4L204.7,448.0L205.2,449.0L203.0,452.1L198.0,456.2L192.5,452.0L191.8,450.0L193.0,448.2L195.0,446.8ZM270.6,450.0L271.8,450.0L271.9,451.0L271.0,451.5L270.2,451.0ZM300.0,452.8L306.0,451.8L310.0,453.5L311.4,456.0L311.5,458.0L311.1,459.0L307.0,460.6L301.0,459.2L298.8,458.0L297.6,456.0L298.4,454.0ZM372.8,454.0L377.0,453.8L382.0,456.4L383.3,458.0L384.0,460.0L383.9,462.0L383.0,463.6L380.0,465.3L376.0,465.8L372.0,464.9L369.1,463.0L367.9,461.0L368.3,458.0L370.0,455.8ZM64.8,455.0L66.0,454.1L67.4,455.0L66.0,455.3ZM141.0,467.1L143.0,465.4L145.0,465.8L151.0,469.3L152.5,471.0L151.8,476.0L151.0,477.3L148.0,479.5L142.0,479.1L137.1,478.0L136.0,477.0L135.0,473.7L133.0,472.0L133.1,471.0L136.0,466.9L138.0,466.6ZM391.1,469.0L394.0,468.3L403.0,468.1L414.5,470.0L416.1,471.0L415.4,472.0L414.0,472.5L401.0,475.3L399.1,476.0L398.6,477.0L400.4,479.0L408.0,484.5L415.3,491.0L417.5,494.0L418.0,497.0L417.0,497.9L415.0,498.2L408.0,495.8L395.0,487.8L390.0,485.6L388.0,485.6L385.0,487.1L380.0,488.2L376.0,487.4L374.1,486.0L373.3,484.0L374.5,482.0L381.5,479.0L383.0,477.6L382.6,476.0L379.7,474.0L381.0,470.9L383.0,469.4L384.0,469.3L388.0,470.7ZM129.9,470.0L132.6,471.0L132.9,472.0L130.0,472.6L129.1,471.0Z" fill="#a7d0e4" fill-rule="evenodd"/>
<path d="M311.8,440.0L313.7,440.0L314.2,441.0L313.5,442.0L311.6,442.0L311.1,441.0ZM232.9,445.0L236.4,445.0L239.4,447.0L239.0,448.1L237.0,447.1L234.8,448.0L234.5,449.0L235.0,449.9L237.0,450.4L237.3,451.0L236.6,452.0L233.0,451.6L229.0,452.2L224.3,452.0L222.0,450.3L219.0,450.2L216.8,449.0L216.6,448.0L218.0,446.7L220.0,446.8L222.0,447.8L225.0,446.3ZM198.7,449.0L200.0,448.9L200.5,450.0L199.1,452.0L198.0,452.2L197.0,450.9L197.2,450.0ZM373.0,458.0L375.0,457.3L377.0,457.9L377.9,459.0L377.7,461.0L376.0,462.2L373.0,461.7L371.9,460.0ZM251.4,459.0L252.0,458.2L253.0,458.4L258.0,461.8L261.0,467.0L260.6,468.0L259.0,468.9L256.0,469.1L252.8,468.0L252.2,466.0L253.9,462.0ZM275.2,466.0L282.0,465.5L287.0,466.7L290.1,469.0L291.0,471.0L290.8,473.0L289.0,475.1L284.0,476.7L279.0,477.0L275.0,476.0L271.8,474.0L270.2,471.0L271.3,468.0ZM142.8,469.0L145.3,469.0L149.7,471.0L150.0,473.0L149.0,475.5L144.0,477.1L140.0,476.6L138.0,475.6L137.3,473.0L137.6,471.0L139.0,470.0ZM392.6,480.0L397.0,481.0L404.0,484.7L409.0,489.0L410.6,491.0L411.0,492.4L410.0,493.1L407.0,492.4L400.0,488.6L392.3,483.0L391.5,481.0Z" fill="#6bacd1" fill-rule="evenodd"/>
<path d="M275.3,469.0L278.0,468.2L282.0,468.5L284.7,470.0L285.0,472.0L284.0,473.1L281.4,474.0L277.0,473.8L274.3,472.0L274.3,470.0ZM141.8,471.0L144.0,471.1L145.3,473.0L144.4,474.0L143.0,474.5L140.4,474.0L139.9,473.0L140.3,472.0Z" fill="#3783bb" fill-rule="evenodd"/>
<path d="M53.9,363.0L55.2,362.0L73.9,362.0L78.0,365.5L81.0,366.4L83.0,366.0L87.1,362.0L179.6,362.0L181.0,363.3L183.0,363.7L185.0,363.1L186.2,362.0L348.7,362.0L353.0,364.1L360.0,363.5L365.0,364.9L374.0,364.8L380.0,366.8L382.5,363.0L383.8,362.0L395.8,362.0L395.8,369.0L396.9,371.0L399.8,374.0L400.4,376.0L399.4,379.0L394.7,383.0L393.2,385.0L390.4,393.0L384.0,397.0L379.2,402.0L374.0,405.0L372.0,405.6L367.0,405.1L364.0,407.0L362.0,407.6L360.9,409.0L360.5,412.0L354.0,419.1L352.0,418.3L350.5,417.0L350.3,415.0L348.4,412.0L348.5,411.0L350.9,409.0L350.3,408.0L346.0,406.8L340.0,407.7L339.0,407.2L337.4,405.0L333.0,402.1L329.0,401.8L326.3,404.0L323.0,404.7L315.0,401.4L311.0,402.6L310.0,404.6L309.0,404.7L305.0,403.0L303.0,402.7L299.4,405.0L297.0,405.7L295.1,405.0L293.0,403.0L289.0,403.6L283.0,400.4L280.7,401.0L279.0,403.3L278.4,403.0L278.8,401.0L278.4,400.0L276.0,399.0L273.0,400.4L270.0,400.1L268.8,401.0L269.0,403.2L268.3,404.0L267.0,404.0L264.3,403.0L264.0,401.0L263.0,400.2L262.0,399.9L260.0,400.5L257.0,399.0L256.0,399.2L254.0,402.1L252.0,402.9L250.0,404.8L248.0,404.4L244.0,402.0L241.0,403.7L238.0,402.0L237.8,400.0L237.0,398.5L236.0,397.9L233.0,397.9L232.2,397.0L231.8,394.0L231.0,392.5L229.0,392.1L226.0,392.8L222.0,391.8L219.0,393.3L218.1,390.0L214.0,385.1L211.0,384.0L204.0,384.7L198.0,386.2L189.0,387.7L180.0,385.5L179.0,383.9L178.0,383.6L177.2,384.0L176.0,385.3L172.9,393.0L173.9,394.0L177.0,394.4L179.0,395.4L179.5,396.0L179.5,398.0L177.9,401.0L175.0,404.5L171.0,407.3L168.0,408.4L165.0,408.1L164.1,407.0L164.0,404.0L165.8,397.0L163.6,393.0L160.0,390.8L155.0,391.7L154.1,393.0L153.8,396.0L153.0,398.1L152.0,397.8L149.5,395.0L149.2,394.0L150.2,393.0L150.0,392.3L149.0,392.2L148.0,392.2L146.0,393.7L142.4,395.0L142.0,398.5L140.9,398.0L141.0,396.7L141.8,396.0L141.6,395.0L139.0,393.8L131.0,396.1L129.2,398.0L128.0,398.3L126.0,396.6L123.0,396.6L121.0,394.6L114.0,394.8L110.0,396.2L108.0,395.7L103.0,390.3L99.0,388.5L97.8,389.0L98.9,391.0L98.0,393.5L97.0,394.0L92.0,393.3L87.0,390.1L86.0,387.9L82.0,386.3L80.5,388.0L77.6,389.0L75.0,391.3L72.0,392.3L70.3,392.0L70.0,390.0L69.0,389.0L65.0,388.2L64.2,389.0L64.3,390.0L66.0,393.0L64.5,395.0L62.0,395.8L60.4,395.0L60.5,388.0L59.9,386.0L58.4,384.0L56.0,382.5L51.0,381.5L44.0,382.0L36.0,379.3L30.0,380.5L26.0,380.1L22.0,380.4L15.1,377.0L13.0,374.1L10.5,372.0L11.0,370.3L12.6,369.0L19.5,367.0L24.0,363.8L27.0,364.1L33.0,367.6L38.0,368.7L47.0,364.5ZM171.0,371.1L170.6,372.0L171.0,372.9L172.1,372.0ZM48.6,395.0L55.0,395.3L56.5,396.0L56.8,397.0L53.0,399.3L50.0,399.3L47.0,398.3L45.7,397.0L46.2,396.0ZM114.8,399.0L117.0,398.7L118.0,399.1L119.0,400.1L119.6,402.0L119.0,402.8L118.0,403.0L113.6,403.0L112.4,401.0L112.8,400.0ZM228.3,400.0L231.0,399.9L231.7,402.0L230.0,403.1L226.5,402.0L226.7,401.0ZM42.0,405.1L55.0,402.1L56.7,403.0L57.0,405.0L56.4,407.0L54.0,409.8L47.0,412.7L41.0,417.5L37.0,419.4L30.0,420.4L27.2,420.0L26.0,419.0L26.4,417.0L27.8,415.0L36.0,408.0ZM234.2,403.0L237.0,402.9L237.1,404.0L236.0,405.0L235.0,404.8ZM265.0,422.0L267.8,423.0L269.3,425.0L267.0,425.5L262.0,424.7L261.3,424.0ZM313.4,422.0L315.0,421.6L316.8,422.0L317.8,423.0L317.8,424.0L317.0,424.8L315.0,425.1L313.2,424.0L312.7,423.0ZM285.8,425.0L286.6,425.0L286.7,426.0L286.0,427.1ZM299.1,425.0L301.0,424.4L304.0,427.2L307.0,427.3L308.9,428.0L310.0,430.0L309.2,432.0L307.0,432.9L301.0,432.1L299.6,431.0L298.8,429.0L298.5,426.0ZM159.6,426.0L161.7,426.0L162.5,427.0L162.3,428.0L161.0,429.4L155.0,431.9L153.0,431.7L152.4,431.0L152.7,430.0L154.9,428.0ZM322.8,435.0L325.0,434.1L327.0,434.7L327.7,436.0L327.4,438.0L325.0,439.6L323.0,439.1L321.9,437.0ZM328.6,456.0L330.0,455.3L332.0,456.0L334.7,460.0L335.3,462.0L335.1,463.0L332.0,465.7L329.0,465.3L327.2,463.0L326.9,459.0ZM16.4,457.0L25.0,456.9L37.0,457.9L45.0,459.3L46.9,460.0L47.2,461.0L45.6,462.0L43.0,462.6L36.0,462.5L21.0,463.6L9.0,462.3L4.2,461.0L3.1,460.0L4.4,459.0L8.0,458.0ZM149.2,457.0L155.0,456.8L161.0,457.8L166.4,460.0L167.3,462.0L166.0,463.8L157.0,463.3L151.0,462.3L147.0,460.8L145.3,459.0L146.2,458.0ZM128.4,459.0L131.0,458.4L133.2,460.0L133.0,462.0L131.0,464.4L129.0,464.2L127.8,463.0L127.4,461.0ZM415.9,459.0L422.0,459.0L424.6,460.0L422.2,461.0L418.0,461.3L415.0,461.0L413.1,460.0ZM81.8,460.0L95.0,459.2L103.0,460.3L105.0,461.0L105.7,462.0L104.8,463.0L101.0,464.1L90.0,464.7L79.9,464.0L76.0,463.0L74.7,462.0L76.3,461.0ZM341.5,461.0L345.0,460.6L346.2,461.0L347.0,462.0L346.0,463.3L343.0,463.8L340.5,463.0L340.2,462.0ZM166.2,465.0L167.0,464.3L168.0,464.4L175.0,466.0L174.4,467.0L169.0,467.2L166.3,466.0ZM246.5,506.0L248.0,505.1L249.0,506.0L249.0,507.3L248.0,508.2L247.0,507.9ZM134.6,509.0L136.0,508.1L137.0,508.7L138.2,512.0L138.2,514.0L136.9,519.0L138.6,521.0L138.0,522.3L136.4,522.0L135.8,520.0L134.0,517.0L133.6,512.0ZM149.8,512.0L152.0,511.4L153.0,515.3L151.0,515.9L149.2,515.0L148.8,513.0ZM157.2,517.0L160.0,514.2L161.0,514.6L161.7,516.0L161.4,518.0L159.0,518.7L157.2,518.0ZM351.5,545.0L355.0,544.0L355.7,545.0L354.6,547.0L351.0,550.2L348.0,551.8L346.0,551.6L345.5,550.0L346.0,549.0L348.1,547.0ZM77.1,554.0L85.0,553.4L88.4,554.0L90.2,555.0L87.9,556.0L83.0,556.6L78.0,556.2L75.2,555.0ZM351.6,566.0L356.0,565.2L357.8,566.0L358.3,567.0L357.0,569.1L353.0,571.4L350.0,571.7L347.9,571.0L347.3,570.0L348.0,568.2Z" fill="#f7b799" fill-rule="evenodd"/>
<path d="M156.3,368.0L158.0,367.2L159.0,367.5L161.6,369.0L163.0,371.0L162.0,371.7L157.0,370.7L155.9,369.0ZM339.0,371.0L342.0,371.0L346.2,373.0L348.8,376.0L350.0,379.0L351.0,379.6L354.0,378.9L357.0,379.5L361.0,378.5L367.0,379.5L371.0,381.4L375.0,381.9L377.6,383.0L379.3,385.0L379.1,387.0L374.0,391.4L373.0,391.7L370.0,390.7L368.4,391.0L358.0,398.1L351.0,397.6L348.0,398.9L344.0,398.1L340.0,399.4L338.0,399.0L335.1,396.0L334.0,395.7L327.0,398.6L318.0,397.8L314.0,398.0L313.0,396.5L310.0,397.6L308.0,399.6L307.0,399.9L304.0,398.0L298.0,399.7L295.0,398.5L292.0,399.2L290.6,397.0L290.0,394.0L289.0,393.4L288.0,393.5L286.0,396.4L281.0,397.4L279.0,396.9L275.0,394.3L271.2,393.0L270.0,389.9L268.2,390.0L265.0,391.6L264.0,391.0L263.9,390.0L265.0,387.8L268.8,386.0L269.5,385.0L269.3,384.0L267.2,381.0L268.0,379.1L271.0,376.6L275.0,375.7L280.0,373.3L284.0,374.5L291.0,373.4L291.8,375.0L291.0,376.6L290.0,377.2L288.0,376.9L287.0,377.9L289.0,380.6L289.3,380.0L291.0,379.4L296.0,378.7L297.1,378.0L300.0,372.6L302.0,372.7L303.2,374.0L302.2,377.0L303.0,379.0L305.0,380.3L308.0,380.9L307.6,382.0L308.0,383.2L313.0,384.2L313.5,383.0L313.0,382.0L308.4,380.0L310.0,377.0L309.8,376.0L308.4,375.0L308.0,374.0L309.0,373.3L321.0,371.5L334.0,373.6ZM274.0,377.3L273.2,379.0L273.4,380.0L274.0,380.8L275.0,380.8L275.6,379.0L275.0,377.5ZM178.9,372.0L180.0,371.6L181.0,372.0L180.0,373.4L178.6,373.0ZM113.2,374.0L117.0,373.8L120.2,375.0L120.5,376.0L117.3,378.0L117.0,379.0L117.3,381.0L118.0,382.0L119.0,382.2L123.0,381.6L123.6,381.0L123.2,379.0L123.5,377.0L127.0,375.3L132.0,375.1L138.0,376.6L142.0,375.6L143.0,375.8L144.0,377.0L144.6,380.0L148.0,382.0L146.9,386.0L146.0,387.1L145.0,387.4L143.0,386.5L142.0,386.7L136.0,389.4L132.0,390.6L120.0,390.2L117.3,388.0L117.7,385.0L117.0,382.9L112.0,381.5L109.7,379.0L110.0,376.9ZM97.7,379.0L100.0,378.5L102.0,378.9L106.3,382.0L107.0,384.0L105.0,385.2L103.0,385.6L100.0,383.3L98.0,383.3L96.1,381.0L96.3,380.0ZM171.9,382.0L173.0,381.9L173.0,383.6L172.0,385.0L171.0,385.1L170.1,384.0ZM254.8,385.0L257.0,381.2L258.0,381.1L261.3,385.0L258.2,390.0L257.0,391.0L256.0,390.0L256.7,388.0ZM109.6,383.0L112.0,383.5L115.4,387.0L114.2,388.0L113.0,388.1L110.7,387.0L108.2,384.0ZM244.5,387.0L249.0,385.8L250.0,386.4L251.1,388.0L251.0,389.5L250.0,389.6ZM265.7,394.0L267.0,393.7L268.0,394.4L268.0,396.8L267.0,397.8L264.6,397.0L264.5,396.0ZM324.5,436.0L325.5,436.0L326.1,437.0L325.0,438.0L323.8,437.0ZM329.2,457.0L331.2,457.0L333.3,460.0L333.0,462.8L331.0,464.2L329.0,463.7L327.9,462.0L327.8,459.0ZM149.8,458.0L155.0,458.1L158.3,459.0L159.6,460.0L159.2,461.0L157.0,461.4L151.4,461.0L148.5,460.0L148.0,459.2ZM11.7,459.0L17.0,458.2L24.0,458.1L30.2,459.0L32.3,460.0L30.9,461.0L28.0,461.6L19.0,462.0L12.0,461.2L9.9,460.0ZM86.1,461.0L93.0,460.6L95.3,461.0L96.7,462.0L94.0,463.2L88.0,463.3L85.9,463.0L84.4,462.0ZM129.2,462.0L130.0,460.3L131.0,460.3L131.5,461.0L131.0,462.7L129.9,463.0ZM135.5,510.0L136.3,510.0L137.1,512.0L137.0,514.0L136.0,515.6L135.0,514.5L134.7,513.0L134.8,511.0Z" fill="#e48066" fill-rule="evenodd"/>
<path d="M330.5,379.0L332.2,379.0L332.7,380.0L332.0,381.4L331.0,381.6L329.9,381.0L329.6,380.0ZM357.5,383.0L359.0,383.1L360.2,384.0L360.8,385.0L360.0,386.5L359.0,386.9L357.0,386.0L356.6,384.0ZM290.6,385.0L293.0,384.9L297.0,385.7L300.0,384.5L301.5,386.0L301.9,388.0L298.0,390.5L292.0,389.5L290.7,389.0L289.5,387.0L289.5,386.0ZM121.5,386.0L123.0,385.5L126.0,385.7L127.6,387.0L125.1,388.0L122.0,388.1L121.2,387.0ZM317.8,391.0L319.0,389.5L320.0,390.1L321.0,391.8L321.4,393.0L321.0,394.3L319.0,394.2L317.6,393.0ZM330.0,458.0L331.0,458.2L332.2,460.0L332.0,461.9L331.0,462.8L330.0,462.8L328.6,461.0L328.9,459.0ZM19.0,459.0L24.1,459.0L27.2,460.0L25.0,460.9L22.0,461.2L18.4,461.0L15.6,460.0Z" fill="#c94741" fill-rule="evenodd"/>
<path d="M64.8,385.5L70.5,382.4L75.5,381.0L78.5,380.1L83.9,379.0L87.0,379.6L89.6,380.1L93.6,380.4L94.6,380.9L97.2,381.6L99.6,381.0L103.7,380.5L106.9,379.9L108.8,380.5L109.9,381.0L112.5,381.0L115.3,381.6L115.1,382.8L117.5,383.0L120.3,382.8L120.1,383.9L123.4,382.2L126.2,383.0L129.9,382.8L132.1,382.2L133.5,381.0L136.7,378.8L137.9,379.4L136.5,381.0L137.4,382.2L138.7,382.8L141.7,381.0L142.8,380.7L145.3,380.8L144.7,382.2L143.1,383.9L140.7,384.8L138.7,385.1L137.0,386.3L134.4,387.4L132.4,387.7L129.0,389.8L125.9,392.3L124.8,393.9L125.3,396.0L127.8,396.0L130.7,397.7L133.8,398.3L132.9,401.1L132.9,403.0L134.5,403.0L136.1,401.8L136.8,399.2L139.8,397.3L141.6,394.8L140.8,393.5L142.7,391.1L143.3,389.2L146.9,389.5L149.0,390.7L149.6,392.3L148.9,393.8L151.0,394.4L153.1,392.9L154.6,391.8L155.2,394.8L155.6,397.3L157.8,399.2L159.1,401.1L158.4,403.0L155.7,403.7L153.8,404.7L149.7,404.7L146.2,405.6L142.8,407.9L145.9,406.6L148.6,406.3L147.9,408.3L146.8,410.2L148.3,410.2L151.4,408.9L152.1,410.2L148.4,412.0L144.7,413.5L145.3,411.6L144.1,411.8L141.6,412.9L139.6,414.2L139.2,415.5L139.5,416.1L137.2,416.6L134.8,417.4L133.7,419.1L132.3,420.2L131.1,422.2L130.5,424.6L128.5,426.0L126.5,427.2L123.8,428.9L122.8,431.0L123.2,434.3L123.3,437.0L122.5,438.1L121.5,437.3L120.6,434.6L120.9,432.7L119.7,431.6L117.9,432.0L116.4,431.1L114.1,431.2L113.2,432.7L111.5,432.6L108.8,432.0L106.9,432.7L104.2,434.3L103.3,437.0L102.3,439.7L101.9,442.0L102.2,444.4L103.3,446.4L104.9,447.5L107.9,447.0L109.2,446.2L110.1,443.7L112.5,443.1L114.2,443.3L113.3,445.8L112.5,447.4L111.7,449.8L111.3,450.7L114.5,450.6L116.8,451.1L117.6,451.8L117.1,454.5L116.8,457.2L117.9,459.2L119.7,460.2L121.5,459.2L123.2,459.5L124.0,460.6L124.4,460.6L125.6,459.2L126.9,457.5L128.1,456.9L130.6,455.9L131.2,455.3L131.1,457.2L132.9,456.5L134.6,457.5L137.5,457.7L139.9,457.9L142.3,457.6L143.4,459.2L144.5,460.6L146.2,462.6L148.0,463.9L150.3,463.9L152.7,464.6L154.4,465.9L155.6,469.3L156.2,471.3L155.6,472.7L157.9,473.3L159.7,472.9L162.7,474.7L164.5,475.4L166.9,475.9L169.3,476.7L171.1,478.3L173.7,479.1L174.1,481.4L174.1,484.1L172.4,486.1L171.3,488.1L169.6,490.2L169.8,493.5L169.3,496.2L168.9,498.9L167.9,501.6L165.7,502.9L163.4,503.9L161.2,505.2L159.6,507.0L159.7,509.7L158.5,512.4L157.2,515.1L155.9,517.5L154.5,518.8L152.2,518.8L150.3,517.7L152.0,520.4L152.0,523.1L150.6,524.2L147.3,524.5L147.5,526.5L144.7,527.1L146.4,529.1L145.6,531.1L144.4,533.1L144.3,534.4L146.4,535.7L146.0,537.7L144.7,539.7L145.4,541.6L146.3,542.1L144.4,542.6L144.2,543.9L141.9,542.9L139.8,541.6L137.9,539.0L136.6,536.4L135.9,534.4L136.8,532.4L136.9,529.8L135.7,527.8L134.6,525.1L134.3,522.4L134.5,519.8L134.8,517.1L134.3,513.7L134.0,511.0L133.9,507.0L133.9,502.9L133.6,498.9L133.2,496.8L131.7,495.3L129.3,493.9L126.7,491.9L125.7,490.6L124.4,488.1L123.1,485.5L122.0,482.8L120.7,480.7L119.1,479.4L119.2,477.8L120.2,476.4L120.5,475.4L119.3,474.7L119.9,472.7L120.5,471.3L121.7,470.0L122.3,468.6L123.5,467.0L123.6,464.6L123.7,462.6L122.8,461.9L122.6,460.6L121.4,460.2L120.4,461.0L120.1,462.2L119.0,461.6L117.5,460.8L116.4,460.3L115.2,458.8L114.1,457.9L114.2,456.9L112.9,455.2L112.4,454.2L110.6,454.0L108.9,453.3L107.0,452.5L105.1,450.5L104.0,450.3L102.1,450.9L99.9,450.1L98.2,449.1L96.1,447.8L94.3,446.7L92.9,445.8L92.5,444.4L93.0,443.1L92.5,441.1L91.1,439.0L89.7,437.4L89.4,436.1L88.6,435.0L87.8,433.7L87.1,432.0L87.1,430.3L86.2,429.5L85.3,429.4L84.8,431.4L85.5,433.4L86.3,435.0L86.9,437.0L87.6,439.0L88.5,440.8L87.6,441.1L86.4,439.3L86.0,437.3L84.9,435.9L84.0,434.7L84.7,433.4L83.7,432.0L83.4,430.3L83.1,428.3L82.4,426.3L80.3,425.6L79.9,422.9L80.0,421.2L79.4,419.5L79.7,417.7L81.1,415.5L82.0,413.5L84.3,410.2L85.5,407.2L87.4,406.9L88.0,406.0L86.8,404.7L85.0,403.7L85.9,401.8L85.5,399.8L86.0,398.6L85.9,397.0L86.0,394.8L84.2,394.2L83.7,393.2L82.4,392.5L79.8,392.3L77.9,391.4L75.5,391.9L73.4,392.5L70.8,393.2L73.1,391.1L69.6,392.9L66.9,394.2L63.3,395.7L59.6,397.3L56.0,398.3L53.0,398.8L51.5,399.1L55.0,397.9L57.6,397.3L61.2,395.8L64.0,394.2L62.8,393.9L60.1,393.9L61.5,392.5L60.2,391.7L60.7,390.5L61.5,389.5L63.7,388.6L66.5,388.0L69.0,387.2L67.8,386.8L65.8,386.8L65.2,386.3L64.8,385.5ZM160.0,371.8L164.9,370.5L168.4,369.2L172.7,368.3L180.2,367.9L187.7,367.2L194.7,367.2L200.0,367.9L202.6,368.8L207.0,368.8L203.0,370.1L201.2,371.5L201.1,373.5L199.6,375.0L199.3,376.6L196.5,377.7L196.9,379.9L195.0,381.0L192.1,382.2L188.5,382.8L185.4,384.5L182.0,385.4L179.5,386.3L178.0,388.0L176.0,389.8L174.9,392.0L173.3,392.4L172.2,391.4L170.0,391.1L169.3,389.2L168.6,387.4L168.4,385.7L168.3,383.9L169.1,382.2L171.8,381.0L169.7,379.9L169.7,378.3L169.3,376.1L169.1,374.5L166.9,373.8L162.8,374.0L160.8,373.5L160.9,372.5L160.0,371.8ZM194.0,385.7L196.0,384.6L199.5,384.8L202.2,384.7L203.4,386.3L202.0,387.1L198.6,388.2L196.4,387.7L194.9,387.4L195.7,386.6L194.0,385.7ZM150.4,376.4L152.9,377.4L156.0,378.8L157.7,380.1L157.7,381.6L160.8,383.9L160.6,385.1L157.8,386.3L157.6,387.4L155.5,389.0L153.2,388.0L150.1,388.6L149.2,387.1L145.1,387.1L145.2,386.3L149.1,385.7L150.6,383.9L152.0,382.4L149.9,381.6L148.1,380.5L143.0,380.5L140.5,379.4L141.9,377.2L146.3,376.4L150.4,376.4ZM115.6,380.5L118.2,382.2L123.7,382.0L127.4,381.6L128.9,380.5L127.2,379.1L129.0,377.4L127.0,377.0L122.8,377.7L118.6,377.4L116.6,378.8L115.6,380.5ZM111.0,378.3L112.0,379.1L115.1,378.7L119.7,377.2L121.4,376.1L118.9,375.6L115.4,375.8L111.0,378.3ZM146.8,373.5L152.8,373.7L155.1,373.0L158.8,371.5L163.9,370.1L168.8,368.8L171.7,367.9L166.4,367.5L159.4,367.5L153.0,368.1L149.1,368.9L150.6,370.1L150.5,371.5L146.8,373.5ZM140.5,373.5L144.1,374.5L150.5,374.5L151.3,375.4L144.7,375.6L141.8,375.3L140.5,373.5ZM135.8,388.0L138.7,389.2L141.7,387.4L139.5,385.3L136.6,386.8L135.8,388.0ZM122.2,374.8L126.9,375.6L131.6,375.0L131.2,374.0L127.3,374.0L123.8,373.7L122.2,374.8ZM143.6,371.5L147.1,371.8L150.8,370.5L149.7,369.6L145.4,370.1L143.6,371.5ZM132.2,378.3L135.6,378.3L139.1,377.2L138.5,376.1L133.9,376.6L132.2,378.3ZM153.5,408.0L156.6,409.2L159.7,409.3L160.4,408.0L160.1,405.9L158.3,405.0L158.4,403.0L156.5,404.3L154.1,406.9L153.5,408.0ZM116.7,442.4L119.2,441.1L122.1,440.9L124.9,442.0L127.6,444.0L129.0,444.8L128.0,445.2L125.1,445.2L125.8,444.2L123.6,442.9L120.2,441.9L117.8,442.7L116.7,442.4ZM128.5,447.1L130.3,445.2L133.8,445.4L135.4,447.1L133.0,447.5L131.6,448.2L130.7,447.5L128.5,447.1ZM123.9,447.4L126.2,447.6L125.4,448.1L123.9,447.4ZM136.9,447.2L138.7,447.4L138.3,447.9L136.9,447.8L136.9,447.2ZM83.9,404.1L86.6,405.0L86.9,406.9L85.5,406.7L83.7,405.0L83.9,404.1ZM82.5,399.8L83.1,400.5L82.4,402.0L81.9,401.1L82.5,399.8ZM66.4,395.0L67.6,395.4L65.7,396.2L65.2,395.7L66.4,395.0ZM33.5,444.8L34.5,445.5L33.6,446.4L33.3,445.6L33.5,444.8ZM153.3,541.0L156.4,540.8L155.7,541.9L153.6,541.6L153.3,541.0ZM146.2,542.5L147.0,543.3L149.3,544.8L150.7,545.1L147.8,545.8L145.0,545.2L143.0,544.2L144.9,543.8L145.0,542.9L146.2,542.5ZM237.3,379.4L239.3,379.6L242.0,380.3L244.0,381.0L246.6,381.4L250.6,382.8L251.9,384.1L249.5,384.8L245.3,384.3L246.8,386.3L248.9,387.4L250.1,386.8L251.9,386.7L251.9,385.3L253.4,384.6L254.8,384.8L253.9,382.2L255.8,382.8L259.2,382.5L261.6,382.0L265.2,382.2L267.5,381.6L267.4,380.7L270.7,381.3L273.6,381.8L275.3,382.4L273.7,380.5L271.8,378.8L272.4,377.2L275.0,377.4L276.8,379.4L278.5,382.8L280.7,384.1L281.2,382.8L278.8,380.5L277.3,377.7L279.8,378.3L282.3,377.7L281.0,376.6L285.6,376.3L285.2,375.0L288.4,374.2L292.5,373.7L295.4,372.3L299.0,373.3L303.2,373.5L305.8,374.5L304.9,376.1L307.7,376.4L312.1,376.6L316.7,376.4L320.8,377.7L324.5,379.4L326.4,379.6L327.2,378.8L330.5,378.8L331.6,377.7L336.0,377.9L341.4,378.8L344.8,379.4L349.1,379.5L352.8,380.8L355.4,380.8L359.5,380.7L361.3,380.5L363.0,381.6L364.6,380.7L368.9,381.3L371.2,381.6M378.0,386.1L377.7,386.8L376.4,386.6L380.6,388.6L381.9,389.2L379.6,389.2L378.0,390.1L377.4,391.1L377.5,392.3L373.7,391.9L372.1,392.5L372.8,394.2L372.6,395.0L375.8,397.0L376.4,398.6L377.0,401.1L376.6,402.4L376.1,403.7L373.0,401.1L370.2,398.6L367.8,396.0L368.1,394.5L368.2,392.9L368.7,391.7L368.3,390.2L367.3,389.4L365.3,390.5L362.2,390.2L363.7,393.2L361.3,393.5L357.7,392.9L352.3,393.2L351.4,395.2L351.5,397.9L350.5,398.9L353.0,400.1L357.0,400.7L358.9,402.0L360.6,405.0L362.0,407.2L361.5,409.8L361.0,412.9L359.1,414.5L357.2,414.9L356.6,416.2L357.1,417.5L355.5,418.6L357.4,420.2L359.4,422.2L360.2,424.2L358.9,425.3L357.4,425.6L356.8,423.6L356.1,421.6L353.9,420.9L353.1,418.9L351.8,418.2L349.5,419.7L348.5,417.1L346.5,419.3L345.4,419.9L347.7,421.8L349.4,421.2L351.7,421.8L350.4,422.9L349.2,424.6L350.9,426.0L352.5,428.3L354.3,430.3L354.3,431.6L355.1,432.3L355.0,433.9L353.9,436.3L353.2,438.1L351.9,440.0L350.4,441.2L348.2,442.0L345.5,443.1L344.1,443.3L344.0,444.7L343.1,443.1L341.4,442.9L340.1,444.4L339.4,446.4L340.5,448.5L342.5,450.5L344.0,452.5L344.6,455.2L343.9,456.9L342.2,458.0L340.6,459.9L339.7,460.3L339.6,458.5L338.0,457.7L336.7,455.9L334.8,454.9L333.9,453.8L333.7,455.2L333.2,457.2L333.0,459.2L334.5,461.2L335.4,462.9L337.0,463.7L338.3,465.7L338.6,468.4L339.5,470.1L338.5,470.1L336.0,468.2L334.9,465.9L334.6,463.9L333.0,461.6L332.1,460.8L332.2,457.9L332.0,455.2L330.6,452.1L330.3,450.1L328.9,449.8L327.6,450.7L326.4,450.2L326.3,447.8L324.8,445.4L323.2,443.7L322.3,441.9L320.9,442.1L319.2,442.7L316.9,443.1L316.6,444.8L314.9,445.8L312.9,448.3L312.1,449.8L309.9,451.1L310.2,453.8L309.9,456.5L310.0,458.1L309.1,459.5L308.2,460.0L307.4,461.1L306.2,459.9L305.5,457.5L304.1,455.2L303.3,452.5L301.9,449.8L301.1,447.1L300.5,444.4L300.0,443.1L298.2,444.0L296.1,442.0L297.1,441.1L295.1,440.4L293.5,439.0L292.5,437.8L289.6,438.1L286.7,438.2L283.2,437.7L281.6,437.0L280.9,435.7L278.6,436.2L276.6,435.4L274.7,434.5L273.1,432.0L271.5,431.2L270.4,431.6L270.5,432.7L271.7,434.7L273.2,436.1L273.6,437.6L274.5,437.0L275.3,438.4L275.0,439.3L278.2,439.6L280.3,437.7L280.6,436.6L281.1,439.0L283.5,440.2L285.1,441.7L284.2,444.4L283.1,446.4L281.8,447.8L280.1,449.1L277.3,450.1L273.3,452.8L269.3,454.5L266.9,454.9L266.3,453.2L265.8,451.1L265.5,449.4L263.6,446.7L261.3,443.7L260.7,441.1L258.8,438.8L257.7,437.0L255.8,434.3L255.4,432.4L254.9,434.6L254.0,433.9L252.8,431.8L252.3,430.0L254.5,429.9L255.2,427.9L255.8,425.6L255.8,423.6L255.9,422.5L254.0,422.6L251.9,423.4L249.7,422.5L247.9,423.2L246.2,422.5L244.8,420.2L245.0,418.9L244.3,417.9L245.7,417.7L247.3,417.5L247.4,416.6L249.9,416.6L251.9,415.5L253.8,415.5L255.9,416.6L258.7,416.9L260.7,416.2L260.4,414.6L258.3,413.4L256.2,412.2L255.3,411.2L256.4,410.2L256.8,408.7L255.1,408.9L252.8,409.8L254.4,411.2L253.2,411.6L251.4,412.2L250.1,411.0L251.1,410.2L249.2,409.6L247.6,410.5L247.1,411.6L246.3,413.1L245.7,414.9L246.3,416.2L247.2,416.6L245.6,416.9L244.8,417.5L244.0,417.3L241.8,417.1L241.7,418.2L240.5,417.8L240.7,419.1L242.1,420.6L241.3,421.2L241.2,422.9L240.1,422.5L239.2,421.3L238.7,419.5L236.9,417.8L236.7,415.8L235.6,414.9L232.8,413.5L231.6,412.2L230.3,411.6L230.0,410.6L228.7,411.2L228.9,412.6L230.3,413.5L231.1,415.1L233.0,415.8L235.8,417.9L235.8,418.5L234.2,417.5L233.8,418.6L234.4,419.5L233.8,420.5L233.0,421.0L233.2,419.8L232.8,418.2L231.4,417.3L229.2,416.2L227.5,414.9L226.7,413.5L225.0,412.3L223.6,413.1L222.1,414.1L220.4,413.7L219.0,414.2L219.1,415.5L217.8,416.5L216.4,417.3L215.3,418.9L215.8,419.8L214.8,421.3L213.4,422.5L210.6,422.6L209.6,423.4L208.6,422.6L207.5,422.0L205.7,422.2L205.9,420.2L205.1,419.8L206.0,417.5L206.1,415.5L205.7,413.9L207.0,413.3L209.7,413.4L211.8,413.5L213.7,413.7L214.3,412.1L214.4,410.2L213.3,408.7L211.0,407.9L210.7,406.9L212.5,406.6L213.9,406.7L213.7,405.4L214.6,405.8L215.8,405.4L217.2,404.0L219.2,403.2L220.2,401.8L220.6,400.7L222.6,400.5L224.1,399.8L224.1,397.9L223.6,396.0L225.8,395.2L225.7,396.7L226.3,397.9L225.3,398.8L226.6,399.8L228.1,399.3L229.8,399.8L232.0,399.2L234.1,398.9L235.3,399.2L236.4,397.9L236.2,396.0L237.5,395.2L239.3,395.8L239.1,394.4L238.1,393.3L240.4,392.8L242.3,392.8L244.3,392.4L242.5,391.6L240.2,391.8L237.5,392.4L235.7,391.3L235.5,389.2L236.2,387.8L238.2,386.3L238.3,385.5L235.6,385.3L234.9,386.8L233.1,388.4L231.8,390.5L231.8,391.4L233.4,392.3L232.7,393.8L231.6,395.4L231.3,397.0L229.7,397.3L229.6,398.0L228.4,398.0L227.9,396.9L226.5,394.2L225.8,393.2L224.7,393.8L223.3,394.7L221.9,394.7L220.9,393.5L220.3,391.1L220.4,389.8L222.1,388.6L223.8,387.8L225.6,386.6L226.8,385.1L228.3,383.3L229.5,382.0L231.5,380.8L233.9,380.3L235.5,379.6L237.3,379.4M60.0,381.6L61.4,382.4L62.7,383.9L64.0,384.8L62.0,385.7L58.2,387.1L56.3,386.5L55.7,385.7L53.2,386.1M265.8,412.2L265.5,410.9L267.3,409.6L269.9,409.2L271.6,409.6L272.0,411.2L270.3,411.6L270.2,412.5L269.4,412.2L271.1,414.2L272.4,414.9L272.9,416.2L274.3,417.1L273.8,418.9L275.1,420.9L275.6,422.2L273.5,422.6L271.4,421.8L269.8,420.6L269.8,418.9L270.5,417.7L268.9,416.2L267.2,414.6L266.4,413.5L265.8,412.2ZM252.3,430.0L250.2,429.8L248.6,430.4L244.0,429.5L241.6,428.1L239.9,427.9L238.3,428.9L238.4,430.6L237.3,431.2L235.5,430.6L233.2,429.6L232.8,428.4L230.3,427.7L228.2,427.3L227.1,426.3L227.7,424.2L227.5,422.5L226.7,421.8L225.0,422.2L222.8,422.2L219.5,422.4L216.7,422.9L214.5,424.0L212.8,424.6L210.6,424.6L209.6,423.7L208.9,424.0L207.9,426.3L206.0,427.2L204.8,428.9L204.4,431.0L204.2,432.3L202.4,434.1L200.7,434.7L198.9,436.8L197.3,439.7L195.8,442.7L196.0,443.7L196.7,445.8L196.2,449.1L196.1,450.5L195.0,452.2L195.8,454.5L195.8,455.5L197.3,456.9L198.4,458.1L199.9,459.6L200.2,461.2L202.0,462.7L204.3,464.6L206.5,466.1L209.7,465.0L212.6,465.3L214.4,464.9L216.8,463.9L218.8,463.4L220.9,463.5L222.1,465.3L223.6,466.2L225.7,465.9L226.9,466.9L227.2,468.6L226.8,470.7L226.3,472.9L227.2,475.4L228.7,477.4L229.8,479.1L230.2,480.1L231.0,482.8L231.8,486.1L231.5,488.5L230.1,490.8L229.5,493.5L229.4,496.2L230.8,499.6L232.5,502.3L232.4,505.0L232.9,507.9L234.3,510.3L235.2,513.0L236.3,515.7L236.3,517.7L237.8,518.8L240.3,518.0L243.7,517.7L246.0,517.5L247.8,516.1L250.3,513.4L252.0,511.0L253.4,508.3L253.5,506.7L255.5,505.4L256.8,503.6L256.7,500.9L256.3,498.6L258.3,496.9L260.2,495.1L262.6,493.5L263.5,491.5L263.4,488.8L263.4,486.1L262.4,483.4L262.2,481.1L261.6,480.1L262.1,478.3L263.4,475.6L264.9,474.3L266.7,471.6L268.7,469.7L270.8,468.0L272.6,465.9L274.3,462.6L275.4,459.2L276.1,456.1L273.5,456.8L270.6,457.5L268.2,458.0L266.8,456.5L266.6,455.2L264.5,453.2L262.7,451.4L261.8,450.1L260.7,447.8L259.2,445.8L259.0,443.7L258.0,441.7L256.8,439.7L255.4,437.0L254.1,434.6L252.8,431.8L252.3,430.0ZM273.8,488.1L274.8,492.9L273.9,494.9L272.9,497.6L271.5,501.6L270.2,505.4L268.2,506.3L266.5,505.6L266.1,502.3L267.3,498.9L267.2,495.5L268.5,493.5L270.9,492.2L272.2,490.2L273.8,488.1ZM209.7,404.9L212.0,404.6L214.6,404.1L216.9,403.4L217.3,401.5L215.8,401.1L215.6,400.2L214.4,399.1L213.9,397.7L213.1,397.0L213.7,395.4L211.7,395.2L212.5,394.0L210.8,394.0L209.8,395.4L210.2,397.3L210.8,398.2L210.7,398.9L212.3,398.8L212.6,400.5L211.1,400.9L211.2,402.0L210.3,402.7L212.0,403.2L211.2,403.7L209.7,404.9ZM209.3,402.1L209.6,400.5L210.0,399.1L209.2,398.3L207.5,398.3L205.6,399.6L205.7,400.7L205.1,402.4L205.9,403.0L208.0,402.4L209.3,402.1ZM223.9,371.5L226.5,373.0L228.9,373.4L230.1,372.0L232.3,371.8L231.2,370.5L235.5,370.1L232.5,369.7L228.2,370.1L226.0,370.3L223.8,370.8L223.9,371.5ZM258.8,378.8L259.3,377.4L259.9,375.6L260.9,374.5L264.3,373.7L266.8,373.0L269.3,373.2L267.9,374.3L264.0,375.6L263.3,377.2L263.0,378.8L264.3,379.7L261.3,379.7L258.8,378.8ZM287.0,371.0L289.8,370.4L295.1,371.5L292.0,372.0L287.0,371.0ZM324.4,374.5L330.4,374.3L335.7,375.0L330.4,375.3L324.4,374.5ZM252.3,369.8L256.8,369.9L260.6,369.2L255.4,369.0L252.3,369.8ZM357.4,399.4L359.9,401.1L362.4,403.7L365.2,406.3L366.1,408.9L366.0,410.2L364.1,407.6L361.9,405.0L359.8,402.4L357.4,399.4ZM368.1,416.2L368.1,414.2L366.3,411.0L369.1,412.5L372.0,413.5L370.9,414.3L370.6,415.5L368.2,415.1L368.1,416.2ZM369.4,416.5L371.6,418.9L371.6,420.9L373.0,423.6L372.5,424.9L371.4,425.3L369.4,425.4L368.7,426.9L367.2,425.6L365.1,426.0L363.0,426.3L362.6,425.3L363.8,424.2L366.5,424.0L367.8,422.5L367.8,421.6L369.4,422.0L369.7,419.8L369.0,418.2L368.4,416.6L369.4,416.5ZM362.2,426.9L364.0,426.7L364.9,428.9L364.3,430.3L363.2,428.9L362.1,427.6L362.2,426.9ZM364.7,426.3L366.8,426.0L367.0,427.2L365.9,427.9L364.9,427.2L364.7,426.3ZM356.1,438.1L356.6,439.0L356.3,442.4L355.1,441.1L355.4,438.8L356.1,438.1ZM342.7,446.2L344.6,445.1L345.3,445.8L344.4,447.2L343.0,447.1L342.7,446.2ZM310.3,458.8L311.8,460.6L312.6,462.6L311.7,463.7L310.8,463.9L310.1,461.9L310.1,460.2L310.3,458.8ZM356.7,447.1L358.7,447.1L359.2,449.8L358.6,451.8L359.4,453.2L361.8,453.8L362.0,454.9L360.1,453.8L358.3,453.6L357.1,452.1L356.6,450.5L356.7,447.1ZM360.3,462.6L361.9,460.6L364.1,458.8L365.5,461.2L365.3,463.5L364.4,464.5L362.7,463.3L362.0,461.9L360.3,462.6ZM362.3,455.2L363.8,455.9L364.1,458.1L363.3,458.3L362.5,456.5L362.3,455.2ZM359.7,456.1L361.2,456.5L361.6,459.5L360.5,458.8L359.9,457.7L359.7,456.1ZM354.5,460.7L357.0,457.9L356.6,456.9L355.3,459.2L354.5,460.7ZM345.2,470.0L345.9,469.3L347.9,468.6L349.8,467.6L351.6,465.7L353.2,463.3L354.4,462.6L355.3,463.7L356.9,465.0L355.7,466.2L355.4,468.0L355.9,470.4L355.3,471.6L354.1,474.0L353.4,476.7L351.6,477.4L349.8,476.3L348.1,476.4L346.5,475.8L346.3,474.0L345.4,472.7L345.2,470.0ZM328.7,464.5L331.3,465.0L333.2,467.0L335.0,468.9L336.8,470.3L338.6,472.0L339.8,474.3L341.5,476.0L341.3,479.8L339.6,479.8L337.3,477.8L335.6,475.4L333.9,472.4L332.7,469.7L330.8,468.0L329.0,465.5L328.7,464.5ZM340.4,481.1L342.0,480.1L344.3,480.9L347.0,480.7L349.3,481.4L351.3,482.5L351.2,483.7L348.3,483.2L344.8,482.5L341.9,482.0L340.4,481.1ZM358.2,470.4L360.0,470.7L362.4,470.8L364.2,469.8L363.6,471.5L361.8,471.5L359.4,471.5L358.5,473.1L359.7,473.6L362.1,473.1L361.2,474.4L360.4,474.7L361.1,476.7L361.7,478.1L361.0,479.1L360.0,478.3L359.4,476.0L358.6,476.3L358.5,479.4L357.4,479.3L357.6,476.7L356.8,475.6L357.4,473.7L358.0,471.7L358.2,470.4ZM353.9,483.3L356.6,483.2L358.4,483.2L361.4,483.2L361.1,483.8L357.7,484.0L354.2,484.1L353.9,483.3ZM361.7,485.9L363.6,484.1L366.3,483.3L364.8,484.5L362.3,485.9L361.7,485.9ZM367.1,469.3L368.3,470.0L367.8,472.0L367.5,470.7L367.1,469.3ZM367.7,476.0L371.0,476.4L369.4,476.7L367.7,476.0ZM371.3,473.1L373.1,472.5L374.9,473.1L375.1,475.4L376.0,476.4L377.8,475.0L379.6,474.3L383.1,475.5L385.5,476.6L387.2,477.2L388.7,479.1L390.6,480.1L390.9,481.4L389.9,481.4L391.0,482.8L392.1,484.1L393.7,485.9L392.7,486.1L390.7,485.7L389.1,484.1L387.5,482.5L385.7,483.0L384.9,484.4L383.2,484.4L381.5,483.0L379.7,483.2L379.0,482.1L380.2,481.4L379.4,479.4L377.1,478.1L374.8,477.1L373.3,477.4L372.4,475.8L374.2,475.1L372.5,474.7L371.3,473.1ZM391.9,479.5L394.2,479.4L396.1,477.7L396.4,478.7L394.8,480.1L392.4,480.3L391.9,479.5ZM394.8,475.5L396.7,477.1L397.3,478.3L396.1,477.1L394.8,475.5ZM399.5,480.1L400.6,481.4L400.0,481.1L399.5,480.1ZM401.7,482.1L404.6,483.2L403.4,483.2L401.7,482.1ZM405.0,484.6L406.3,485.7L405.3,485.5L405.0,484.6ZM407.1,498.9L409.8,502.0L408.8,501.6L407.1,498.9ZM423.5,495.5L425.0,495.7L424.3,496.5L423.3,496.2L423.5,495.5ZM411.7,492.2L412.3,493.3L412.0,493.1L411.7,492.2ZM347.7,501.6L348.3,501.3L350.9,500.0L353.9,499.3L357.0,498.4L358.9,496.2L359.0,494.9L360.5,495.3L360.9,493.8L362.6,492.9L364.1,490.8L365.8,491.1L366.5,492.2L368.0,492.2L368.7,490.2L369.7,488.8L370.3,488.4L372.1,488.3L372.2,487.2L375.0,488.4L377.2,488.4L376.0,490.2L375.1,492.2L376.7,493.3L378.8,494.6L380.3,495.7L381.7,493.5L382.6,490.8L382.8,488.8L384.1,486.5L385.0,489.2L384.7,491.2L386.6,492.2L386.5,494.2L386.7,497.3L388.0,498.2L389.2,499.6L389.6,501.6L390.8,502.9L391.2,504.6L392.4,506.3L392.1,509.0L391.3,511.0L389.7,513.7L387.8,516.0L385.8,517.7L383.8,520.0L382.1,522.2L380.0,522.8L376.9,524.5L375.8,523.5L373.8,524.2L371.9,523.5L370.8,522.4L371.3,520.4L370.2,519.8L371.2,517.1L371.4,516.0L369.8,517.7L368.0,519.1L367.6,518.7L367.5,516.4L365.8,515.1L364.4,514.4L362.0,514.6L358.9,515.5L356.2,516.4L354.6,517.6L352.4,517.6L349.9,518.1L347.9,519.1L345.6,519.1L344.8,518.1L346.1,516.4L347.0,514.4L346.9,512.4L346.9,510.3L346.4,507.7L346.9,505.6L347.5,503.6L347.7,501.6ZM373.5,526.9L375.2,527.3L377.3,527.0L376.1,528.7L374.2,530.5L372.5,530.6L372.7,529.1L373.5,526.9ZM409.5,518.4L410.5,519.8L410.8,521.5L410.7,522.6L412.9,522.6L412.4,523.8L410.0,525.1L408.8,526.5L406.1,527.9L405.8,527.5L407.1,526.1L406.7,524.9L408.3,523.8L409.5,522.2L409.6,520.8L409.5,518.4ZM404.3,526.5L405.0,527.8L402.9,529.5L401.1,530.7L398.9,531.5L396.7,533.5L394.4,534.6L393.0,534.4L391.9,533.8L394.3,532.2L396.2,531.1L399.4,529.8L401.7,528.2L404.3,526.5ZM287.1,537.7L288.8,537.8L288.0,538.6L286.8,538.4L287.1,537.7ZM224.5,416.9L226.2,416.9L226.2,419.3L225.0,419.5L224.5,416.9ZM224.9,414.9L225.8,414.2L225.8,416.2L225.2,416.1L224.9,414.9ZM229.4,420.9L232.8,420.6L232.5,422.6L230.0,421.8L229.4,420.9ZM242.0,424.2L244.9,424.6L243.1,424.9L242.0,424.2ZM251.8,424.9L254.2,424.1L253.5,425.2L251.8,424.9ZM92.6,577.7L99.0,577.6L106.4,577.8L113.6,577.9L118.3,577.9L117.5,577.6L112.4,577.4L109.0,577.0L107.2,576.1L103.9,575.2L106.8,575.1L107.9,574.2L104.1,573.4L98.8,573.0L94.9,572.0L92.7,571.0L97.4,571.3L100.4,570.8L100.5,570.0L100.1,569.3L103.7,569.1L106.5,568.2L110.8,568.4L114.8,568.4L118.9,568.4L120.6,567.9L123.2,567.7L125.6,568.6L129.2,569.0L132.4,569.0L135.5,569.3L134.6,568.4L131.6,567.6L130.0,566.4L133.1,566.6L135.9,567.4L139.3,567.0L141.8,566.4L144.9,566.9L149.3,567.7L149.6,566.9L153.4,567.8L156.6,567.1L159.5,566.6L159.7,565.7L157.5,564.0L156.7,562.7L156.8,561.5L155.9,560.4L156.7,559.2L157.7,558.0L159.4,557.3L161.4,556.2L162.5,555.7L163.1,556.0L162.2,556.8L161.1,557.0L160.5,557.7L159.7,558.8L160.3,559.2L158.9,559.5L158.0,560.7L158.8,561.7L160.7,562.4L162.5,563.7L163.7,564.6L164.7,565.7L165.8,567.0L165.8,568.0L164.6,568.5L163.3,569.6L160.9,570.6L155.4,570.7L158.6,571.5L156.4,572.4L157.2,573.2L159.5,573.9L163.9,574.6L168.3,575.2L173.0,576.0L174.8,576.6L176.6,576.1L179.7,575.4L183.3,575.5L185.1,575.7L186.0,575.2L189.5,574.9L193.7,574.5L194.7,574.2L193.4,573.3L189.1,573.5L188.4,572.3L191.0,571.6L193.0,570.7L195.6,570.3L198.3,570.0L201.6,569.1L203.0,567.9L202.5,567.3L204.9,566.5L206.4,565.2L208.5,565.3L209.7,564.5L212.2,565.0L214.3,564.9L216.5,564.0L219.0,564.1L221.6,563.7L224.1,564.1L226.7,563.5L229.2,563.7L231.9,563.4L235.1,564.1L238.6,563.6L241.4,562.7L244.2,562.2L245.8,562.6L248.1,563.3L250.1,562.5L252.3,561.2L256.0,560.8L258.4,560.2L260.3,560.0L262.1,558.9L264.8,558.9L266.1,559.9L267.6,560.4L269.9,561.0L272.5,561.1L275.1,561.1L275.7,562.3L275.3,563.3L273.3,563.9L273.3,564.9L273.0,566.0L274.8,565.7L276.8,564.6L278.5,563.4L281.1,562.7L283.3,562.0L285.6,561.1L287.8,560.6L290.7,560.2L293.6,559.2L295.2,560.1L298.0,559.9L299.3,560.4L302.0,560.3L304.1,560.0L307.1,558.5L308.7,559.7L311.2,560.0L313.7,559.6L316.7,558.8L317.7,559.6L319.7,560.3L322.8,559.9L325.7,559.6L328.5,559.5L331.4,559.3L334.2,559.2L337.1,558.1L336.7,559.7L339.6,559.9L342.2,560.0L343.4,560.8L344.6,561.6L346.6,562.0L349.3,561.9L350.0,562.7L352.1,563.1L352.8,564.1L354.4,564.4L356.9,564.4L358.4,565.1L358.2,565.7L355.1,567.0L351.6,567.9L348.4,568.7L345.5,569.5L342.5,570.8L340.8,572.2L341.1,572.8L336.3,573.5L332.8,574.4L332.0,575.1L331.6,576.0L332.6,576.5L332.8,577.1L334.3,577.3L336.2,577.4L337.7,577.6L338.6,577.7" fill="none" stroke="#000" stroke-width="2.1" stroke-linejoin="round" stroke-linecap="round"/>
</g>
<path d="M329.5,580.5L334.4,579.1L340.2,577.1L346.7,574.7L353.5,571.8L360.2,568.7L366.2,565.4L371.8,562L377.2,558.4L382.3,554.8L387.3,551.1L392.1,547.3L396.7,543.4L400.9,539.5L404.7,535.5L408.3,531.4L411.6,527.4L414.6,523.3L417.3,519.2L419.6,515.1L421.7,511L423.4,506.9L424.7,502.8L425.9,498.7L426.9,494.6L427.8,490.5L428.5,486.4L429,482.3L429.3,478.2L429.5,474.1L429.5,469.9L429.3,465.8L429,461.7L428.5,457.6L427.8,453.5L426.9,449.4L425.9,445.3L424.7,441.2L423.4,437.1L421.7,433L419.6,428.9L417.3,424.8L414.6,420.7L411.6,416.6L408.3,412.6L404.7,408.5L400.9,404.5L396.7,400.6L392.1,396.7L387.3,392.9L382.3,389.2L377.2,385.6L371.8,382L366.2,378.6L360.2,375.3L353.5,372.2L346.7,369.3L340.2,366.9L334.4,364.9L329.5,363.5L101.7,363.5L96.8,364.9L91,366.9L84.5,369.3L77.7,372.2L71,375.3L65,378.6L59.4,382L54,385.6L48.9,389.2L43.9,392.9L39.1,396.7L34.5,400.6L30.3,404.5L26.5,408.5L22.9,412.6L19.6,416.6L16.6,420.7L13.9,424.8L11.6,428.9L9.5,433L7.8,437.1L6.5,441.2L5.3,445.3L4.3,449.4L3.4,453.5L2.7,457.6L2.2,461.7L1.9,465.8L1.7,469.9L1.7,474.1L1.9,478.2L2.2,482.3L2.7,486.4L3.4,490.5L4.3,494.6L5.3,498.7L6.5,502.8L7.8,506.9L9.5,511L11.6,515.1L13.9,519.2L16.6,523.3L19.6,527.4L22.9,531.4L26.5,535.5L30.3,539.5L34.5,543.4L39.1,547.3L43.9,551.1L48.9,554.8L54,558.4L59.4,562L65,565.4L71,568.7L77.7,571.8L84.5,574.7L91,577.1L96.8,579.1L101.7,580.5Z" fill="none" stroke="#c8c8cc" stroke-width="1.4"/>
<g clip-path="url(#c3)">
<path d="M800.5,580.5L805.4,579.1L811.2,577.1L817.7,574.7L824.5,571.8L831.2,568.7L837.2,565.4L842.8,562L848.2,558.4L853.3,554.8L858.3,551.1L863.1,547.3L867.7,543.4L871.9,539.5L875.7,535.5L879.3,531.4L882.6,527.4L885.6,523.3L888.3,519.2L890.6,515.1L892.7,511L894.4,506.9L895.7,502.8L896.9,498.7L897.9,494.6L898.8,490.5L899.5,486.4L900,482.3L900.3,478.2L900.5,474.1L900.5,469.9L900.3,465.8L900,461.7L899.5,457.6L898.8,453.5L897.9,449.4L896.9,445.3L895.7,441.2L894.4,437.1L892.7,433L890.6,428.9L888.3,424.8L885.6,420.7L882.6,416.6L879.3,412.6L875.7,408.5L871.9,404.5L867.7,400.6L863.1,396.7L858.3,392.9L853.3,389.2L848.2,385.6L842.8,382L837.2,378.6L831.2,375.3L824.5,372.2L817.7,369.3L811.2,366.9L805.4,364.9L800.5,363.5L572.7,363.5L567.8,364.9L562,366.9L555.5,369.3L548.7,372.2L542,375.3L536,378.6L530.4,382L525,385.6L519.9,389.2L514.9,392.9L510.1,396.7L505.5,400.6L501.3,404.5L497.5,408.5L493.9,412.6L490.6,416.6L487.6,420.7L484.9,424.8L482.6,428.9L480.5,433L478.8,437.1L477.5,441.2L476.3,445.3L475.3,449.4L474.4,453.5L473.7,457.6L473.2,461.7L472.9,465.8L472.7,469.9L472.7,474.1L472.9,478.2L473.2,482.3L473.7,486.4L474.4,490.5L475.3,494.6L476.3,498.7L477.5,502.8L478.8,506.9L480.5,511L482.6,515.1L484.9,519.2L487.6,523.3L490.6,527.4L493.9,531.4L497.5,535.5L501.3,539.5L505.5,543.4L510.1,547.3L514.9,551.1L519.9,554.8L525,558.4L530.4,562L536,565.4L542,568.7L548.7,571.8L555.5,574.7L562,577.1L567.8,579.1L572.7,580.5Z" fill="#fcdfcf"/>
<path d="M656.0,370.4L658.0,368.3L660.0,368.5L661.2,370.0L661.1,371.0L660.0,372.0L659.1,375.0L658.0,376.8L656.0,379.1L655.0,379.2L654.3,377.0L651.8,375.0L651.5,374.0L652.0,373.0ZM620.0,370.0L621.0,369.6L622.0,370.0L622.6,371.0L622.0,372.6L621.0,372.9L619.1,372.0ZM633.5,370.0L636.0,370.3L637.3,371.0L637.4,372.0L636.0,372.4L634.0,372.2L632.9,371.0ZM580.8,383.0L584.0,382.3L585.6,383.0L583.8,386.0L583.1,389.0L582.0,390.9L581.0,391.3L579.0,389.4L575.6,388.0L574.8,387.0L576.0,385.6ZM540.9,387.0L541.9,387.0L541.1,390.0L538.0,392.6L537.0,392.7L535.9,391.0L536.2,390.0ZM565.4,390.0L567.0,389.5L566.9,392.0L565.3,393.0L564.0,392.9L563.5,392.0ZM743.0,391.0L744.0,390.4L745.3,391.0L745.4,393.0L747.0,395.8L746.0,398.3L745.0,399.2L744.0,399.1L742.0,397.3L740.5,397.0L743.3,395.0L743.6,393.0ZM612.9,396.0L614.0,393.6L615.0,393.8L615.7,395.0L615.2,397.0L614.0,397.8L613.1,397.0ZM809.7,396.0L811.0,396.2L811.3,397.0L811.0,398.2L810.0,398.6L808.1,397.0ZM841.9,396.0L843.0,395.7L844.4,397.0L845.0,399.0L844.7,400.0L844.0,400.3L843.0,399.3ZM570.0,397.2L578.0,396.8L579.4,398.0L579.0,405.0L581.0,409.0L578.8,413.0L579.0,415.2L578.0,415.6L575.0,414.8L572.0,417.3L571.0,417.5L568.0,416.7L566.0,417.5L564.0,417.5L561.0,418.9L558.0,419.1L557.0,418.6L556.7,417.0L558.0,415.5L560.0,415.1L563.0,415.5L563.2,415.0L561.3,410.0L561.3,406.0L559.7,403.0L560.0,402.0L563.0,402.7L565.7,402.0ZM731.9,399.0L734.0,398.6L735.2,399.0L735.6,400.0L735.0,400.6L733.0,400.7L732.0,400.2ZM586.8,401.0L589.0,399.7L590.0,400.8L589.9,402.0L589.0,402.7L588.0,402.9L586.6,402.0ZM680.3,400.0L682.0,399.4L682.2,400.0L681.0,405.0L679.0,406.7L674.0,415.5L667.1,424.0L662.5,428.0L661.5,430.0L661.7,431.0L664.0,432.5L667.0,432.8L675.0,431.2L676.0,432.0L677.0,434.1L680.0,434.1L680.6,433.0L678.6,430.0L679.0,428.0L678.1,426.0L678.6,425.0L680.0,424.6L682.0,422.8L682.7,424.0L681.9,428.0L682.4,430.0L684.0,431.7L688.0,433.9L692.0,434.1L693.8,435.0L694.3,436.0L694.1,439.0L696.0,440.1L699.0,439.3L699.6,438.0L699.4,436.0L696.2,434.0L696.1,431.0L697.0,429.0L698.0,428.9L700.0,430.6L701.0,430.8L702.0,430.3L703.0,428.2L704.0,428.0L704.8,429.0L703.0,431.0L702.7,433.0L703.1,434.0L706.3,437.0L702.5,443.0L703.0,444.8L704.0,445.2L707.0,443.2L714.0,443.7L717.0,441.8L718.0,441.8L721.0,443.7L725.0,443.7L727.0,441.3L731.0,440.9L732.0,440.1L733.0,437.4L734.0,437.0L738.0,437.9L741.0,441.4L745.0,442.4L747.8,440.0L749.0,439.9L753.0,442.0L760.0,439.8L760.7,439.0L759.9,437.0L760.0,434.8L761.0,433.6L764.0,432.8L766.4,434.0L768.0,436.4L769.0,436.9L774.0,436.8L778.0,438.4L782.0,437.3L784.0,435.5L788.0,437.1L790.0,436.9L791.5,435.0L792.0,432.0L793.0,431.4L795.0,430.9L798.0,431.9L800.0,431.3L802.6,434.0L803.8,438.0L805.0,438.6L806.5,438.0L806.8,437.0L806.2,433.0L808.7,427.0L809.1,423.0L810.0,422.4L815.6,424.0L818.0,425.7L820.0,425.3L823.0,423.1L837.0,428.7L843.0,428.1L845.0,428.4L858.4,436.0L864.0,438.4L868.0,439.5L877.0,438.5L884.0,439.4L896.0,439.4L897.2,438.0L897.9,433.0L900.0,431.4L903.0,430.5L903.0,481.8L896.0,480.3L892.0,480.4L888.0,482.2L886.7,485.0L888.0,487.3L892.0,489.3L896.0,489.5L903.0,488.4L903.0,520.0L899.0,520.5L892.0,523.4L879.0,526.4L876.0,525.0L868.0,525.5L856.0,522.3L850.0,524.0L845.0,522.4L843.0,524.6L839.0,524.9L837.0,524.2L833.0,520.8L825.8,519.0L828.0,517.3L828.7,516.0L825.0,514.3L823.0,512.8L819.2,516.0L819.1,517.0L820.0,518.4L824.0,520.0L820.0,525.1L815.0,528.5L813.0,528.7L806.0,527.5L804.0,528.0L801.0,529.7L799.0,530.1L793.0,528.0L787.0,529.1L779.0,528.5L777.0,527.6L775.6,526.0L772.0,517.6L767.0,516.3L765.6,515.0L763.5,505.0L763.9,503.0L766.7,497.0L773.3,487.0L774.2,484.0L773.9,481.0L771.1,477.0L768.0,474.8L762.0,472.8L755.0,472.4L752.0,472.8L749.4,474.0L744.7,478.0L743.1,480.0L743.5,483.0L749.4,494.0L752.9,498.0L750.8,504.0L752.3,511.0L751.7,514.0L745.9,524.0L745.0,525.1L743.0,526.2L741.0,526.2L736.0,523.9L733.0,523.3L729.0,523.6L725.3,525.0L723.4,525.0L722.0,524.2L716.8,519.0L716.9,517.0L717.4,516.0L720.0,515.5L724.0,513.3L726.0,511.1L726.5,509.0L724.9,501.0L723.0,498.1L720.0,497.1L719.1,496.0L719.2,494.0L721.0,491.1L723.0,490.1L724.0,490.1L728.0,493.0L729.0,493.1L729.0,492.0L728.7,490.0L726.4,486.0L716.0,484.7L714.0,485.6L712.6,488.0L712.7,490.0L715.5,494.0L713.0,498.9L711.3,505.0L711.5,506.0L709.0,508.9L707.6,514.0L707.6,516.0L710.1,521.0L709.0,522.3L706.0,523.3L702.0,522.7L686.0,514.7L667.0,508.6L658.0,507.3L649.0,508.1L642.0,509.5L637.0,509.0L637.1,510.0L641.5,515.0L644.0,517.0L652.0,521.5L660.0,523.2L662.2,525.0L662.2,526.0L659.0,526.8L648.0,526.9L645.0,527.7L642.0,530.3L637.0,537.4L634.0,539.2L631.0,538.8L625.0,536.3L620.0,529.3L618.5,528.0L618.0,525.0L617.0,524.1L615.2,525.0L612.2,528.0L611.8,531.0L611.0,532.5L607.1,529.0L607.5,526.0L607.0,524.7L602.0,522.9L598.0,522.5L595.0,522.5L586.0,524.9L582.0,524.7L577.0,526.6L573.0,527.1L570.0,526.7L562.0,523.3L559.0,522.9L543.0,527.9L539.0,531.4L537.0,532.4L531.5,529.0L525.0,527.4L520.0,525.0L513.0,523.1L500.0,523.5L493.0,525.5L483.0,523.7L471.0,524.3L471.0,489.7L483.0,488.6L486.0,489.6L493.0,493.8L497.0,495.5L514.5,500.0L521.0,502.4L528.0,503.5L535.0,506.9L550.0,508.8L560.0,511.7L561.1,511.0L554.0,504.8L547.0,502.7L543.0,499.9L541.0,499.0L529.0,497.3L520.0,493.0L514.0,488.6L512.0,487.8L493.0,485.4L483.0,482.0L471.0,483.4L471.0,424.9L475.0,426.4L477.6,428.0L480.9,434.0L482.7,435.0L485.7,435.0L489.0,433.3L491.0,432.9L513.0,432.5L524.0,437.0L525.0,438.0L525.9,441.0L528.0,441.8L531.0,441.5L536.0,439.5L545.3,434.0L546.9,432.0L548.1,429.0L552.0,427.8L552.8,427.0L551.1,423.0L552.0,422.1L555.4,423.0L558.0,430.3L559.0,430.7L561.0,429.8L563.5,430.0L564.0,431.0L562.9,434.0L563.1,435.0L565.0,436.4L567.0,436.3L570.7,435.0L572.0,432.7L573.0,432.1L575.0,432.7L576.0,432.0L576.1,431.0L575.0,429.5L574.7,428.0L575.0,426.7L576.0,425.8L578.0,426.0L579.5,429.0L581.0,429.7L587.0,428.6L590.0,429.9L594.0,430.3L599.0,428.5L605.0,424.4L611.0,421.5L613.0,421.8L616.0,423.2L622.0,427.6L624.0,428.4L627.0,428.4L632.0,427.0L635.0,427.4L638.0,429.3L642.0,433.9L645.0,435.0L648.0,435.2L650.0,434.0L653.4,430.0L656.8,423.0L663.1,415.0L666.3,409.0L667.1,404.0L668.0,402.3L673.0,400.5ZM707.0,466.8L702.7,469.0L701.8,471.0L702.6,474.0L706.0,478.3L710.0,479.5L711.0,479.3L713.0,477.4L716.0,477.0L719.0,475.0L718.3,473.0L716.0,470.4L710.0,467.3ZM724.0,478.2L723.5,480.0L724.0,481.1L725.0,481.1L725.8,480.0L725.6,479.0ZM729.0,470.8L728.3,473.0L729.0,474.3L731.0,475.9L733.0,476.4L734.0,476.1L735.8,474.0L736.1,473.0L735.4,472.0L732.0,471.4L730.0,470.0ZM740.0,490.4L737.7,493.0L736.3,497.0L736.6,503.0L738.0,504.7L739.0,505.0L742.0,504.0L743.8,502.0L744.3,499.0L744.1,496.0L745.0,493.0L744.4,492.0L742.0,490.6ZM843.0,517.7L842.5,519.0L843.0,519.7L844.0,519.6L844.5,518.0ZM853.0,512.7L851.2,513.0L851.2,515.0L852.0,516.8L853.0,516.8L854.6,515.0L854.5,514.0ZM882.0,520.6L880.6,522.0L880.4,523.0L881.0,523.9L882.5,522.0ZM892.0,443.8L891.0,444.5L889.6,447.0L889.1,451.0L890.1,454.0L891.0,455.0L893.0,455.7L895.4,454.0L896.1,452.0L896.2,449.0L895.0,445.2L894.0,444.1ZM481.0,449.9L475.0,451.3L472.8,453.0L472.3,455.0L473.1,456.0L475.0,456.8L482.0,458.2L489.0,458.3L498.0,457.8L513.0,459.0L519.0,457.7L522.2,456.0L524.3,454.0L524.1,453.0L522.7,452.0L518.0,450.5L509.0,450.0L502.0,450.4L496.0,449.7L489.0,450.8ZM507.0,437.6L505.0,439.0L504.8,440.0L506.0,441.6L508.0,442.4L513.0,442.0L514.9,441.0L515.5,440.0L515.0,438.6L513.0,437.5L510.0,437.1ZM594.0,458.0L587.0,459.7L581.5,466.0L579.7,469.0L579.7,471.0L580.8,473.0L584.9,477.0L589.0,480.4L591.0,481.1L595.0,484.1L604.0,494.3L606.0,495.4L608.0,495.1L609.6,496.0L609.8,497.0L608.6,500.0L608.7,502.0L607.0,505.3L606.1,509.0L606.7,517.0L609.0,520.2L610.0,520.8L614.0,520.2L616.0,514.5L619.0,511.5L622.3,510.0L623.1,506.0L625.4,503.0L624.3,500.0L626.7,497.0L626.6,496.0L625.1,494.0L621.4,492.0L621.2,491.0L623.0,489.3L624.9,486.0L628.4,482.0L628.7,480.0L628.0,477.6L627.0,476.0L624.5,474.0L619.0,471.9L616.0,471.9L610.7,474.0L609.4,475.0L608.4,478.0L611.1,486.0L610.7,487.0L609.0,488.4L607.0,488.0L605.6,487.0L603.4,481.0L604.2,478.0L603.8,474.0L602.6,471.0L601.0,460.3L600.0,459.6L598.0,459.7ZM634.0,456.8L629.4,458.0L625.6,460.0L624.7,461.0L625.2,463.0L632.0,465.6L637.0,466.2L644.0,464.8L646.0,463.8L647.5,462.0L647.5,460.0L644.0,457.6L639.0,456.6ZM726.0,407.6L729.0,405.1L732.7,409.0L733.0,410.0L732.0,411.3L726.0,414.6L724.0,414.3L720.3,412.0L719.9,411.0L721.0,409.1ZM692.5,407.0L693.0,406.7L694.0,407.0L693.0,408.1ZM763.0,407.0L764.0,407.1L768.0,410.0L768.6,411.0L768.0,412.0L766.0,413.0L758.0,415.1L751.5,414.0L748.8,412.0L748.4,411.0L749.0,410.5L752.0,410.9L755.0,409.4L758.0,409.4ZM787.0,409.3L795.0,407.6L796.8,408.0L798.4,412.0L797.0,412.9L795.0,413.1L785.8,411.0L785.5,410.0ZM598.3,409.0L600.0,408.9L600.4,410.0L597.0,411.6L596.1,411.0L596.6,410.0ZM772.4,410.0L780.0,409.1L782.4,410.0L783.0,411.0L782.4,412.0L780.0,412.9L777.0,412.4L774.0,412.6L771.6,411.0ZM900.1,414.0L903.0,413.2L903.0,421.0L900.8,420.0L899.2,418.0L898.9,416.0ZM844.1,416.0L852.0,415.2L856.0,415.3L867.6,422.0L866.9,423.0L861.2,424.0L858.0,424.1L854.0,423.4L848.0,421.5L845.1,420.0L843.5,418.0L843.4,417.0ZM588.3,425.0L590.0,424.5L590.9,425.0L591.5,427.0L591.0,428.5L588.5,427.0L587.9,426.0ZM705.8,428.0L708.0,426.3L709.1,427.0L708.0,428.3L707.0,428.5ZM713.1,427.0L715.0,426.2L717.0,426.3L719.0,427.0L721.0,429.0L722.9,435.0L720.0,438.1L719.0,438.2L717.6,437.0L716.0,432.4L715.0,431.6L714.0,432.4L712.8,435.0L711.0,435.6L709.5,435.0L709.4,434.0ZM534.1,430.0L536.2,430.0L537.6,431.0L536.9,432.0L531.1,435.0L528.0,435.6L527.8,435.0L528.6,434.0ZM725.3,432.0L727.0,431.5L728.0,431.9L728.8,433.0L728.7,434.0L727.0,435.0L725.0,434.8L724.1,434.0ZM716.9,503.0L719.0,503.9L719.5,505.0L719.5,506.0L718.4,507.0L716.7,507.0L715.3,506.0L715.3,504.0ZM723.7,536.0L725.0,535.6L727.0,536.3L727.9,538.0L727.0,539.8L725.0,540.4L723.0,539.3L722.4,538.0ZM885.8,555.0L888.0,554.5L889.6,555.0L890.1,557.0L889.0,558.6L887.0,558.8L885.8,558.0L885.0,556.0ZM644.1,559.0L649.0,559.1L651.8,560.0L654.5,562.0L655.5,564.0L655.5,569.0L654.6,573.0L652.0,577.1L650.0,578.5L647.0,578.2L638.0,574.3L635.3,572.0L633.4,569.0L633.1,566.0L635.3,563.0L640.0,560.1ZM721.0,571.2L729.0,569.5L734.0,571.4L739.0,571.9L748.0,571.6L753.0,570.2L761.0,570.7L770.0,569.9L778.0,570.2L784.2,572.0L786.6,574.0L787.0,576.0L784.5,578.0L779.0,579.8L754.0,581.3L749.0,580.7L738.0,578.3L725.0,580.1L713.0,579.8L702.0,580.4L694.8,578.0L691.9,576.0L692.2,575.0L694.0,574.0L700.0,571.9L711.0,572.1Z" fill="#f7f6f6" fill-rule="evenodd"/>
<path d="M573.1,409.0L576.0,408.4L577.1,409.0L577.2,410.0L575.0,410.7L573.4,410.0ZM817.3,431.0L819.0,430.4L822.0,430.3L823.7,431.0L824.5,432.0L823.0,436.4L821.6,438.0L821.4,439.0L823.0,440.0L827.0,440.0L832.0,442.4L835.0,443.2L843.0,443.0L858.0,445.1L860.1,446.0L862.4,448.0L867.0,454.4L872.0,456.5L876.0,459.2L882.0,460.4L898.0,460.2L899.9,461.0L903.0,463.7L903.0,473.9L897.0,476.3L887.8,478.0L883.2,480.0L882.3,481.0L882.2,483.0L883.0,485.0L887.8,493.0L892.3,496.0L893.8,498.0L893.9,501.0L892.0,503.9L888.0,505.5L882.0,505.7L878.0,503.8L873.0,498.8L871.0,498.3L865.0,498.7L860.0,499.7L858.0,503.0L856.0,504.0L854.0,502.6L852.0,504.3L847.0,505.3L842.0,504.0L839.3,506.0L837.0,509.2L836.0,509.7L834.0,509.4L832.9,509.0L834.0,507.0L832.0,506.2L828.0,498.3L827.1,500.0L827.5,503.0L826.0,503.4L824.5,501.0L821.0,498.2L815.0,494.9L809.0,493.5L802.1,491.0L791.0,490.1L786.0,488.7L784.0,487.1L783.0,485.5L780.1,479.0L779.5,474.0L778.0,471.7L775.0,470.2L767.0,467.9L757.4,466.0L752.3,461.0L750.3,458.0L750.3,457.0L753.4,453.0L757.0,450.8L762.0,446.3L770.0,442.3L773.0,443.6L786.0,441.8L794.0,443.2L798.0,442.8L805.0,444.2L809.0,444.2L810.0,443.6L811.3,441.0L813.0,439.7L816.0,439.4L819.0,441.1L820.2,440.0L821.0,437.1L822.4,435.0L821.0,433.2L819.0,434.6L817.0,434.0L816.5,433.0ZM577.0,436.0L583.0,435.3L591.0,436.1L593.0,437.0L595.0,438.8L601.0,440.0L604.0,439.8L611.0,437.9L614.0,437.8L622.0,440.4L633.0,442.9L639.0,445.3L642.0,445.9L659.0,445.5L664.0,446.0L670.0,444.5L672.0,446.0L675.1,445.0L679.0,444.9L682.0,442.6L684.5,445.0L686.0,445.3L686.6,444.0L686.0,442.0L686.8,441.0L688.0,440.7L692.0,443.7L696.0,444.1L698.0,446.3L704.0,448.7L706.0,448.5L708.0,446.8L710.0,446.3L714.0,448.6L720.0,448.9L723.0,448.1L725.0,448.8L726.3,450.0L727.6,455.0L727.5,461.0L730.0,463.6L730.8,466.0L729.2,468.0L726.0,470.3L725.0,470.4L720.0,466.3L718.0,465.5L706.0,464.8L702.0,467.3L700.3,469.0L699.4,471.0L701.3,477.0L702.0,477.4L702.0,478.7L700.0,476.6L699.0,479.3L697.0,480.5L695.8,482.0L694.7,486.0L695.4,493.0L694.4,497.0L691.0,500.0L683.0,501.9L677.0,500.0L672.0,499.6L666.4,496.0L660.0,493.1L656.9,490.0L655.6,486.0L654.0,484.0L648.0,480.9L641.0,475.1L638.0,474.5L634.0,475.6L633.3,475.0L634.0,473.7L637.0,471.2L648.0,466.7L652.3,463.0L654.4,460.0L654.3,458.0L653.4,457.0L643.0,453.5L638.0,453.5L616.0,456.7L614.7,457.0L613.0,460.2L611.6,458.0L610.2,457.0L605.0,456.9L596.0,453.2L594.0,453.8L592.0,456.2L589.0,456.8L587.7,456.0L587.3,455.0L588.9,451.0L588.0,449.6L585.8,448.0L582.0,447.0L579.0,449.0L571.0,445.6L570.3,446.0L569.8,448.0L567.0,452.6L564.0,455.3L556.0,457.1L547.0,460.9L535.0,467.3L529.0,467.2L525.7,466.0L525.4,464.0L527.3,461.0L537.0,454.1L542.0,449.1L547.0,445.5L557.0,440.0L562.0,439.8L566.0,441.6L567.6,439.0L568.9,438.0L573.0,437.4ZM670.0,446.9L670.0,448.2L671.0,449.0L672.0,448.9L672.6,448.0L672.0,446.1ZM693.0,467.1L691.2,468.0L691.0,469.2L692.0,470.0L694.0,470.0L694.5,469.0L694.2,468.0ZM794.9,439.0L796.0,438.6L796.6,439.0L796.7,440.0L796.0,441.0L794.9,440.0ZM747.1,447.0L749.0,447.0L749.2,448.0L748.9,450.0L747.4,453.0L748.0,455.3L749.4,457.0L749.2,458.0L748.0,459.1L747.0,458.6L746.9,457.0L746.0,456.0L743.4,455.0L742.8,454.0L743.0,450.0L745.0,447.9ZM902.1,456.0L903.0,454.0L903.0,457.6ZM471.0,464.3L489.0,463.7L495.0,464.5L508.0,468.8L509.7,470.0L510.5,472.0L508.8,474.0L503.0,477.7L501.0,478.4L484.0,477.1L471.0,477.9ZM569.7,476.0L572.0,476.5L581.6,481.0L589.0,486.6L591.0,487.4L594.0,487.0L598.0,489.5L603.1,496.0L604.4,499.0L604.7,502.0L604.0,505.6L603.0,507.3L602.0,507.5L598.0,505.3L596.0,504.9L590.0,507.1L587.0,507.4L577.0,504.2L575.0,503.0L570.0,496.6L564.0,492.9L559.0,488.8L557.4,486.0L557.7,483.0L558.8,481.0L562.0,478.5ZM635.5,483.0L636.0,482.2L638.0,482.6L639.1,485.0L638.0,486.2L637.0,486.4L636.0,485.5ZM703.0,484.0L704.0,484.0L706.3,485.0L706.0,485.5L704.0,485.6L703.0,485.0ZM474.1,494.0L476.0,493.7L479.0,494.2L483.0,495.8L490.0,499.9L501.0,501.8L506.0,503.4L514.1,508.0L517.2,511.0L517.6,512.0L517.3,513.0L509.0,514.8L507.0,514.7L496.4,511.0L487.0,506.7L480.0,505.6L477.0,503.8L471.0,498.6L471.0,495.9ZM707.0,499.0L709.0,495.2L710.0,495.2L710.9,497.0L710.9,499.0L710.0,501.1L708.5,501.0ZM818.0,502.6L818.0,501.5L819.0,501.6L819.0,502.7Z" fill="#d7e8f1" fill-rule="evenodd"/>
<path d="M570.5,440.0L571.4,440.0L572.7,441.0L572.7,442.0L570.8,442.0L570.0,441.0ZM576.7,440.0L579.0,439.6L580.5,440.0L580.1,441.0L578.0,441.8L575.8,441.0ZM556.6,445.0L560.0,444.2L562.0,444.7L562.8,446.0L562.4,448.0L559.1,451.0L554.0,453.5L549.0,455.0L545.0,455.7L544.0,455.3L544.9,453.0L549.0,449.0ZM607.7,446.0L612.2,446.0L614.4,447.0L615.2,448.0L614.1,449.0L611.0,449.5L605.7,449.0L605.0,448.0L605.6,447.0ZM772.0,446.6L780.0,445.5L785.0,445.7L800.0,448.2L803.0,449.8L807.0,450.9L809.0,455.1L813.0,453.9L814.0,454.3L815.0,455.7L816.0,455.8L820.0,451.4L822.8,450.0L839.0,447.7L844.0,447.8L848.0,448.6L852.0,450.7L854.3,453.0L855.9,456.0L856.0,459.0L853.0,463.2L851.0,464.3L840.0,468.0L837.0,467.9L829.0,466.1L827.0,468.4L826.0,468.7L824.2,467.0L824.1,466.0L825.4,465.0L825.6,464.0L825.0,463.5L824.0,463.3L822.9,464.0L823.0,465.1L823.8,466.0L821.0,466.7L813.0,462.1L810.0,462.5L807.2,464.0L806.1,465.0L805.8,467.0L801.0,466.2L800.4,467.0L801.0,468.4L806.0,472.9L807.0,473.2L810.0,470.2L814.0,469.6L815.0,469.8L816.9,472.0L819.0,473.0L823.0,472.3L826.0,472.4L831.0,474.1L838.0,473.8L842.0,475.2L843.0,472.8L844.0,473.1L848.4,478.0L855.0,480.1L858.0,478.0L857.5,477.0L853.7,475.0L853.9,469.0L855.1,467.0L859.0,465.5L869.0,464.4L877.0,465.2L892.0,465.3L898.0,467.4L899.8,469.0L900.0,470.0L898.5,472.0L896.0,473.2L885.0,475.3L868.4,480.0L868.0,481.0L869.7,483.0L877.2,488.0L877.5,489.0L876.0,490.3L866.0,491.4L859.0,492.9L855.0,491.9L854.4,495.0L853.0,495.6L850.0,493.2L846.0,491.9L844.0,494.4L838.0,494.9L836.0,493.3L832.0,493.5L828.0,491.6L819.0,490.3L802.0,486.9L788.7,482.0L787.7,481.0L786.8,479.0L788.4,475.0L788.5,473.0L786.5,470.0L781.3,467.0L767.0,462.3L765.0,461.0L763.9,459.0L763.7,454.0L765.2,451.0ZM684.4,449.0L687.0,449.0L688.7,451.0L690.0,451.3L693.0,450.0L698.0,451.6L701.0,450.7L703.0,451.0L711.0,454.3L712.8,456.0L713.1,458.0L712.5,459.0L710.0,460.4L707.0,460.3L704.0,461.6L701.3,461.0L699.0,459.2L698.0,459.1L695.0,459.3L692.0,461.3L690.0,461.8L688.0,461.7L685.0,460.3L681.0,460.0L678.3,463.0L677.0,463.0L677.7,457.0L679.0,455.7L679.6,453.0L682.0,450.1ZM653.4,451.0L659.0,450.7L661.1,451.0L662.9,452.0L662.0,453.1L656.0,453.4L653.7,453.0L652.2,452.0ZM663.0,463.0L670.0,463.3L671.9,464.0L672.6,465.0L672.0,466.0L669.0,467.0L662.0,467.4L660.0,466.9L659.4,466.0L659.5,465.0L661.0,463.6ZM725.4,464.0L727.0,463.5L728.3,464.0L729.2,466.0L728.5,467.0L727.0,467.9L725.0,467.5L724.1,466.0ZM474.4,469.0L479.0,468.1L489.0,468.5L492.0,469.0L494.6,471.0L494.3,472.0L492.0,473.0L482.0,474.5L478.0,474.6L474.0,473.8L471.0,472.5L471.0,470.5ZM596.9,494.0L598.0,493.4L599.0,493.9L601.0,496.5L601.9,499.0L601.8,500.0L601.0,500.6L598.0,497.7Z" fill="#a7d0e4" fill-rule="evenodd"/>
<path d="M777.0,448.0L781.0,448.0L785.0,449.5L794.3,451.0L797.8,453.0L799.2,455.0L799.3,456.0L798.1,458.0L795.0,460.8L790.0,462.7L782.0,463.0L775.0,461.0L771.0,458.9L769.6,457.0L769.4,455.0L770.1,453.0L772.0,451.1ZM835.7,452.0L841.0,451.1L845.0,451.5L848.0,453.3L848.9,456.0L847.0,458.7L844.0,460.5L841.0,461.1L837.0,460.4L833.0,458.4L831.8,456.0L832.7,454.0ZM690.5,455.0L692.0,454.3L695.0,454.1L697.2,455.0L696.0,456.2L692.0,456.7L690.5,456.0ZM868.0,468.5L878.0,467.9L890.0,468.8L891.1,469.0L892.0,470.0L890.6,471.0L885.0,472.2L875.0,475.3L868.3,475.0L864.8,473.0L864.5,471.0L865.2,470.0ZM479.8,471.0L481.0,471.2L481.6,472.0L478.6,472.0ZM805.9,477.0L810.0,477.6L813.0,476.7L822.0,477.1L849.0,480.9L854.0,483.3L862.0,484.3L864.9,487.0L864.0,488.0L858.0,489.4L855.0,489.1L850.0,490.0L846.0,489.4L835.0,489.8L820.0,487.7L804.0,484.3L798.4,482.0L796.5,480.0L797.1,479.0L799.0,478.1Z" fill="#6bacd1" fill-rule="evenodd"/>
<path d="M780.0,454.0L782.0,453.1L784.0,453.3L788.0,455.0L788.4,456.0L786.0,458.0L783.0,458.5L780.5,457.0L779.5,455.0ZM870.8,471.0L873.0,470.2L876.0,470.2L878.0,471.0L878.0,472.0L876.0,473.2L873.0,473.4L871.4,473.0L870.3,472.0ZM806.8,480.0L820.0,479.5L832.0,480.7L849.0,483.1L854.9,486.0L854.6,487.0L853.0,487.7L850.0,488.2L840.0,488.0L825.0,486.6L819.0,485.6L808.6,483.0L805.7,482.0L804.7,481.0Z" fill="#3783bb" fill-rule="evenodd"/>
<path d="M815.3,482.0L821.0,481.1L831.3,482.0L844.1,484.0L847.9,485.0L848.4,486.0L843.0,486.6L827.0,485.5L818.7,484.0L816.1,483.0Z" fill="#1c5c9f" fill-rule="evenodd"/>
<path d="M558.9,367.0L565.0,366.8L568.6,368.0L571.2,370.0L571.5,371.0L570.9,373.0L568.1,376.0L564.0,377.2L555.0,377.5L552.4,377.0L550.7,376.0L549.4,373.0L550.6,371.0L555.3,368.0ZM667.6,367.0L670.0,366.6L670.8,368.0L670.0,369.0L668.1,368.0ZM782.6,368.0L792.0,368.5L801.0,370.8L808.0,371.3L815.0,373.6L823.0,374.1L829.2,376.0L833.0,377.9L839.0,375.8L842.0,375.8L844.2,377.0L846.6,381.0L846.0,381.9L843.0,381.5L840.0,382.7L839.0,384.0L838.0,387.3L837.0,388.3L833.3,390.0L832.0,393.2L830.0,393.0L829.0,392.3L826.1,389.0L824.9,386.0L823.0,384.8L822.0,384.9L817.5,388.0L817.8,394.0L817.0,395.7L815.0,395.3L814.0,394.0L814.8,391.0L810.0,389.6L809.0,389.7L807.0,392.2L803.0,393.5L800.0,397.2L797.0,395.6L786.0,396.7L783.8,396.0L781.0,393.2L780.0,393.1L777.0,395.4L776.0,395.5L774.3,395.0L773.0,393.1L768.0,391.7L764.7,393.0L762.6,393.0L761.8,392.0L762.8,390.0L761.9,388.0L759.0,386.8L756.0,388.4L755.0,388.4L753.0,384.1L752.0,383.7L747.0,386.3L742.0,384.9L740.0,386.0L736.0,385.9L730.0,389.4L727.0,386.1L725.0,385.7L719.9,387.0L720.5,388.0L722.0,388.4L723.0,390.0L722.0,391.7L718.2,394.0L718.4,396.0L720.7,399.0L720.3,400.0L719.0,400.8L716.3,399.0L715.9,396.0L713.4,391.0L710.0,389.6L708.0,387.8L704.0,387.1L703.0,386.4L701.4,383.0L702.8,381.0L701.0,380.8L700.5,383.0L698.0,384.4L696.0,384.6L688.0,383.6L685.5,382.0L684.6,380.0L685.6,378.0L688.0,375.3L692.0,373.3L697.0,371.7L710.0,370.3L715.0,369.0L734.0,371.3L754.0,370.6L759.0,371.6L768.0,371.6L773.0,372.6L777.0,371.2ZM795.0,386.8L794.0,389.0L794.1,390.0L795.0,390.6L796.3,390.0L796.9,389.0L796.0,387.1ZM798.0,379.9L796.9,381.0L798.0,381.9L798.7,381.0ZM813.0,379.7L813.0,381.0L817.0,383.0L819.0,382.2L819.7,381.0L819.0,379.8L817.0,379.1L814.0,379.2ZM828.0,383.0L827.6,384.0L828.0,385.4L830.0,385.9L831.5,385.0L831.8,384.0L830.0,382.5ZM833.0,382.8L833.1,384.0L834.0,384.5L835.0,384.7L836.2,384.0L836.3,383.0L835.0,382.1ZM714.0,383.5L713.3,385.0L713.4,386.0L714.0,387.6L715.0,388.2L716.0,386.5L716.0,384.4L715.0,383.1ZM782.0,387.1L781.3,388.0L782.0,391.7L783.0,392.9L784.0,392.9L785.4,391.0L785.2,389.0L784.0,387.7ZM555.6,380.0L557.0,379.4L558.0,379.9L558.9,381.0L559.0,382.0L556.0,382.3L555.4,381.0ZM626.3,384.0L628.0,383.3L629.0,383.8L629.6,385.0L628.4,388.0L627.0,389.2L626.0,388.7L624.3,386.0ZM623.3,393.0L625.0,392.3L626.0,393.0L625.7,395.0L627.9,398.0L628.6,400.0L628.3,402.0L625.3,405.0L622.0,407.0L615.0,408.3L612.8,408.0L611.4,407.0L611.0,405.7L610.0,405.5L608.0,406.5L607.0,406.2L607.0,405.0L607.9,404.0L612.0,401.1L615.0,401.0L616.0,401.3L618.0,403.3L619.0,403.6L620.0,403.0L620.4,401.0L620.1,399.0L623.1,397.0L622.8,394.0ZM754.7,396.0L756.0,395.9L756.5,397.0L756.0,397.6L755.0,397.5L754.2,397.0ZM722.7,398.0L724.0,397.5L725.4,398.0L725.0,399.1ZM801.9,400.0L803.0,399.2L804.0,399.4L804.8,401.0L804.0,402.1L802.0,402.2ZM708.9,401.0L710.0,400.3L711.2,401.0L711.0,401.7L710.0,401.9ZM818.7,401.0L822.0,402.0L821.8,404.0L817.0,407.0L814.9,406.0L814.5,405.0L816.6,404.0L818.0,401.4ZM651.4,402.0L655.0,402.3L656.6,404.0L656.2,405.0L653.0,406.2L650.0,405.3L649.1,404.0L649.5,403.0ZM749.3,404.0L751.0,403.1L754.0,403.9L754.7,405.0L754.3,407.0L752.0,408.4L748.9,407.0L748.3,406.0ZM824.5,406.0L827.0,404.2L828.0,404.7L830.2,406.0L831.0,408.1L830.0,409.0L826.0,409.3L824.4,407.0ZM746.6,415.0L756.0,417.9L758.0,417.7L763.0,415.5L766.0,415.0L771.0,415.2L774.0,416.3L780.0,416.3L780.6,417.0L781.0,419.9L782.0,421.0L784.0,425.6L786.0,427.1L787.0,427.0L787.5,426.0L787.6,423.0L786.0,418.0L787.0,416.5L790.0,415.9L794.0,416.8L797.0,416.6L798.1,417.0L798.7,418.0L797.0,419.3L794.0,419.6L791.7,425.0L792.6,428.0L790.0,429.5L788.0,431.7L787.0,432.0L781.0,431.9L778.0,429.7L774.0,428.1L771.0,427.9L768.0,427.0L767.0,427.0L765.0,429.2L759.0,429.3L756.0,427.7L752.0,430.3L748.0,430.0L745.0,430.8L743.0,432.5L742.0,432.5L739.2,431.0L737.4,429.0L735.9,425.0L737.3,423.0L737.0,421.4L735.6,421.0L734.0,423.0L729.0,423.3L728.0,422.6L726.7,420.0L727.3,418.0L730.0,416.8L732.0,416.5L734.0,418.1L735.0,418.3L739.0,415.9L744.0,415.9ZM800.0,417.0L802.0,416.2L802.5,417.0L802.3,418.0L801.0,418.7L799.7,418.0ZM868.8,427.0L870.0,426.5L872.0,426.5L873.6,428.0L873.5,429.0L872.0,430.3L869.0,430.2L867.9,429.0ZM752.7,432.0L754.0,432.0L754.5,433.0L754.0,435.0L753.0,436.1L750.7,436.0L750.4,435.0ZM510.3,454.0L513.0,454.0L514.8,455.0L512.0,456.0L508.8,455.0ZM487.9,455.0L490.0,455.4L490.9,456.0L488.0,456.5L485.2,456.0ZM632.8,459.0L636.0,458.4L639.0,458.7L642.0,459.7L643.2,461.0L642.9,462.0L640.0,463.6L637.0,464.1L634.0,463.9L630.2,462.0L630.0,461.0L630.8,460.0ZM592.2,461.0L594.0,460.8L596.0,462.1L597.7,464.0L600.3,469.0L601.1,476.0L600.4,480.0L603.0,486.0L602.8,488.0L602.0,488.6L599.4,487.0L597.2,483.0L595.0,481.6L593.0,478.9L589.0,476.6L586.1,472.0L585.8,470.0L586.7,467.0L589.7,463.0ZM703.5,470.0L707.0,468.0L709.0,468.3L712.0,471.0L712.5,473.0L710.9,475.0L709.0,476.4L706.0,476.3L704.0,474.3L703.1,472.0ZM615.4,474.0L617.0,474.0L619.3,475.0L624.7,480.0L624.9,481.0L624.3,482.0L620.0,485.5L616.0,485.3L612.2,482.0L610.8,480.0L610.5,478.0L611.0,476.7L612.9,475.0ZM755.9,476.0L760.0,476.1L765.0,478.0L767.3,480.0L767.9,482.0L767.5,483.0L765.5,485.0L761.0,487.4L757.0,487.6L754.0,486.4L751.5,484.0L750.7,481.0L752.2,478.0L754.0,476.6ZM889.3,484.0L892.0,482.3L895.0,482.3L897.0,483.2L898.0,485.0L897.7,486.0L896.0,487.2L892.0,487.5L889.4,486.0ZM472.1,486.0L474.8,486.0L475.3,487.0L474.0,487.6L472.0,487.5L471.3,487.0ZM608.4,506.0L612.0,503.5L613.3,504.0L615.5,509.0L613.0,515.5L611.7,517.0L610.0,517.4L609.0,516.7L608.1,515.0L607.3,510.0ZM716.7,510.0L720.0,509.6L720.7,510.0L718.0,511.4L716.7,511.0ZM822.9,543.0L826.0,542.3L831.0,542.8L833.3,544.0L833.6,546.0L832.0,547.4L830.0,547.9L824.0,547.5L821.0,546.1L820.5,545.0ZM823.0,556.0L827.0,555.6L828.6,556.0L829.7,557.0L827.0,558.3L824.0,558.3L821.7,557.0ZM536.2,559.0L543.0,558.5L545.4,559.0L546.8,560.0L545.0,561.1L541.0,561.6L536.0,561.0L534.0,560.0ZM811.6,571.0L815.0,570.2L819.0,570.2L826.0,570.7L827.2,571.0L827.9,572.0L827.0,573.7L825.5,575.0L819.0,578.5L816.0,579.5L807.0,579.1L804.6,578.0L804.3,577.0L805.6,575.0ZM471.0,582.0L471.0,577.4L473.0,579.4L474.1,582.0ZM616.9,578.0L620.0,578.0L621.1,579.0L621.5,582.0L614.2,582.0L615.0,579.5Z" fill="#f7b799" fill-rule="evenodd"/>
<path d="M788.8,378.0L790.0,377.6L791.0,378.0L792.3,379.0L792.5,380.0L790.0,380.8L788.9,380.0ZM806.6,380.0L808.1,380.0L808.7,381.0L808.0,382.4L807.0,382.6L806.0,382.0L805.7,381.0ZM774.0,382.3L775.2,381.0L775.2,382.0ZM764.5,417.0L766.6,417.0L766.5,418.0L764.6,418.0ZM771.7,424.0L776.0,423.5L777.8,424.0L778.9,425.0L778.4,426.0L776.0,426.1L772.3,425.0ZM634.9,460.0L638.0,460.1L639.6,461.0L639.3,462.0L636.0,462.8L633.1,462.0L632.9,461.0ZM591.5,464.0L593.0,463.0L595.0,463.7L598.9,469.0L599.3,476.0L598.0,480.6L597.0,480.9L595.0,479.8L591.5,476.0L589.7,473.0L589.2,470.0L589.5,468.0ZM706.6,469.0L709.0,469.4L710.8,472.0L710.1,474.0L708.0,475.3L706.0,474.9L705.0,474.1L704.0,472.0L704.7,470.0ZM613.8,476.0L616.0,475.3L618.0,476.0L619.1,477.0L620.1,480.0L619.0,482.2L618.0,482.8L616.0,482.9L613.1,481.0L612.4,480.0L612.2,478.0ZM755.1,479.0L757.0,478.2L760.0,478.7L761.9,480.0L762.3,482.0L759.7,484.0L758.0,484.3L756.0,483.9L754.2,482.0L754.3,480.0ZM892.0,484.0L894.0,483.8L895.2,485.0L894.1,486.0L892.4,486.0L891.3,485.0ZM610.4,506.0L612.1,506.0L613.0,507.5L613.4,510.0L612.3,514.0L611.0,515.4L610.0,515.5L608.8,514.0L608.1,511.0L609.0,507.3Z" fill="#e48066" fill-rule="evenodd"/>
<path d="M592.9,465.0L595.0,465.4L597.2,468.0L598.1,470.0L598.3,475.0L597.0,478.8L596.0,479.0L595.0,478.3L592.8,476.0L591.3,473.0L591.1,468.0L591.9,466.0ZM706.3,470.0L708.0,469.9L709.3,471.0L709.5,473.0L708.4,474.0L707.0,474.2L705.3,473.0L705.1,471.0ZM614.9,477.0L616.7,477.0L617.8,478.0L618.0,479.2L617.0,480.6L616.0,480.9L614.2,480.0L614.0,478.0ZM610.6,508.0L611.8,509.0L612.1,511.0L611.0,513.5L610.0,513.7L609.0,511.0L609.5,509.0Z" fill="#c94741" fill-rule="evenodd"/>
<path d="M592.8,467.0L594.0,466.4L595.0,466.8L597.3,470.0L597.4,475.0L596.0,477.3L593.9,476.0L592.2,473.0L591.9,470.0ZM706.9,471.0L708.0,471.3L708.0,472.6L707.0,472.9L706.2,472.0Z" fill="#a51429" fill-rule="evenodd"/>
<path d="M593.7,468.0L595.0,468.0L596.8,471.0L596.9,474.0L596.0,475.8L595.0,475.8L594.0,475.0L593.0,473.0L592.7,470.0Z" fill="#67001f" fill-rule="evenodd"/>
<path d="M535.8,385.5L541.5,382.4L546.5,381.0L549.5,380.1L554.9,379.0L558.0,379.6L560.6,380.1L564.6,380.4L565.6,380.9L568.2,381.6L570.6,381.0L574.7,380.5L577.9,379.9L579.8,380.5L580.9,381.0L583.5,381.0L586.3,381.6L586.1,382.8L588.5,383.0L591.3,382.8L591.1,383.9L594.4,382.2L597.2,383.0L600.9,382.8L603.1,382.2L604.5,381.0L607.7,378.8L608.9,379.4L607.5,381.0L608.4,382.2L609.7,382.8L612.7,381.0L613.8,380.7L616.3,380.8L615.7,382.2L614.1,383.9L611.7,384.8L609.7,385.1L608.0,386.3L605.4,387.4L603.4,387.7L600.0,389.8L596.9,392.3L595.8,393.9L596.3,396.0L598.8,396.0L601.7,397.7L604.8,398.3L603.9,401.1L603.9,403.0L605.5,403.0L607.1,401.8L607.8,399.2L610.8,397.3L612.6,394.8L611.8,393.5L613.7,391.1L614.3,389.2L617.9,389.5L620.0,390.7L620.6,392.3L619.9,393.8L622.0,394.4L624.1,392.9L625.6,391.8L626.2,394.8L626.6,397.3L628.8,399.2L630.1,401.1L629.4,403.0L626.7,403.7L624.8,404.7L620.7,404.7L617.2,405.6L613.8,407.9L616.9,406.6L619.6,406.3L618.9,408.3L617.8,410.2L619.3,410.2L622.4,408.9L623.1,410.2L619.4,412.0L615.7,413.5L616.3,411.6L615.1,411.8L612.6,412.9L610.6,414.2L610.2,415.5L610.5,416.1L608.2,416.6L605.8,417.4L604.7,419.1L603.3,420.2L602.1,422.2L601.5,424.6L599.5,426.0L597.5,427.2L594.8,428.9L593.8,431.0L594.2,434.3L594.3,437.0L593.5,438.1L592.5,437.3L591.6,434.6L591.9,432.7L590.7,431.6L588.9,432.0L587.4,431.1L585.1,431.2L584.2,432.7L582.5,432.6L579.8,432.0L577.9,432.7L575.2,434.3L574.3,437.0L573.3,439.7L572.9,442.0L573.2,444.4L574.3,446.4L575.9,447.5L578.9,447.0L580.2,446.2L581.1,443.7L583.5,443.1L585.2,443.3L584.3,445.8L583.5,447.4L582.7,449.8L582.3,450.7L585.5,450.6L587.8,451.1L588.6,451.8L588.1,454.5L587.8,457.2L588.9,459.2L590.7,460.2L592.5,459.2L594.2,459.5L595.0,460.6L595.4,460.6L596.6,459.2L597.9,457.5L599.1,456.9L601.6,455.9L602.2,455.3L602.1,457.2L603.9,456.5L605.6,457.5L608.5,457.7L610.9,457.9L613.3,457.6L614.4,459.2L615.5,460.6L617.2,462.6L619.0,463.9L621.3,463.9L623.7,464.6L625.4,465.9L626.6,469.3L627.2,471.3L626.6,472.7L628.9,473.3L630.7,472.9L633.7,474.7L635.5,475.4L637.9,475.9L640.3,476.7L642.1,478.3L644.7,479.1L645.1,481.4L645.1,484.1L643.4,486.1L642.3,488.1L640.6,490.2L640.8,493.5L640.3,496.2L639.9,498.9L638.9,501.6L636.7,502.9L634.4,503.9L632.2,505.2L630.6,507.0L630.7,509.7L629.5,512.4L628.2,515.1L626.9,517.5L625.5,518.8L623.2,518.8L621.3,517.7L623.0,520.4L623.0,523.1L621.6,524.2L618.3,524.5L618.5,526.5L615.7,527.1L617.4,529.1L616.6,531.1L615.4,533.1L615.3,534.4L617.4,535.7L617.0,537.7L615.7,539.7L616.4,541.6L617.3,542.1L615.4,542.6L615.2,543.9L612.9,542.9L610.8,541.6L608.9,539.0L607.6,536.4L606.9,534.4L607.8,532.4L607.9,529.8L606.7,527.8L605.6,525.1L605.3,522.4L605.5,519.8L605.8,517.1L605.3,513.7L605.0,511.0L604.9,507.0L604.9,502.9L604.6,498.9L604.2,496.8L602.7,495.3L600.3,493.9L597.7,491.9L596.7,490.6L595.4,488.1L594.1,485.5L593.0,482.8L591.7,480.7L590.1,479.4L590.2,477.8L591.2,476.4L591.5,475.4L590.3,474.7L590.9,472.7L591.5,471.3L592.7,470.0L593.3,468.6L594.5,467.0L594.6,464.6L594.7,462.6L593.8,461.9L593.6,460.6L592.4,460.2L591.4,461.0L591.1,462.2L590.0,461.6L588.5,460.8L587.4,460.3L586.2,458.8L585.1,457.9L585.2,456.9L583.9,455.2L583.4,454.2L581.6,454.0L579.9,453.3L578.0,452.5L576.1,450.5L575.0,450.3L573.1,450.9L570.9,450.1L569.2,449.1L567.1,447.8L565.3,446.7L563.9,445.8L563.5,444.4L564.0,443.1L563.5,441.1L562.1,439.0L560.7,437.4L560.4,436.1L559.6,435.0L558.8,433.7L558.1,432.0L558.1,430.3L557.2,429.5L556.3,429.4L555.8,431.4L556.5,433.4L557.3,435.0L557.9,437.0L558.6,439.0L559.5,440.8L558.6,441.1L557.4,439.3L557.0,437.3L555.9,435.9L555.0,434.7L555.7,433.4L554.7,432.0L554.4,430.3L554.1,428.3L553.4,426.3L551.3,425.6L550.9,422.9L551.0,421.2L550.4,419.5L550.7,417.7L552.1,415.5L553.0,413.5L555.3,410.2L556.5,407.2L558.4,406.9L559.0,406.0L557.8,404.7L556.0,403.7L556.9,401.8L556.5,399.8L557.0,398.6L556.9,397.0L557.0,394.8L555.2,394.2L554.7,393.2L553.4,392.5L550.8,392.3L548.9,391.4L546.5,391.9L544.4,392.5L541.8,393.2L544.1,391.1L540.6,392.9L537.9,394.2L534.3,395.7L530.6,397.3L527.0,398.3L524.0,398.8L522.5,399.1L526.0,397.9L528.6,397.3L532.2,395.8L535.0,394.2L533.8,393.9L531.1,393.9L532.5,392.5L531.2,391.7L531.7,390.5L532.5,389.5L534.7,388.6L537.5,388.0L540.0,387.2L538.8,386.8L536.8,386.8L536.2,386.3L535.8,385.5ZM631.0,371.8L635.9,370.5L639.4,369.2L643.7,368.3L651.2,367.9L658.7,367.2L665.7,367.2L671.0,367.9L673.6,368.8L678.0,368.8L674.0,370.1L672.2,371.5L672.1,373.5L670.6,375.0L670.3,376.6L667.5,377.7L667.9,379.9L666.0,381.0L663.1,382.2L659.5,382.8L656.4,384.5L653.0,385.4L650.5,386.3L649.0,388.0L647.0,389.8L645.9,392.0L644.3,392.4L643.2,391.4L641.0,391.1L640.3,389.2L639.6,387.4L639.4,385.7L639.3,383.9L640.1,382.2L642.8,381.0L640.7,379.9L640.7,378.3L640.3,376.1L640.1,374.5L637.9,373.8L633.8,374.0L631.8,373.5L631.9,372.5L631.0,371.8ZM665.0,385.7L667.0,384.6L670.5,384.8L673.2,384.7L674.4,386.3L673.0,387.1L669.6,388.2L667.4,387.7L665.9,387.4L666.7,386.6L665.0,385.7ZM621.4,376.4L623.9,377.4L627.0,378.8L628.7,380.1L628.7,381.6L631.8,383.9L631.6,385.1L628.8,386.3L628.6,387.4L626.5,389.0L624.2,388.0L621.1,388.6L620.2,387.1L616.1,387.1L616.2,386.3L620.1,385.7L621.6,383.9L623.0,382.4L620.9,381.6L619.1,380.5L614.0,380.5L611.5,379.4L612.9,377.2L617.3,376.4L621.4,376.4ZM586.6,380.5L589.2,382.2L594.7,382.0L598.4,381.6L599.9,380.5L598.2,379.1L600.0,377.4L598.0,377.0L593.8,377.7L589.6,377.4L587.6,378.8L586.6,380.5ZM582.0,378.3L583.0,379.1L586.1,378.7L590.7,377.2L592.4,376.1L589.9,375.6L586.4,375.8L582.0,378.3ZM617.8,373.5L623.8,373.7L626.1,373.0L629.8,371.5L634.9,370.1L639.8,368.8L642.7,367.9L637.4,367.5L630.4,367.5L624.0,368.1L620.1,368.9L621.6,370.1L621.5,371.5L617.8,373.5ZM611.5,373.5L615.1,374.5L621.5,374.5L622.3,375.4L615.7,375.6L612.8,375.3L611.5,373.5ZM606.8,388.0L609.7,389.2L612.7,387.4L610.5,385.3L607.6,386.8L606.8,388.0ZM593.2,374.8L597.9,375.6L602.6,375.0L602.2,374.0L598.3,374.0L594.8,373.7L593.2,374.8ZM614.6,371.5L618.1,371.8L621.8,370.5L620.7,369.6L616.4,370.1L614.6,371.5ZM603.2,378.3L606.6,378.3L610.1,377.2L609.5,376.1L604.9,376.6L603.2,378.3ZM624.5,408.0L627.6,409.2L630.7,409.3L631.4,408.0L631.1,405.9L629.3,405.0L629.4,403.0L627.5,404.3L625.1,406.9L624.5,408.0ZM587.7,442.4L590.2,441.1L593.1,440.9L595.9,442.0L598.6,444.0L600.0,444.8L599.0,445.2L596.1,445.2L596.8,444.2L594.6,442.9L591.2,441.9L588.8,442.7L587.7,442.4ZM599.5,447.1L601.3,445.2L604.8,445.4L606.4,447.1L604.0,447.5L602.6,448.2L601.7,447.5L599.5,447.1ZM594.9,447.4L597.2,447.6L596.4,448.1L594.9,447.4ZM607.9,447.2L609.7,447.4L609.3,447.9L607.9,447.8L607.9,447.2ZM554.9,404.1L557.6,405.0L557.9,406.9L556.5,406.7L554.7,405.0L554.9,404.1ZM553.5,399.8L554.1,400.5L553.4,402.0L552.9,401.1L553.5,399.8ZM537.4,395.0L538.6,395.4L536.7,396.2L536.2,395.7L537.4,395.0ZM504.5,444.8L505.5,445.5L504.6,446.4L504.3,445.6L504.5,444.8ZM624.3,541.0L627.4,540.8L626.7,541.9L624.6,541.6L624.3,541.0ZM617.2,542.5L618.0,543.3L620.3,544.8L621.7,545.1L618.8,545.8L616.0,545.2L614.0,544.2L615.9,543.8L616.0,542.9L617.2,542.5ZM708.3,379.4L710.3,379.6L713.0,380.3L715.0,381.0L717.6,381.4L721.6,382.8L722.9,384.1L720.5,384.8L716.3,384.3L717.8,386.3L719.9,387.4L721.1,386.8L722.9,386.7L722.9,385.3L724.4,384.6L725.8,384.8L724.9,382.2L726.8,382.8L730.2,382.5L732.6,382.0L736.2,382.2L738.5,381.6L738.4,380.7L741.7,381.3L744.6,381.8L746.3,382.4L744.7,380.5L742.8,378.8L743.4,377.2L746.0,377.4L747.8,379.4L749.5,382.8L751.7,384.1L752.2,382.8L749.8,380.5L748.3,377.7L750.8,378.3L753.3,377.7L752.0,376.6L756.6,376.3L756.2,375.0L759.4,374.2L763.5,373.7L766.4,372.3L770.0,373.3L774.2,373.5L776.8,374.5L775.9,376.1L778.7,376.4L783.1,376.6L787.7,376.4L791.8,377.7L795.5,379.4L797.4,379.6L798.2,378.8L801.5,378.8L802.6,377.7L807.0,377.9L812.4,378.8L815.8,379.4L820.1,379.5L823.8,380.8L826.4,380.8L830.5,380.7L832.3,380.5L834.0,381.6L835.6,380.7L839.9,381.3L842.2,381.6M849.0,386.1L848.7,386.8L847.4,386.6L851.6,388.6L852.9,389.2L850.6,389.2L849.0,390.1L848.4,391.1L848.5,392.3L844.7,391.9L843.1,392.5L843.8,394.2L843.6,395.0L846.8,397.0L847.4,398.6L848.0,401.1L847.6,402.4L847.1,403.7L844.0,401.1L841.2,398.6L838.8,396.0L839.1,394.5L839.2,392.9L839.7,391.7L839.3,390.2L838.3,389.4L836.3,390.5L833.2,390.2L834.7,393.2L832.3,393.5L828.7,392.9L823.3,393.2L822.4,395.2L822.5,397.9L821.5,398.9L824.0,400.1L828.0,400.7L829.9,402.0L831.6,405.0L833.0,407.2L832.5,409.8L832.0,412.9L830.1,414.5L828.2,414.9L827.6,416.2L828.1,417.5L826.5,418.6L828.4,420.2L830.4,422.2L831.2,424.2L829.9,425.3L828.4,425.6L827.8,423.6L827.1,421.6L824.9,420.9L824.1,418.9L822.8,418.2L820.5,419.7L819.5,417.1L817.5,419.3L816.4,419.9L818.7,421.8L820.4,421.2L822.7,421.8L821.4,422.9L820.2,424.6L821.9,426.0L823.5,428.3L825.3,430.3L825.3,431.6L826.1,432.3L826.0,433.9L824.9,436.3L824.2,438.1L822.9,440.0L821.4,441.2L819.2,442.0L816.5,443.1L815.1,443.3L815.0,444.7L814.1,443.1L812.4,442.9L811.1,444.4L810.4,446.4L811.5,448.5L813.5,450.5L815.0,452.5L815.6,455.2L814.9,456.9L813.2,458.0L811.6,459.9L810.7,460.3L810.6,458.5L809.0,457.7L807.7,455.9L805.8,454.9L804.9,453.8L804.7,455.2L804.2,457.2L804.0,459.2L805.5,461.2L806.4,462.9L808.0,463.7L809.3,465.7L809.6,468.4L810.5,470.1L809.5,470.1L807.0,468.2L805.9,465.9L805.6,463.9L804.0,461.6L803.1,460.8L803.2,457.9L803.0,455.2L801.6,452.1L801.3,450.1L799.9,449.8L798.6,450.7L797.4,450.2L797.3,447.8L795.8,445.4L794.2,443.7L793.3,441.9L791.9,442.1L790.2,442.7L787.9,443.1L787.6,444.8L785.9,445.8L783.9,448.3L783.1,449.8L780.9,451.1L781.2,453.8L780.9,456.5L781.0,458.1L780.1,459.5L779.2,460.0L778.4,461.1L777.2,459.9L776.5,457.5L775.1,455.2L774.3,452.5L772.9,449.8L772.1,447.1L771.5,444.4L771.0,443.1L769.2,444.0L767.1,442.0L768.1,441.1L766.1,440.4L764.5,439.0L763.5,437.8L760.6,438.1L757.7,438.2L754.2,437.7L752.6,437.0L751.9,435.7L749.6,436.2L747.6,435.4L745.7,434.5L744.1,432.0L742.5,431.2L741.4,431.6L741.5,432.7L742.7,434.7L744.2,436.1L744.6,437.6L745.5,437.0L746.3,438.4L746.0,439.3L749.2,439.6L751.3,437.7L751.6,436.6L752.1,439.0L754.5,440.2L756.1,441.7L755.2,444.4L754.1,446.4L752.8,447.8L751.1,449.1L748.3,450.1L744.3,452.8L740.3,454.5L737.9,454.9L737.3,453.2L736.8,451.1L736.5,449.4L734.6,446.7L732.3,443.7L731.7,441.1L729.8,438.8L728.7,437.0L726.8,434.3L726.4,432.4L725.9,434.6L725.0,433.9L723.8,431.8L723.3,430.0L725.5,429.9L726.2,427.9L726.8,425.6L726.8,423.6L726.9,422.5L725.0,422.6L722.9,423.4L720.7,422.5L718.9,423.2L717.2,422.5L715.8,420.2L716.0,418.9L715.3,417.9L716.7,417.7L718.3,417.5L718.4,416.6L720.9,416.6L722.9,415.5L724.8,415.5L726.9,416.6L729.7,416.9L731.7,416.2L731.4,414.6L729.3,413.4L727.2,412.2L726.3,411.2L727.4,410.2L727.8,408.7L726.1,408.9L723.8,409.8L725.4,411.2L724.2,411.6L722.4,412.2L721.1,411.0L722.1,410.2L720.2,409.6L718.6,410.5L718.1,411.6L717.3,413.1L716.7,414.9L717.3,416.2L718.2,416.6L716.6,416.9L715.8,417.5L715.0,417.3L712.8,417.1L712.7,418.2L711.5,417.8L711.7,419.1L713.1,420.6L712.3,421.2L712.2,422.9L711.1,422.5L710.2,421.3L709.7,419.5L707.9,417.8L707.7,415.8L706.6,414.9L703.8,413.5L702.6,412.2L701.3,411.6L701.0,410.6L699.7,411.2L699.9,412.6L701.3,413.5L702.1,415.1L704.0,415.8L706.8,417.9L706.8,418.5L705.2,417.5L704.8,418.6L705.4,419.5L704.8,420.5L704.0,421.0L704.2,419.8L703.8,418.2L702.4,417.3L700.2,416.2L698.5,414.9L697.7,413.5L696.0,412.3L694.6,413.1L693.1,414.1L691.4,413.7L690.0,414.2L690.1,415.5L688.8,416.5L687.4,417.3L686.3,418.9L686.8,419.8L685.8,421.3L684.4,422.5L681.6,422.6L680.6,423.4L679.6,422.6L678.5,422.0L676.7,422.2L676.9,420.2L676.1,419.8L677.0,417.5L677.1,415.5L676.7,413.9L678.0,413.3L680.7,413.4L682.8,413.5L684.7,413.7L685.3,412.1L685.4,410.2L684.3,408.7L682.0,407.9L681.7,406.9L683.5,406.6L684.9,406.7L684.7,405.4L685.6,405.8L686.8,405.4L688.2,404.0L690.2,403.2L691.2,401.8L691.6,400.7L693.6,400.5L695.1,399.8L695.1,397.9L694.6,396.0L696.8,395.2L696.7,396.7L697.3,397.9L696.3,398.8L697.6,399.8L699.1,399.3L700.8,399.8L703.0,399.2L705.1,398.9L706.3,399.2L707.4,397.9L707.2,396.0L708.5,395.2L710.3,395.8L710.1,394.4L709.1,393.3L711.4,392.8L713.3,392.8L715.3,392.4L713.5,391.6L711.2,391.8L708.5,392.4L706.7,391.3L706.5,389.2L707.2,387.8L709.2,386.3L709.3,385.5L706.6,385.3L705.9,386.8L704.1,388.4L702.8,390.5L702.8,391.4L704.4,392.3L703.7,393.8L702.6,395.4L702.3,397.0L700.7,397.3L700.6,398.0L699.4,398.0L698.9,396.9L697.5,394.2L696.8,393.2L695.7,393.8L694.3,394.7L692.9,394.7L691.9,393.5L691.3,391.1L691.4,389.8L693.1,388.6L694.8,387.8L696.6,386.6L697.8,385.1L699.3,383.3L700.5,382.0L702.5,380.8L704.9,380.3L706.5,379.6L708.3,379.4M531.0,381.6L532.4,382.4L533.7,383.9L535.0,384.8L533.0,385.7L529.2,387.1L527.3,386.5L526.7,385.7L524.2,386.1M736.8,412.2L736.5,410.9L738.3,409.6L740.9,409.2L742.6,409.6L743.0,411.2L741.3,411.6L741.2,412.5L740.4,412.2L742.1,414.2L743.4,414.9L743.9,416.2L745.3,417.1L744.8,418.9L746.1,420.9L746.6,422.2L744.5,422.6L742.4,421.8L740.8,420.6L740.8,418.9L741.5,417.7L739.9,416.2L738.2,414.6L737.4,413.5L736.8,412.2ZM723.3,430.0L721.2,429.8L719.6,430.4L715.0,429.5L712.6,428.1L710.9,427.9L709.3,428.9L709.4,430.6L708.3,431.2L706.5,430.6L704.2,429.6L703.8,428.4L701.3,427.7L699.2,427.3L698.1,426.3L698.7,424.2L698.5,422.5L697.7,421.8L696.0,422.2L693.8,422.2L690.5,422.4L687.7,422.9L685.5,424.0L683.8,424.6L681.6,424.6L680.6,423.7L679.9,424.0L678.9,426.3L677.0,427.2L675.8,428.9L675.4,431.0L675.2,432.3L673.4,434.1L671.7,434.7L669.9,436.8L668.3,439.7L666.8,442.7L667.0,443.7L667.7,445.8L667.2,449.1L667.1,450.5L666.0,452.2L666.8,454.5L666.8,455.5L668.3,456.9L669.4,458.1L670.9,459.6L671.2,461.2L673.0,462.7L675.3,464.6L677.5,466.1L680.7,465.0L683.6,465.3L685.4,464.9L687.8,463.9L689.8,463.4L691.9,463.5L693.1,465.3L694.6,466.2L696.7,465.9L697.9,466.9L698.2,468.6L697.8,470.7L697.3,472.9L698.2,475.4L699.7,477.4L700.8,479.1L701.2,480.1L702.0,482.8L702.8,486.1L702.5,488.5L701.1,490.8L700.5,493.5L700.4,496.2L701.8,499.6L703.5,502.3L703.4,505.0L703.9,507.9L705.3,510.3L706.2,513.0L707.3,515.7L707.3,517.7L708.8,518.8L711.3,518.0L714.7,517.7L717.0,517.5L718.8,516.1L721.3,513.4L723.0,511.0L724.4,508.3L724.5,506.7L726.5,505.4L727.8,503.6L727.7,500.9L727.3,498.6L729.3,496.9L731.2,495.1L733.6,493.5L734.5,491.5L734.4,488.8L734.4,486.1L733.4,483.4L733.2,481.1L732.6,480.1L733.1,478.3L734.4,475.6L735.9,474.3L737.7,471.6L739.7,469.7L741.8,468.0L743.6,465.9L745.3,462.6L746.4,459.2L747.1,456.1L744.5,456.8L741.6,457.5L739.2,458.0L737.8,456.5L737.6,455.2L735.5,453.2L733.7,451.4L732.8,450.1L731.7,447.8L730.2,445.8L730.0,443.7L729.0,441.7L727.8,439.7L726.4,437.0L725.1,434.6L723.8,431.8L723.3,430.0ZM744.8,488.1L745.8,492.9L744.9,494.9L743.9,497.6L742.5,501.6L741.2,505.4L739.2,506.3L737.5,505.6L737.1,502.3L738.3,498.9L738.2,495.5L739.5,493.5L741.9,492.2L743.2,490.2L744.8,488.1ZM680.7,404.9L683.0,404.6L685.6,404.1L687.9,403.4L688.3,401.5L686.8,401.1L686.6,400.2L685.4,399.1L684.9,397.7L684.1,397.0L684.7,395.4L682.7,395.2L683.5,394.0L681.8,394.0L680.8,395.4L681.2,397.3L681.8,398.2L681.7,398.9L683.3,398.8L683.6,400.5L682.1,400.9L682.2,402.0L681.3,402.7L683.0,403.2L682.2,403.7L680.7,404.9ZM680.3,402.1L680.6,400.5L681.0,399.1L680.2,398.3L678.5,398.3L676.6,399.6L676.7,400.7L676.1,402.4L676.9,403.0L679.0,402.4L680.3,402.1ZM694.9,371.5L697.5,373.0L699.9,373.4L701.1,372.0L703.3,371.8L702.2,370.5L706.5,370.1L703.5,369.7L699.2,370.1L697.0,370.3L694.8,370.8L694.9,371.5ZM729.8,378.8L730.3,377.4L730.9,375.6L731.9,374.5L735.3,373.7L737.8,373.0L740.3,373.2L738.9,374.3L735.0,375.6L734.3,377.2L734.0,378.8L735.3,379.7L732.3,379.7L729.8,378.8ZM758.0,371.0L760.8,370.4L766.1,371.5L763.0,372.0L758.0,371.0ZM795.4,374.5L801.4,374.3L806.7,375.0L801.4,375.3L795.4,374.5ZM723.3,369.8L727.8,369.9L731.6,369.2L726.4,369.0L723.3,369.8ZM828.4,399.4L830.9,401.1L833.4,403.7L836.2,406.3L837.1,408.9L837.0,410.2L835.1,407.6L832.9,405.0L830.8,402.4L828.4,399.4ZM839.1,416.2L839.1,414.2L837.3,411.0L840.1,412.5L843.0,413.5L841.9,414.3L841.6,415.5L839.2,415.1L839.1,416.2ZM840.4,416.5L842.6,418.9L842.6,420.9L844.0,423.6L843.5,424.9L842.4,425.3L840.4,425.4L839.7,426.9L838.2,425.6L836.1,426.0L834.0,426.3L833.6,425.3L834.8,424.2L837.5,424.0L838.8,422.5L838.8,421.6L840.4,422.0L840.7,419.8L840.0,418.2L839.4,416.6L840.4,416.5ZM833.2,426.9L835.0,426.7L835.9,428.9L835.3,430.3L834.2,428.9L833.1,427.6L833.2,426.9ZM835.7,426.3L837.8,426.0L838.0,427.2L836.9,427.9L835.9,427.2L835.7,426.3ZM827.1,438.1L827.6,439.0L827.3,442.4L826.1,441.1L826.4,438.8L827.1,438.1ZM813.7,446.2L815.6,445.1L816.3,445.8L815.4,447.2L814.0,447.1L813.7,446.2ZM781.3,458.8L782.8,460.6L783.6,462.6L782.7,463.7L781.8,463.9L781.1,461.9L781.1,460.2L781.3,458.8ZM827.7,447.1L829.7,447.1L830.2,449.8L829.6,451.8L830.4,453.2L832.8,453.8L833.0,454.9L831.1,453.8L829.3,453.6L828.1,452.1L827.6,450.5L827.7,447.1ZM831.3,462.6L832.9,460.6L835.1,458.8L836.5,461.2L836.3,463.5L835.4,464.5L833.7,463.3L833.0,461.9L831.3,462.6ZM833.3,455.2L834.8,455.9L835.1,458.1L834.3,458.3L833.5,456.5L833.3,455.2ZM830.7,456.1L832.2,456.5L832.6,459.5L831.5,458.8L830.9,457.7L830.7,456.1ZM825.5,460.7L828.0,457.9L827.6,456.9L826.3,459.2L825.5,460.7ZM816.2,470.0L816.9,469.3L818.9,468.6L820.8,467.6L822.6,465.7L824.2,463.3L825.4,462.6L826.3,463.7L827.9,465.0L826.7,466.2L826.4,468.0L826.9,470.4L826.3,471.6L825.1,474.0L824.4,476.7L822.6,477.4L820.8,476.3L819.1,476.4L817.5,475.8L817.3,474.0L816.4,472.7L816.2,470.0ZM799.7,464.5L802.3,465.0L804.2,467.0L806.0,468.9L807.8,470.3L809.6,472.0L810.8,474.3L812.5,476.0L812.3,479.8L810.6,479.8L808.3,477.8L806.6,475.4L804.9,472.4L803.7,469.7L801.8,468.0L800.0,465.5L799.7,464.5ZM811.4,481.1L813.0,480.1L815.3,480.9L818.0,480.7L820.3,481.4L822.3,482.5L822.2,483.7L819.3,483.2L815.8,482.5L812.9,482.0L811.4,481.1ZM829.2,470.4L831.0,470.7L833.4,470.8L835.2,469.8L834.6,471.5L832.8,471.5L830.4,471.5L829.5,473.1L830.7,473.6L833.1,473.1L832.2,474.4L831.4,474.7L832.1,476.7L832.7,478.1L832.0,479.1L831.0,478.3L830.4,476.0L829.6,476.3L829.5,479.4L828.4,479.3L828.6,476.7L827.8,475.6L828.4,473.7L829.0,471.7L829.2,470.4ZM824.9,483.3L827.6,483.2L829.4,483.2L832.4,483.2L832.1,483.8L828.7,484.0L825.2,484.1L824.9,483.3ZM832.7,485.9L834.6,484.1L837.3,483.3L835.8,484.5L833.3,485.9L832.7,485.9ZM838.1,469.3L839.3,470.0L838.8,472.0L838.5,470.7L838.1,469.3ZM838.7,476.0L842.0,476.4L840.4,476.7L838.7,476.0ZM842.3,473.1L844.1,472.5L845.9,473.1L846.1,475.4L847.0,476.4L848.8,475.0L850.6,474.3L854.1,475.5L856.5,476.6L858.2,477.2L859.7,479.1L861.6,480.1L861.9,481.4L860.9,481.4L862.0,482.8L863.1,484.1L864.7,485.9L863.7,486.1L861.7,485.7L860.1,484.1L858.5,482.5L856.7,483.0L855.9,484.4L854.2,484.4L852.5,483.0L850.7,483.2L850.0,482.1L851.2,481.4L850.4,479.4L848.1,478.1L845.8,477.1L844.3,477.4L843.4,475.8L845.2,475.1L843.5,474.7L842.3,473.1ZM862.9,479.5L865.2,479.4L867.1,477.7L867.4,478.7L865.8,480.1L863.4,480.3L862.9,479.5ZM865.8,475.5L867.7,477.1L868.3,478.3L867.1,477.1L865.8,475.5ZM870.5,480.1L871.6,481.4L871.0,481.1L870.5,480.1ZM872.7,482.1L875.6,483.2L874.4,483.2L872.7,482.1ZM876.0,484.6L877.3,485.7L876.3,485.5L876.0,484.6ZM878.1,498.9L880.8,502.0L879.8,501.6L878.1,498.9ZM894.5,495.5L896.0,495.7L895.3,496.5L894.3,496.2L894.5,495.5ZM882.7,492.2L883.3,493.3L883.0,493.1L882.7,492.2ZM818.7,501.6L819.3,501.3L821.9,500.0L824.9,499.3L828.0,498.4L829.9,496.2L830.0,494.9L831.5,495.3L831.9,493.8L833.6,492.9L835.1,490.8L836.8,491.1L837.5,492.2L839.0,492.2L839.7,490.2L840.7,488.8L841.3,488.4L843.1,488.3L843.2,487.2L846.0,488.4L848.2,488.4L847.0,490.2L846.1,492.2L847.7,493.3L849.8,494.6L851.3,495.7L852.7,493.5L853.6,490.8L853.8,488.8L855.1,486.5L856.0,489.2L855.7,491.2L857.6,492.2L857.5,494.2L857.7,497.3L859.0,498.2L860.2,499.6L860.6,501.6L861.8,502.9L862.2,504.6L863.4,506.3L863.1,509.0L862.3,511.0L860.7,513.7L858.8,516.0L856.8,517.7L854.8,520.0L853.1,522.2L851.0,522.8L847.9,524.5L846.8,523.5L844.8,524.2L842.9,523.5L841.8,522.4L842.3,520.4L841.2,519.8L842.2,517.1L842.4,516.0L840.8,517.7L839.0,519.1L838.6,518.7L838.5,516.4L836.8,515.1L835.4,514.4L833.0,514.6L829.9,515.5L827.2,516.4L825.6,517.6L823.4,517.6L820.9,518.1L818.9,519.1L816.6,519.1L815.8,518.1L817.1,516.4L818.0,514.4L817.9,512.4L817.9,510.3L817.4,507.7L817.9,505.6L818.5,503.6L818.7,501.6ZM844.5,526.9L846.2,527.3L848.3,527.0L847.1,528.7L845.2,530.5L843.5,530.6L843.7,529.1L844.5,526.9ZM880.5,518.4L881.5,519.8L881.8,521.5L881.7,522.6L883.9,522.6L883.4,523.8L881.0,525.1L879.8,526.5L877.1,527.9L876.8,527.5L878.1,526.1L877.7,524.9L879.3,523.8L880.5,522.2L880.6,520.8L880.5,518.4ZM875.3,526.5L876.0,527.8L873.9,529.5L872.1,530.7L869.9,531.5L867.7,533.5L865.4,534.6L864.0,534.4L862.9,533.8L865.3,532.2L867.2,531.1L870.4,529.8L872.7,528.2L875.3,526.5ZM758.1,537.7L759.8,537.8L759.0,538.6L757.8,538.4L758.1,537.7ZM695.5,416.9L697.2,416.9L697.2,419.3L696.0,419.5L695.5,416.9ZM695.9,414.9L696.8,414.2L696.8,416.2L696.2,416.1L695.9,414.9ZM700.4,420.9L703.8,420.6L703.5,422.6L701.0,421.8L700.4,420.9ZM713.0,424.2L715.9,424.6L714.1,424.9L713.0,424.2ZM722.8,424.9L725.2,424.1L724.5,425.2L722.8,424.9ZM563.6,577.7L570.0,577.6L577.4,577.8L584.6,577.9L589.3,577.9L588.5,577.6L583.4,577.4L580.0,577.0L578.2,576.1L574.9,575.2L577.8,575.1L578.9,574.2L575.1,573.4L569.8,573.0L565.9,572.0L563.7,571.0L568.4,571.3L571.4,570.8L571.5,570.0L571.1,569.3L574.7,569.1L577.5,568.2L581.8,568.4L585.8,568.4L589.9,568.4L591.6,567.9L594.2,567.7L596.6,568.6L600.2,569.0L603.4,569.0L606.5,569.3L605.6,568.4L602.6,567.6L601.0,566.4L604.1,566.6L606.9,567.4L610.3,567.0L612.8,566.4L615.9,566.9L620.3,567.7L620.6,566.9L624.4,567.8L627.6,567.1L630.5,566.6L630.7,565.7L628.5,564.0L627.7,562.7L627.8,561.5L626.9,560.4L627.7,559.2L628.7,558.0L630.4,557.3L632.4,556.2L633.5,555.7L634.1,556.0L633.2,556.8L632.1,557.0L631.5,557.7L630.7,558.8L631.3,559.2L629.9,559.5L629.0,560.7L629.8,561.7L631.7,562.4L633.5,563.7L634.7,564.6L635.7,565.7L636.8,567.0L636.8,568.0L635.6,568.5L634.3,569.6L631.9,570.6L626.4,570.7L629.6,571.5L627.4,572.4L628.2,573.2L630.5,573.9L634.9,574.6L639.3,575.2L644.0,576.0L645.8,576.6L647.6,576.1L650.7,575.4L654.3,575.5L656.1,575.7L657.0,575.2L660.5,574.9L664.7,574.5L665.7,574.2L664.4,573.3L660.1,573.5L659.4,572.3L662.0,571.6L664.0,570.7L666.6,570.3L669.3,570.0L672.6,569.1L674.0,567.9L673.5,567.3L675.9,566.5L677.4,565.2L679.5,565.3L680.7,564.5L683.2,565.0L685.3,564.9L687.5,564.0L690.0,564.1L692.6,563.7L695.1,564.1L697.7,563.5L700.2,563.7L702.9,563.4L706.1,564.1L709.6,563.6L712.4,562.7L715.2,562.2L716.8,562.6L719.1,563.3L721.1,562.5L723.3,561.2L727.0,560.8L729.4,560.2L731.3,560.0L733.1,558.9L735.8,558.9L737.1,559.9L738.6,560.4L740.9,561.0L743.5,561.1L746.1,561.1L746.7,562.3L746.3,563.3L744.3,563.9L744.3,564.9L744.0,566.0L745.8,565.7L747.8,564.6L749.5,563.4L752.1,562.7L754.3,562.0L756.6,561.1L758.8,560.6L761.7,560.2L764.6,559.2L766.2,560.1L769.0,559.9L770.3,560.4L773.0,560.3L775.1,560.0L778.1,558.5L779.7,559.7L782.2,560.0L784.7,559.6L787.7,558.8L788.7,559.6L790.7,560.3L793.8,559.9L796.7,559.6L799.5,559.5L802.4,559.3L805.2,559.2L808.1,558.1L807.7,559.7L810.6,559.9L813.2,560.0L814.4,560.8L815.6,561.6L817.6,562.0L820.3,561.9L821.0,562.7L823.1,563.1L823.8,564.1L825.4,564.4L827.9,564.4L829.4,565.1L829.2,565.7L826.1,567.0L822.6,567.9L819.4,568.7L816.5,569.5L813.5,570.8L811.8,572.2L812.1,572.8L807.3,573.5L803.8,574.4L803.0,575.1L802.6,576.0L803.6,576.5L803.8,577.1L805.3,577.3L807.2,577.4L808.7,577.6L809.6,577.7" fill="none" stroke="#000" stroke-width="2.1" stroke-linejoin="round" stroke-linecap="round"/>
</g>
<path d="M800.5,580.5L805.4,579.1L811.2,577.1L817.7,574.7L824.5,571.8L831.2,568.7L837.2,565.4L842.8,562L848.2,558.4L853.3,554.8L858.3,551.1L863.1,547.3L867.7,543.4L871.9,539.5L875.7,535.5L879.3,531.4L882.6,527.4L885.6,523.3L888.3,519.2L890.6,515.1L892.7,511L894.4,506.9L895.7,502.8L896.9,498.7L897.9,494.6L898.8,490.5L899.5,486.4L900,482.3L900.3,478.2L900.5,474.1L900.5,469.9L900.3,465.8L900,461.7L899.5,457.6L898.8,453.5L897.9,449.4L896.9,445.3L895.7,441.2L894.4,437.1L892.7,433L890.6,428.9L888.3,424.8L885.6,420.7L882.6,416.6L879.3,412.6L875.7,408.5L871.9,404.5L867.7,400.6L863.1,396.7L858.3,392.9L853.3,389.2L848.2,385.6L842.8,382L837.2,378.6L831.2,375.3L824.5,372.2L817.7,369.3L811.2,366.9L805.4,364.9L800.5,363.5L572.7,363.5L567.8,364.9L562,366.9L555.5,369.3L548.7,372.2L542,375.3L536,378.6L530.4,382L525,385.6L519.9,389.2L514.9,392.9L510.1,396.7L505.5,400.6L501.3,404.5L497.5,408.5L493.9,412.6L490.6,416.6L487.6,420.7L484.9,424.8L482.6,428.9L480.5,433L478.8,437.1L477.5,441.2L476.3,445.3L475.3,449.4L474.4,453.5L473.7,457.6L473.2,461.7L472.9,465.8L472.7,469.9L472.7,474.1L472.9,478.2L473.2,482.3L473.7,486.4L474.4,490.5L475.3,494.6L476.3,498.7L477.5,502.8L478.8,506.9L480.5,511L482.6,515.1L484.9,519.2L487.6,523.3L490.6,527.4L493.9,531.4L497.5,535.5L501.3,539.5L505.5,543.4L510.1,547.3L514.9,551.1L519.9,554.8L525,558.4L530.4,562L536,565.4L542,568.7L548.7,571.8L555.5,574.7L562,577.1L567.8,579.1L572.7,580.5Z" fill="none" stroke="#c8c8cc" stroke-width="1.4"/>
<text class="t" x="104.8" y="18.0" font-size="22" fill="#222" stroke="#222" stroke-width="0.45" textLength="87.5" lengthAdjust="spacingAndGlyphs">Seasonal</text>
<text class="t" x="199.8" y="18.0" font-size="22" fill="#222" stroke="#222" stroke-width="0.45" textLength="37.2" lengthAdjust="spacingAndGlyphs">bias</text>
<text class="t" x="245.0" y="18.0" font-size="22" fill="#222" stroke="#222" stroke-width="0.45" textLength="17.3" lengthAdjust="spacingAndGlyphs">of</text>
<text class="t" x="270.0" y="18.0" font-size="22" fill="#222" stroke="#222" stroke-width="0.45" textLength="32.2" lengthAdjust="spacingAndGlyphs">Top</text>
<text class="t" x="312.0" y="18.0" font-size="22" fill="#222" stroke="#222" stroke-width="0.45" textLength="33.2" lengthAdjust="spacingAndGlyphs">net</text>
<text class="t" x="354.5" y="18.0" font-size="22" fill="#222" stroke="#222" stroke-width="0.45" textLength="99.8" lengthAdjust="spacingAndGlyphs">long-wave</text>
<text class="t" x="462.8" y="18.0" font-size="22" fill="#222" stroke="#222" stroke-width="0.45" textLength="87.8" lengthAdjust="spacingAndGlyphs">radiation</text>
<text class="t" x="558.6" y="18.0" font-size="22" fill="#222" stroke="#222" stroke-width="0.45" textLength="36.4" lengthAdjust="spacingAndGlyphs">flux</text>
<text class="t" x="602.5" y="18.0" font-size="22" fill="#222" stroke="#222" stroke-width="0.45" textLength="25.0" lengthAdjust="spacingAndGlyphs">for</text>
<text class="t" x="637.0" y="18.0" font-size="22" fill="#222" stroke="#222" stroke-width="0.45" textLength="113.3" lengthAdjust="spacingAndGlyphs">EC-EARTH4</text>
<text class="t" x="756.3" y="18.0" font-size="22" fill="#222" stroke="#222" stroke-width="0.45" textLength="40.7" lengthAdjust="spacingAndGlyphs">cata</text>
<text class="t" x="303.6" y="43.0" font-size="22" fill="#222" stroke="#222" stroke-width="0.45" textLength="74.9" lengthAdjust="spacingAndGlyphs">relative</text>
<text class="t" x="387.1" y="43.0" font-size="22" fill="#222" stroke="#222" stroke-width="0.45" textLength="17.9" lengthAdjust="spacingAndGlyphs">to</text>
<text class="t" x="412.9" y="43.0" font-size="22" fill="#222" stroke="#222" stroke-width="0.45" textLength="61.5" lengthAdjust="spacingAndGlyphs">CERES</text>
<text class="t" x="482.3" y="43.0" font-size="22" fill="#222" stroke="#222" stroke-width="0.45" textLength="116.8" lengthAdjust="spacingAndGlyphs">climatology</text>
<text class="t" x="215.3" y="75.9" text-anchor="middle" font-size="22.3" fill="#2c4a4e" stroke="#2c4a4e" stroke-width="0.55" textLength="38.6" lengthAdjust="spacingAndGlyphs">DJF</text>
<text class="t" x="686.3" y="75.9" text-anchor="middle" font-size="22.3" fill="#2c4a4e" stroke="#2c4a4e" stroke-width="0.55" textLength="51.3" lengthAdjust="spacingAndGlyphs">MAM</text>
<text class="t" x="215.3" y="346.4" text-anchor="middle" font-size="22.3" fill="#2c4a4e" stroke="#2c4a4e" stroke-width="0.55" textLength="36.5" lengthAdjust="spacingAndGlyphs">JJA</text>
<text class="t" x="686.3" y="346.4" text-anchor="middle" font-size="22.3" fill="#2c4a4e" stroke="#2c4a4e" stroke-width="0.55" textLength="46" lengthAdjust="spacingAndGlyphs">SON</text>
<path d="M178.2,641.4L150.9,652.8L178.2,664.1Z" fill="#053061"/>
<path d="M723.8,641.4L751.1,652.8L723.8,664.1Z" fill="#67001f"/>
<rect x="178.00" y="641.4" width="50.00" height="22.7" fill="#1c5c9f"/>
<rect x="227.60" y="641.4" width="50.00" height="22.7" fill="#3783bb"/>
<rect x="277.20" y="641.4" width="50.00" height="22.7" fill="#6bacd1"/>
<rect x="326.80" y="641.4" width="50.00" height="22.7" fill="#a7d0e4"/>
<rect x="376.40" y="641.4" width="50.00" height="22.7" fill="#d7e8f1"/>
<rect x="426.00" y="641.4" width="50.00" height="22.7" fill="#f7f6f6"/>
<rect x="475.60" y="641.4" width="50.00" height="22.7" fill="#fcdfcf"/>
<rect x="525.20" y="641.4" width="50.00" height="22.7" fill="#f7b799"/>
<rect x="574.80" y="641.4" width="50.00" height="22.7" fill="#e48066"/>
<rect x="624.40" y="641.4" width="50.00" height="22.7" fill="#c94741"/>
<rect x="674.00" y="641.4" width="50.00" height="22.7" fill="#a51429"/>
<path d="M150.9,652.8L178.2,641.4L723.8,641.4L751.1,652.8L723.8,664.1L178.2,664.1Z" fill="none" stroke="#c8c8cc" stroke-width="1.2"/>
<path d="M178.2,664.1V668.6" stroke="#333" stroke-width="1"/>
<text class="t" x="178.2" y="685" text-anchor="middle" font-size="12.6" fill="#222" stroke="#222" stroke-width="0.25" textLength="41.4" lengthAdjust="spacingAndGlyphs">−30.00</text>
<path d="M227.8,664.1V668.6" stroke="#333" stroke-width="1"/>
<text class="t" x="227.8" y="685" text-anchor="middle" font-size="12.6" fill="#222" stroke="#222" stroke-width="0.25" textLength="41.4" lengthAdjust="spacingAndGlyphs">−24.55</text>
<path d="M277.4,664.1V668.6" stroke="#333" stroke-width="1"/>
<text class="t" x="277.4" y="685" text-anchor="middle" font-size="12.6" fill="#222" stroke="#222" stroke-width="0.25" textLength="41.4" lengthAdjust="spacingAndGlyphs">−19.09</text>
<path d="M327.0,664.1V668.6" stroke="#333" stroke-width="1"/>
<text class="t" x="327.0" y="685" text-anchor="middle" font-size="12.6" fill="#222" stroke="#222" stroke-width="0.25" textLength="41.4" lengthAdjust="spacingAndGlyphs">−13.64</text>
<path d="M376.6,664.1V668.6" stroke="#333" stroke-width="1"/>
<text class="t" x="376.6" y="685" text-anchor="middle" font-size="12.6" fill="#222" stroke="#222" stroke-width="0.25" textLength="34.4" lengthAdjust="spacingAndGlyphs">−8.18</text>
<path d="M426.2,664.1V668.6" stroke="#333" stroke-width="1"/>
<text class="t" x="426.2" y="685" text-anchor="middle" font-size="12.6" fill="#222" stroke="#222" stroke-width="0.25" textLength="34.4" lengthAdjust="spacingAndGlyphs">−2.73</text>
<path d="M475.8,664.1V668.6" stroke="#333" stroke-width="1"/>
<text class="t" x="475.8" y="685" text-anchor="middle" font-size="12.6" fill="#222" stroke="#222" stroke-width="0.25" textLength="27.0" lengthAdjust="spacingAndGlyphs">2.73</text>
<path d="M525.4,664.1V668.6" stroke="#333" stroke-width="1"/>
<text class="t" x="525.4" y="685" text-anchor="middle" font-size="12.6" fill="#222" stroke="#222" stroke-width="0.25" textLength="27.0" lengthAdjust="spacingAndGlyphs">8.18</text>
<path d="M575.0,664.1V668.6" stroke="#333" stroke-width="1"/>
<text class="t" x="575.0" y="685" text-anchor="middle" font-size="12.6" fill="#222" stroke="#222" stroke-width="0.25" textLength="34.0" lengthAdjust="spacingAndGlyphs">13.64</text>
<path d="M624.6,664.1V668.6" stroke="#333" stroke-width="1"/>
<text class="t" x="624.6" y="685" text-anchor="middle" font-size="12.6" fill="#222" stroke="#222" stroke-width="0.25" textLength="34.0" lengthAdjust="spacingAndGlyphs">19.09</text>
<path d="M674.2,664.1V668.6" stroke="#333" stroke-width="1"/>
<text class="t" x="674.2" y="685" text-anchor="middle" font-size="12.6" fill="#222" stroke="#222" stroke-width="0.25" textLength="34.0" lengthAdjust="spacingAndGlyphs">24.55</text>
<path d="M723.8,664.1V668.6" stroke="#333" stroke-width="1"/>
<text class="t" x="723.8" y="685" text-anchor="middle" font-size="12.6" fill="#222" stroke="#222" stroke-width="0.25" textLength="34.0" lengthAdjust="spacingAndGlyphs">30.00</text>
<text class="t" x="316.8" y="703.5" font-size="12.6" fill="#222" stroke="#222" stroke-width="0.25" textLength="22.1" lengthAdjust="spacingAndGlyphs">Top</text>
<text class="t" x="344.8" y="703.5" font-size="12.6" fill="#222" stroke="#222" stroke-width="0.25" textLength="18.6" lengthAdjust="spacingAndGlyphs">net</text>
<text class="t" x="368.4" y="703.5" font-size="12.6" fill="#222" stroke="#222" stroke-width="0.25" textLength="64.2" lengthAdjust="spacingAndGlyphs">long-wave</text>
<text class="t" x="437.3" y="703.5" font-size="12.6" fill="#222" stroke="#222" stroke-width="0.25" textLength="49.0" lengthAdjust="spacingAndGlyphs">radiation</text>
<text class="t" x="491.6" y="703.5" font-size="12.6" fill="#222" stroke="#222" stroke-width="0.25" textLength="23.9" lengthAdjust="spacingAndGlyphs">flux</text>
<text class="t" x="524.2" y="703.5" font-size="12.6" fill="#222" stroke="#222" stroke-width="0.25" textLength="18.0" lengthAdjust="spacingAndGlyphs">[W</text>
<text class="t" x="546.6" y="703.5" font-size="12.6" fill="#222" stroke="#222" stroke-width="0.25" textLength="37.2" lengthAdjust="spacingAndGlyphs">m**-2]</text>
</svg></body></html>
